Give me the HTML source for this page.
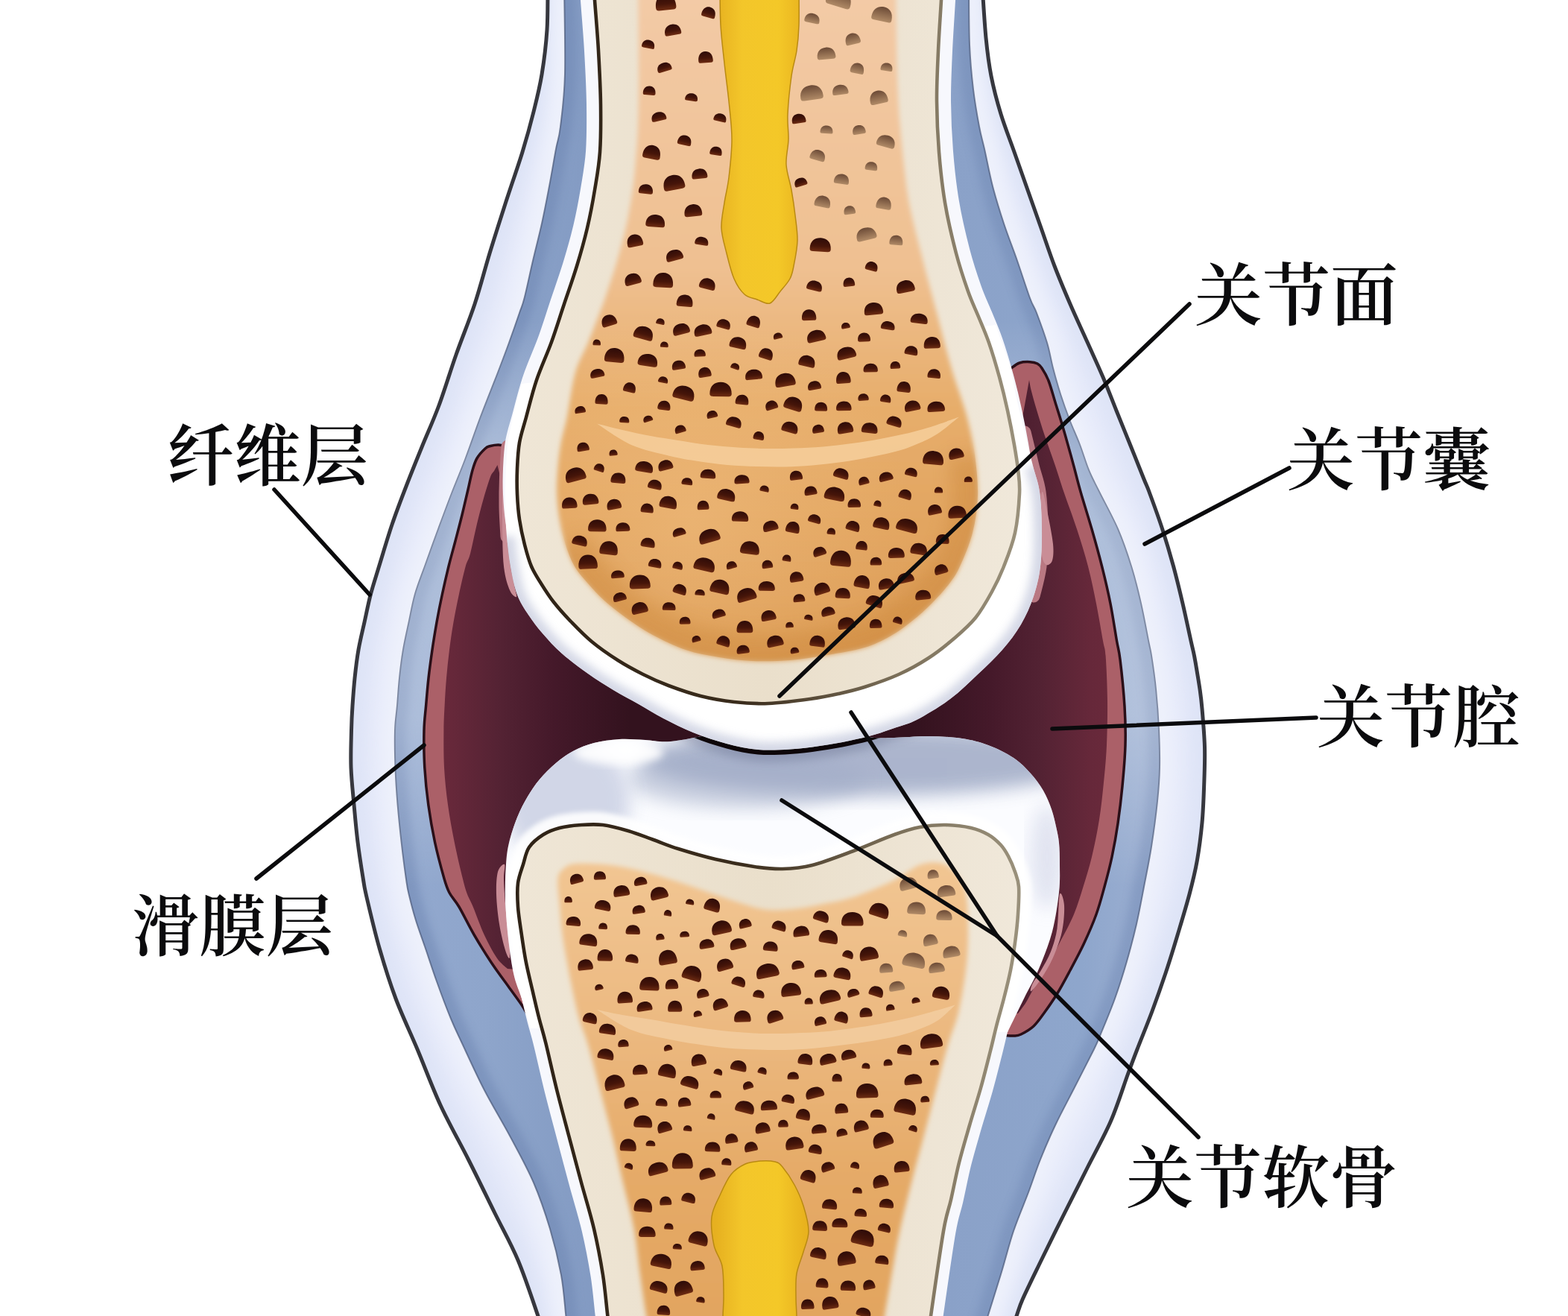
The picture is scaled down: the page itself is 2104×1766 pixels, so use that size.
<!DOCTYPE html>
<html lang="zh-CN"><head><meta charset="utf-8"><title>关节结构示意图</title>
<style>
html,body{margin:0;padding:0;background:#fff;}
body{width:2104px;height:1766px;overflow:hidden;font-family:"Liberation Sans",sans-serif;}
svg{display:block;}
</style></head><body>
<svg width="2104" height="1766" viewBox="0 0 2104 1766" role="img" aria-label="关节结构示意图">
<defs>
<linearGradient id="gFib" x1="0" x2="1" y1="0" y2="0"><stop offset="0" stop-color="#dfe5f8"/><stop offset=".5" stop-color="#eef1fc"/><stop offset="1" stop-color="#dfe5f8"/></linearGradient>
<linearGradient id="gBlue" gradientUnits="userSpaceOnUse" x1="530" x2="1555" y1="0" y2="0"><stop offset="0" stop-color="#93a9cf"/><stop offset=".12" stop-color="#8ea5cb"/><stop offset=".3" stop-color="#7f97c0"/><stop offset=".5" stop-color="#98acd0"/><stop offset=".72" stop-color="#8aa1c8"/><stop offset=".9" stop-color="#8ea6cc"/><stop offset="1" stop-color="#9db0d2"/></linearGradient>
<linearGradient id="gMar" gradientUnits="userSpaceOnUse" x1="560" x2="1510" y1="0" y2="0"><stop offset="0" stop-color="#6c2a3b"/><stop offset=".05" stop-color="#66283a"/><stop offset=".12" stop-color="#532233"/><stop offset=".19" stop-color="#45192a"/><stop offset=".3" stop-color="#33121e"/><stop offset=".7" stop-color="#33121e"/><stop offset=".81" stop-color="#45192a"/><stop offset=".88" stop-color="#532233"/><stop offset=".95" stop-color="#66283a"/><stop offset="1" stop-color="#6c2a3b"/></linearGradient>
<linearGradient id="gCortex" gradientUnits="userSpaceOnUse" x1="690" x2="1370" y1="0" y2="0"><stop offset="0" stop-color="#efe6d6"/><stop offset=".5" stop-color="#eadfcb"/><stop offset="1" stop-color="#f0e8da"/></linearGradient>
<linearGradient id="gSpU" gradientUnits="userSpaceOnUse" x1="0" x2="0" y1="0" y2="900"><stop offset="0" stop-color="#f3caa6"/><stop offset=".4" stop-color="#efc091"/><stop offset=".6" stop-color="#e7ae6c"/><stop offset="1" stop-color="#dc9b54"/></linearGradient>
<radialGradient id="gSpU2" gradientUnits="userSpaceOnUse" cx="930" cy="700" r="420"><stop offset="0" stop-color="#f3c286" stop-opacity=".45"/><stop offset=".7" stop-color="#f2c080" stop-opacity="0"/><stop offset="1" stop-color="#f2c080" stop-opacity="0"/></radialGradient>
<linearGradient id="gSpL" gradientUnits="userSpaceOnUse" x1="0" x2="0" y1="1150" y2="1766"><stop offset="0" stop-color="#f2c693"/><stop offset=".35" stop-color="#ecba82"/><stop offset=".7" stop-color="#e5aa67"/><stop offset="1" stop-color="#e2a560"/></linearGradient>
<linearGradient id="gHole" x1="0" x2="0" y1="0" y2="1"><stop offset="0" stop-color="#2d0b08"/><stop offset=".6" stop-color="#461509"/><stop offset="1" stop-color="#6e2c12"/></linearGradient>
<linearGradient id="gHoleLt" x1="0" x2="0" y1="0" y2="1"><stop offset="0" stop-color="#6b4a36"/><stop offset="1" stop-color="#b08a66"/></linearGradient>
<linearGradient id="gMarrow" gradientUnits="userSpaceOnUse" x1="960" x2="1080" y1="0" y2="0"><stop offset="0" stop-color="#e6b020"/><stop offset=".3" stop-color="#f3c62a"/><stop offset=".7" stop-color="#f4c828"/><stop offset="1" stop-color="#e8b21e"/></linearGradient>
<linearGradient id="gBoneLine" gradientUnits="userSpaceOnUse" x1="690" x2="1370" y1="0" y2="0"><stop offset="0" stop-color="#2e2216"/><stop offset=".45" stop-color="#3a2c1c"/><stop offset=".75" stop-color="#7a6e58"/><stop offset="1" stop-color="#9a917c"/></linearGradient>
<linearGradient id="gCartL" gradientUnits="userSpaceOnUse" x1="0" x2="0" y1="985" y2="1180"><stop offset="0" stop-color="#ffffff"/><stop offset=".25" stop-color="#f4f6fc"/><stop offset=".55" stop-color="#c9d0e2"/><stop offset=".8" stop-color="#e6e9f4"/><stop offset="1" stop-color="#fafbff"/></linearGradient>
<radialGradient id="gCartU" gradientUnits="userSpaceOnUse" cx="1035" cy="690" r="330"><stop offset="0" stop-color="#ffffff"/><stop offset=".86" stop-color="#ffffff"/><stop offset=".95" stop-color="#f1f3fa"/><stop offset="1" stop-color="#d5d9e8"/></radialGradient>
<linearGradient id="gBlueLt" x1="0" x2="0" y1="0" y2="1"><stop offset="0" stop-color="#fff" stop-opacity="0"/><stop offset=".25" stop-color="#fff" stop-opacity=".28"/><stop offset=".7" stop-color="#fff" stop-opacity=".25"/><stop offset="1" stop-color="#fff" stop-opacity="0"/></linearGradient>
<filter id="blur6" x="-20%" y="-20%" width="140%" height="140%"><feGaussianBlur stdDeviation="6"/></filter>
<filter id="blur12" x="-20%" y="-20%" width="140%" height="140%"><feGaussianBlur stdDeviation="12"/></filter>
<filter id="blur3" x="-20%" y="-20%" width="140%" height="140%"><feGaussianBlur stdDeviation="3"/></filter>
<clipPath id="cpFib"><path d="M735 -20C734.8 -10 735.3 20 734 40C732.7 60 730 81.7 727 100C724 118.3 720.3 132.7 716 150C711.7 167.3 707.2 183.7 701 204C694.8 224.3 685.8 249.3 678.5 272C671.2 294.7 663.9 317.3 657 340C650.1 362.7 644.5 385.3 637 408C629.5 430.7 620 453.3 612 476C604 498.7 596.7 523.3 589 544C581.3 564.7 573.2 582.3 566 600C558.8 617.7 552.7 632.7 546 650C539.3 667.3 532.2 685.7 526 704C519.8 722.3 513.4 744.5 508.6 760C503.9 775.5 500.8 784.5 497.5 797C494.2 809.5 491.8 822.5 489 835C486.2 847.5 483.2 859.5 481 872C478.8 884.5 477.3 897.5 476 910C474.7 922.5 473.8 935.3 473 947C472.2 958.7 471.8 966.2 471.5 980C471.2 993.8 470.4 1013.3 471 1030C471.6 1046.7 473.5 1063.3 475 1080C476.5 1096.7 477.9 1113.3 480 1130C482.1 1146.7 485.4 1167.7 487.4 1180C489.4 1192.3 488.4 1188.7 492 1204C495.6 1219.3 502.5 1249.3 509 1272C515.5 1294.7 522.5 1317.3 531 1340C539.5 1362.7 550 1384.2 560 1408C570 1431.8 579.6 1458.3 591 1483C602.4 1507.7 616.3 1531.8 628.5 1556C640.7 1580.2 652.9 1605.5 664 1628C675.1 1650.5 685.3 1668 695 1691C704.7 1714 716.3 1749.5 722 1766C727.7 1782.5 727.8 1786 729 1790L1355 1790C1356.5 1786 1361.1 1773.8 1364 1766C1366.9 1758.2 1366.9 1755.5 1372.4 1743C1378 1730.5 1388 1710.2 1397.3 1691C1406.6 1671.8 1418 1648.8 1428.4 1628C1438.8 1607.2 1449.2 1586.7 1459.6 1566C1470 1545.3 1481.7 1524.8 1490.7 1504C1499.7 1483.2 1507.7 1457 1513.6 1441C1519.5 1425 1520.6 1422 1526 1408C1531.4 1394 1539.7 1374 1546 1357C1552.3 1340 1558.3 1323 1564 1306C1569.7 1289 1574.7 1272.7 1580 1255C1585.3 1237.3 1591.6 1216.7 1596 1200C1600.4 1183.3 1603.5 1171 1606.3 1155C1609.1 1139 1611.4 1121 1613 1104C1614.6 1087 1615.1 1070 1615.7 1053C1616.3 1036 1617 1019 1616.5 1002C1616 985 1614.1 963.8 1613 951C1611.9 938.2 1611.2 933.5 1610 925C1608.8 916.5 1607.2 907.5 1606 900C1604.8 892.5 1603.8 886.7 1602.5 880C1601.2 873.3 1600.6 871.7 1598 860C1595.4 848.3 1590.9 826.7 1587 810C1583.1 793.3 1579.1 776.7 1574.6 760C1570 743.3 1565.1 726.7 1559.7 710C1554.3 693.3 1546.1 671.2 1542 660C1537.9 648.8 1539.2 653.5 1535 643C1530.8 632.5 1522.8 612.3 1516.6 597C1510.4 581.7 1504.1 566.2 1498 551C1491.9 535.8 1486.5 521.3 1480 506C1473.5 490.7 1466.3 475.3 1459 459C1451.7 442.7 1443.3 425 1436 408C1428.7 391 1421.5 374 1415 357C1408.5 340 1403 323 1397 306C1391 289 1385 272 1379 255C1373 238 1367 221 1361 204C1355 187 1348.2 170 1343 153C1337.8 136 1333.3 119 1330 102C1326.7 85 1325 71.3 1323 51C1321 30.7 1318.8 -8.2 1318 -20Z"/></clipPath>
<clipPath id="cpBlue"><path d="M757 -20C757.2 0 758.8 68.3 758 100C757.2 131.7 754 153.3 752 170C750 186.7 748.5 186.7 746 200C743.5 213.3 740.2 233.3 737 250C733.8 266.7 730.7 283.3 727 300C723.3 316.7 718.9 333.3 715 350C711.1 366.7 706.6 388.3 703.6 400C700.6 411.7 700.4 410 697 420C693.6 430 687.8 446.7 683 460C678.2 473.3 674.4 483.3 668 500C661.6 516.7 651.9 540.5 644.6 560C637.3 579.5 630.5 599.8 624 617C617.5 634.2 611.6 647.7 605.7 663C599.8 678.3 594.6 692.4 588.6 708.6C582.6 724.8 575.3 745.3 570 760C564.7 774.7 560.6 784.5 557 797C553.4 809.5 551.3 822.5 548.6 835C545.9 847.5 543.1 859.5 541 872C538.9 884.5 537.3 897.5 536 910C534.7 922.5 534 935.3 533 947C532 958.7 530.4 966.2 530 980C529.6 993.8 529.9 1013.3 530.5 1030C531.1 1046.7 532.2 1063.3 533.6 1080C535 1096.7 536.7 1113.3 538.6 1130C540.5 1146.7 543.3 1168.3 545 1180C546.7 1191.7 546.4 1190.8 548.6 1200C550.8 1209.2 554.4 1223.3 558 1235C561.6 1246.7 565.3 1256.3 570 1270C574.7 1283.7 580.2 1300.8 586 1317C591.8 1333.2 599.3 1353.2 605 1367C610.7 1380.8 612.6 1384.2 620 1400C627.4 1415.8 638.8 1441.2 649.5 1462C660.2 1482.8 673.4 1504.2 684.5 1525C695.6 1545.8 707.1 1566.3 716 1587C724.9 1607.7 731.8 1628.3 738 1649C744.2 1669.7 749.4 1691.5 753 1711C756.6 1730.5 757.9 1752.8 759.4 1766C760.9 1779.2 761.6 1786 762 1790L1318 1790C1322.2 1776.7 1336 1733 1343 1710C1350 1687 1353.8 1670.3 1360 1652C1366.2 1633.7 1374 1616 1380 1600C1386 1584 1390 1571 1396 1556C1402 1541 1408.3 1526.2 1416 1510C1423.7 1493.8 1433.5 1475.7 1442 1459C1450.5 1442.3 1461.3 1421.5 1467 1410C1472.7 1398.5 1471.2 1401.7 1476 1390C1480.8 1378.3 1490 1356.7 1496 1340C1502 1323.3 1507.2 1306.7 1512 1290C1516.8 1273.3 1521.2 1256.7 1525 1240C1528.8 1223.3 1531.7 1207.3 1535 1190C1538.3 1172.7 1542 1155.2 1545 1136C1548 1116.8 1551.2 1092.7 1553 1075C1554.8 1057.3 1555.7 1045.8 1556 1030C1556.3 1014.2 1555.8 997.5 1555 980C1554.2 962.5 1552.7 941.7 1551 925C1549.3 908.3 1546.7 890.8 1545 880C1543.3 869.2 1543.3 871.7 1541 860C1538.7 848.3 1534.8 826.7 1531 810C1527.2 793.3 1523.2 776.7 1518 760C1512.8 743.3 1507.2 726.7 1500 710C1492.8 693.3 1481.5 673.2 1475 660C1468.5 646.8 1465.3 641.5 1461 631C1456.7 620.5 1453.3 608.3 1449 597C1444.7 585.7 1439.3 574.3 1435 563C1430.7 551.7 1426.7 540.5 1423 529C1419.3 517.5 1416 505.5 1413 494C1410 482.5 1408.7 472.3 1405 460C1401.3 447.7 1394.8 430 1391 420C1387.2 410 1386.3 411.7 1382 400C1377.7 388.3 1370.8 366.7 1365 350C1359.2 333.3 1352.5 316.7 1347 300C1341.5 283.3 1336.3 266.7 1332 250C1327.7 233.3 1324 213.3 1321 200C1318 186.7 1316.5 183.3 1314 170C1311.5 156.7 1308.2 138.3 1306 120C1303.8 101.7 1302 83.3 1301 60C1300 36.7 1300.2 -6.7 1300 -20Z"/></clipPath>
<clipPath id="cpSpU"><path d="M856 -20C856.2 0 857 68.3 857 100C857 131.7 856.7 150.8 856 170C855.3 189.2 854.1 201.7 853 215C851.9 228.3 851.5 235.8 849.5 250C847.5 264.2 844.6 283.3 841 300C837.4 316.7 832.8 333.3 828 350C823.2 366.7 815.9 388.3 812 400C808.1 411.7 808.4 410 804.6 420C800.8 430 794.4 446.7 789 460C783.6 473.3 776.7 483.3 772 500C767.3 516.7 764.2 544.3 761 560C757.8 575.7 755.1 582.5 753 594C750.9 605.5 749.5 617.5 748.6 629C747.7 640.5 747 651.7 747.4 663C747.8 674.3 749.1 685.7 751 697C752.9 708.3 755.7 720.5 759 731C762.3 741.5 766 751.3 771 760C776 768.7 782.3 775.3 789 783C795.7 790.7 802.5 798.3 811 806C819.5 813.7 829.5 821.5 840 829C850.5 836.5 860.7 843.8 874 851C887.3 858.2 904.8 866.8 920 872C935.2 877.2 950 879.5 965 882C980 884.5 994.2 886.3 1010 887C1025.8 887.7 1043.3 887.3 1060 886C1076.7 884.7 1093.3 881.8 1110 879C1126.7 876.2 1146 873.2 1160 869C1174 864.8 1183.5 859.8 1194 854C1204.5 848.2 1213.5 841.5 1223 834C1232.5 826.5 1242.5 817.5 1251 809C1259.5 800.5 1267.8 791.2 1274 783C1280.2 774.8 1282.8 771.3 1288 760C1293.2 748.7 1301 730.8 1305 715C1309 699.2 1311.5 682.5 1312 665C1312.5 647.5 1310.2 626.7 1308 610C1305.8 593.3 1302 577.5 1299 565C1296 552.5 1293.2 545 1290 535C1286.8 525 1283.3 515.8 1280 505C1276.7 494.2 1273.8 484.2 1270 470C1266.2 455.8 1261.2 435.8 1257 420C1252.8 404.2 1248.5 388.3 1245 375C1241.5 361.7 1239.2 352.5 1236 340C1232.8 327.5 1229.2 314.2 1226 300C1222.8 285.8 1220 276.7 1217 255C1214 233.3 1210.2 195.8 1208 170C1205.8 144.2 1205 131.7 1204 100C1203 68.3 1202.3 0 1202 -20Z"/></clipPath>
<clipPath id="cpSpL"><path d="M873 1790C872 1786 869.6 1779.2 867.3 1766C865 1752.8 861.8 1730.5 859 1711C856.2 1691.5 854.5 1669.7 850.7 1649C846.9 1628.3 840.9 1607.7 836 1587C831.1 1566.3 826.8 1545.8 821.6 1525C816.4 1504.2 810.5 1482.8 805 1462C799.5 1441.2 793.1 1415.8 788.4 1400C783.7 1384.2 780.3 1378.7 777 1367C773.7 1355.3 771.1 1342.5 768.4 1330C765.7 1317.5 763.3 1304.5 761 1292C758.7 1279.5 756.4 1267.5 754.7 1255C753 1242.5 752 1229.5 751 1217C750 1204.5 747.6 1188.5 748.4 1180C749.2 1171.5 751.7 1169.5 756 1166C760.3 1162.5 762.2 1159.7 774 1159C785.8 1158.3 808.8 1159.3 827 1162C845.2 1164.7 864.5 1169.8 883 1175C901.5 1180.2 919.5 1186.8 938 1193C956.5 1199.2 978.7 1207.3 994 1212C1009.3 1216.7 1017.7 1219.8 1030 1221C1042.3 1222.2 1056.3 1220.7 1068 1219.5C1079.7 1218.3 1087.5 1216.5 1100 1214C1112.5 1211.5 1126.7 1209.9 1143 1204.6C1159.3 1199.3 1182.5 1189.4 1198 1182C1213.5 1174.6 1224.3 1163.7 1236 1160C1247.7 1156.3 1259 1156.2 1268 1160C1277 1163.8 1285 1173.8 1290 1183C1295 1192.2 1296.7 1198.3 1298 1215C1299.3 1231.7 1299.8 1259.7 1298 1283C1296.2 1306.3 1291.2 1335.5 1287 1355C1282.8 1374.5 1277.9 1382.2 1272.7 1400C1267.5 1417.8 1261.5 1441.2 1256 1462C1250.5 1482.8 1245 1504.2 1239.5 1525C1234 1545.8 1228.2 1566.3 1223 1587C1217.8 1607.7 1211.8 1631.7 1208 1649C1204.2 1666.3 1203.5 1671.5 1200 1691C1196.5 1710.5 1189.7 1749.5 1187 1766C1184.3 1782.5 1184.5 1786 1184 1790Z"/></clipPath>
<clipPath id="cpCartL"><path d="M712 1380C710 1373.3 703.8 1352.3 700 1340C696.2 1327.7 692.2 1321 689 1306C685.8 1291 682.8 1267.7 681 1250C679.2 1232.3 678.3 1215 678 1200C677.7 1185 678.2 1171.5 679 1160C679.8 1148.5 680.5 1141.5 683 1131C685.5 1120.5 689.8 1107.3 694 1097C698.2 1086.7 703 1077.5 708 1069C713 1060.5 717.7 1053.5 724 1046C730.3 1038.5 738.5 1030.3 746 1024C753.5 1017.7 760.5 1012.5 769 1008C777.5 1003.5 786.7 999.7 797 997C807.3 994.3 819.5 992.7 831 992C842.5 991.3 854.5 992.5 866 993C877.5 993.5 884.3 996.3 900 995C915.7 993.7 936.7 988.3 960 985C983.3 981.7 1011.7 975.3 1040 975C1068.3 974.7 1107.8 980.5 1130 983C1152.2 985.5 1161.3 988.8 1173 990C1184.7 991.2 1187.8 990.3 1200 990C1212.2 989.7 1230.8 987.8 1246 988C1261.2 988.2 1277.7 989 1291 991C1304.3 993 1314.5 995.7 1326 1000C1337.5 1004.3 1350.5 1010.7 1360 1017C1369.5 1023.3 1376.3 1030.7 1383 1038C1389.7 1045.3 1395.3 1053 1400 1061C1404.7 1069 1408.2 1078 1411 1086C1413.8 1094 1415.3 1101.5 1417 1109C1418.7 1116.5 1420.2 1122.5 1421 1131C1421.8 1139.5 1422 1149 1422 1160C1422 1171 1422.7 1182 1421 1197C1419.3 1212 1416.5 1232.8 1412 1250C1407.5 1267.2 1400.3 1285 1394 1300C1387.7 1315 1381 1325.8 1374 1340C1367 1354.2 1355.7 1377.5 1352 1385Z"/></clipPath>
<clipPath id="cpCartU"><path d="M700 515C699 518.3 696 527.5 694 535C692 542.5 689.8 551.7 688 560C686.2 568.3 684.2 578.5 683 585C681.8 591.5 681.8 589.8 681 599C680.2 608.2 679 626.5 678.5 640C678 653.5 677.8 666.7 678 680C678.2 693.3 678.8 706.7 680 720C681.2 733.3 682.7 747 685 760C687.3 773 690 787.2 694 798C698 808.8 703.3 816.3 709 825C714.7 833.7 720.5 841.3 728 850C735.5 858.7 743.8 868 754 877C764.2 886 777.5 895.8 789 904C800.5 912.2 811.7 919.2 823 926C834.3 932.8 845.8 938.7 857 945C868.2 951.3 877.8 957.7 890 964C902.2 970.3 915.8 977.3 930 983C944.2 988.7 960.5 994.2 975 998C989.5 1001.8 1002.8 1004.8 1017 1006C1031.2 1007.2 1046.2 1006.3 1060 1005.5C1073.8 1004.7 1086.7 1002.9 1100 1001C1113.3 999.1 1127.8 996.5 1140 994C1152.2 991.5 1162.5 989 1173 986C1183.5 983 1193.5 979.3 1203 976C1212.5 972.7 1218 972.3 1230 966C1242 959.7 1261.2 948.3 1275 938C1288.8 927.7 1301.3 915 1313 904C1324.7 893 1335.5 883 1345 872C1354.5 861 1363 850 1370 838C1377 826 1382.7 813 1387 800C1391.3 787 1394.2 775 1396 760C1397.8 745 1398.2 726.7 1398 710C1397.8 693.3 1397 674.2 1395 660C1393 645.8 1389.3 638.3 1386 625C1382.7 611.7 1378.7 595 1375 580C1371.3 565 1367.2 549.3 1364 535C1360.8 520.7 1359.2 506.2 1356 494C1352.8 481.8 1348.3 471.7 1345 462C1341.7 452.3 1337.5 440.3 1336 436Z"/></clipPath>
<clipPath id="cpMar"><path d="M681 599C679 598.7 672.8 597.1 669 597C665.2 596.9 661 597.7 658 598.5C655 599.3 654 599.2 651 602C648 604.8 642.8 610.2 640 615C637.2 619.8 636 624 634 631C632 638 630.3 647 628 657C625.7 667 622.8 679.5 620 691C617.2 702.5 614 714.5 611 726C608 737.5 604.9 748.2 602 760C599.1 771.8 596.2 784.5 593.5 797C590.8 809.5 588.2 822.5 586 835C583.8 847.5 581.8 859.5 580 872C578.2 884.5 576.4 897.5 575 910C573.6 922.5 572.6 935.3 571.6 947C570.6 958.7 569.3 966.2 569 980C568.7 993.8 568.8 1013.3 569.8 1030C570.8 1046.7 572.5 1063.3 574.8 1080C577.1 1096.7 580 1113.5 583.5 1130C587 1146.5 592.8 1167.7 596 1179C599.2 1190.3 599.7 1191.7 603 1198C606.3 1204.3 610.4 1207.5 616 1217C621.6 1226.5 629.2 1242.5 636.5 1255C643.8 1267.5 651.9 1280.6 659.5 1292C667.1 1303.4 675.2 1314.1 682 1323.5C688.8 1332.9 695.8 1342.2 700 1348.5C704.2 1354.8 706.2 1358.9 707.5 1361L1350 1389.6C1351.7 1389.7 1356.7 1390.3 1360 1390C1363.3 1389.7 1365.5 1390.2 1370 1388C1374.5 1385.8 1381.7 1382 1387 1377C1392.3 1372 1396.8 1365.2 1402 1358C1407.2 1350.8 1412.8 1342.8 1418.5 1333.5C1424.2 1324.2 1429.9 1313.4 1436 1302C1442.1 1290.6 1449.2 1277.5 1455 1265C1460.8 1252.5 1466.5 1239.5 1471 1227C1475.5 1214.5 1478.5 1202.8 1482 1190C1485.5 1177.2 1489 1164.2 1492 1150C1495 1135.8 1497.7 1120.8 1500 1105C1502.3 1089.2 1504.3 1072.5 1506 1055C1507.7 1037.5 1509.5 1017.8 1510 1000C1510.5 982.2 1510.2 967.2 1509 948C1507.8 928.8 1504.8 899.7 1503 885C1501.2 870.3 1500.7 872.5 1498.5 860C1496.3 847.5 1493.3 826.7 1490 810C1486.7 793.3 1482.8 776.7 1478.6 760C1474.4 743.3 1469.8 726.7 1465 710C1460.2 693.3 1454 674 1450 660C1446 646 1443.8 636.5 1441 626C1438.2 615.5 1435.7 606.5 1433 597C1430.3 587.5 1427.8 578.5 1425 569C1422.2 559.5 1419 549.7 1416 540C1413 530.3 1410 518.7 1407 511C1404 503.3 1400.5 497.8 1398 494C1395.5 490.2 1394.7 489.4 1392 488C1389.3 486.6 1386 485.9 1382 485.7C1378 485.5 1372.2 485.6 1368 487C1363.8 488.4 1358.8 492.8 1357 494L1370 560L690 640Z"/></clipPath>
</defs>
<rect width="100%" height="100%" fill="#fff"/>
<path d="M735 -20C734.8 -10 735.3 20 734 40C732.7 60 730 81.7 727 100C724 118.3 720.3 132.7 716 150C711.7 167.3 707.2 183.7 701 204C694.8 224.3 685.8 249.3 678.5 272C671.2 294.7 663.9 317.3 657 340C650.1 362.7 644.5 385.3 637 408C629.5 430.7 620 453.3 612 476C604 498.7 596.7 523.3 589 544C581.3 564.7 573.2 582.3 566 600C558.8 617.7 552.7 632.7 546 650C539.3 667.3 532.2 685.7 526 704C519.8 722.3 513.4 744.5 508.6 760C503.9 775.5 500.8 784.5 497.5 797C494.2 809.5 491.8 822.5 489 835C486.2 847.5 483.2 859.5 481 872C478.8 884.5 477.3 897.5 476 910C474.7 922.5 473.8 935.3 473 947C472.2 958.7 471.8 966.2 471.5 980C471.2 993.8 470.4 1013.3 471 1030C471.6 1046.7 473.5 1063.3 475 1080C476.5 1096.7 477.9 1113.3 480 1130C482.1 1146.7 485.4 1167.7 487.4 1180C489.4 1192.3 488.4 1188.7 492 1204C495.6 1219.3 502.5 1249.3 509 1272C515.5 1294.7 522.5 1317.3 531 1340C539.5 1362.7 550 1384.2 560 1408C570 1431.8 579.6 1458.3 591 1483C602.4 1507.7 616.3 1531.8 628.5 1556C640.7 1580.2 652.9 1605.5 664 1628C675.1 1650.5 685.3 1668 695 1691C704.7 1714 716.3 1749.5 722 1766C727.7 1782.5 727.8 1786 729 1790L1355 1790C1356.5 1786 1361.1 1773.8 1364 1766C1366.9 1758.2 1366.9 1755.5 1372.4 1743C1378 1730.5 1388 1710.2 1397.3 1691C1406.6 1671.8 1418 1648.8 1428.4 1628C1438.8 1607.2 1449.2 1586.7 1459.6 1566C1470 1545.3 1481.7 1524.8 1490.7 1504C1499.7 1483.2 1507.7 1457 1513.6 1441C1519.5 1425 1520.6 1422 1526 1408C1531.4 1394 1539.7 1374 1546 1357C1552.3 1340 1558.3 1323 1564 1306C1569.7 1289 1574.7 1272.7 1580 1255C1585.3 1237.3 1591.6 1216.7 1596 1200C1600.4 1183.3 1603.5 1171 1606.3 1155C1609.1 1139 1611.4 1121 1613 1104C1614.6 1087 1615.1 1070 1615.7 1053C1616.3 1036 1617 1019 1616.5 1002C1616 985 1614.1 963.8 1613 951C1611.9 938.2 1611.2 933.5 1610 925C1608.8 916.5 1607.2 907.5 1606 900C1604.8 892.5 1603.8 886.7 1602.5 880C1601.2 873.3 1600.6 871.7 1598 860C1595.4 848.3 1590.9 826.7 1587 810C1583.1 793.3 1579.1 776.7 1574.6 760C1570 743.3 1565.1 726.7 1559.7 710C1554.3 693.3 1546.1 671.2 1542 660C1537.9 648.8 1539.2 653.5 1535 643C1530.8 632.5 1522.8 612.3 1516.6 597C1510.4 581.7 1504.1 566.2 1498 551C1491.9 535.8 1486.5 521.3 1480 506C1473.5 490.7 1466.3 475.3 1459 459C1451.7 442.7 1443.3 425 1436 408C1428.7 391 1421.5 374 1415 357C1408.5 340 1403 323 1397 306C1391 289 1385 272 1379 255C1373 238 1367 221 1361 204C1355 187 1348.2 170 1343 153C1337.8 136 1333.3 119 1330 102C1326.7 85 1325 71.3 1323 51C1321 30.7 1318.8 -8.2 1318 -20Z" fill="#e6eafa"/>
<g clip-path="url(#cpFib)"><path d="M735 -20C734.8 -10 735.3 20 734 40C732.7 60 730 81.7 727 100C724 118.3 720.3 132.7 716 150C711.7 167.3 707.2 183.7 701 204C694.8 224.3 685.8 249.3 678.5 272C671.2 294.7 663.9 317.3 657 340C650.1 362.7 644.5 385.3 637 408C629.5 430.7 620 453.3 612 476C604 498.7 596.7 523.3 589 544C581.3 564.7 573.2 582.3 566 600C558.8 617.7 552.7 632.7 546 650C539.3 667.3 532.2 685.7 526 704C519.8 722.3 513.4 744.5 508.6 760C503.9 775.5 500.8 784.5 497.5 797C494.2 809.5 491.8 822.5 489 835C486.2 847.5 483.2 859.5 481 872C478.8 884.5 477.3 897.5 476 910C474.7 922.5 473.8 935.3 473 947C472.2 958.7 471.8 966.2 471.5 980C471.2 993.8 470.4 1013.3 471 1030C471.6 1046.7 473.5 1063.3 475 1080C476.5 1096.7 477.9 1113.3 480 1130C482.1 1146.7 485.4 1167.7 487.4 1180C489.4 1192.3 488.4 1188.7 492 1204C495.6 1219.3 502.5 1249.3 509 1272C515.5 1294.7 522.5 1317.3 531 1340C539.5 1362.7 550 1384.2 560 1408C570 1431.8 579.6 1458.3 591 1483C602.4 1507.7 616.3 1531.8 628.5 1556C640.7 1580.2 652.9 1605.5 664 1628C675.1 1650.5 685.3 1668 695 1691C704.7 1714 716.3 1749.5 722 1766C727.7 1782.5 727.8 1786 729 1790" fill="none" stroke="#dde3f6" stroke-width="36" filter="url(#blur12)"/><path d="M1318 -20C1318.8 -8.2 1321 30.7 1323 51C1325 71.3 1326.7 85 1330 102C1333.3 119 1337.8 136 1343 153C1348.2 170 1355 187 1361 204C1367 221 1373 238 1379 255C1385 272 1391 289 1397 306C1403 323 1408.5 340 1415 357C1421.5 374 1428.7 391 1436 408C1443.3 425 1451.7 442.7 1459 459C1466.3 475.3 1473.5 490.7 1480 506C1486.5 521.3 1491.9 535.8 1498 551C1504.1 566.2 1510.4 581.7 1516.6 597C1522.8 612.3 1530.8 632.5 1535 643C1539.2 653.5 1537.9 648.8 1542 660C1546.1 671.2 1554.3 693.3 1559.7 710C1565.1 726.7 1570 743.3 1574.6 760C1579.1 776.7 1583.1 793.3 1587 810C1590.9 826.7 1595.4 848.3 1598 860C1600.6 871.7 1601.2 873.3 1602.5 880C1603.8 886.7 1604.8 892.5 1606 900C1607.2 907.5 1608.8 916.5 1610 925C1611.2 933.5 1611.9 938.2 1613 951C1614.1 963.8 1616 985 1616.5 1002C1617 1019 1616.3 1036 1615.7 1053C1615.1 1070 1614.6 1087 1613 1104C1611.4 1121 1609.1 1139 1606.3 1155C1603.5 1171 1600.4 1183.3 1596 1200C1591.6 1216.7 1585.3 1237.3 1580 1255C1574.7 1272.7 1569.7 1289 1564 1306C1558.3 1323 1552.3 1340 1546 1357C1539.7 1374 1531.4 1394 1526 1408C1520.6 1422 1519.5 1425 1513.6 1441C1507.7 1457 1499.7 1483.2 1490.7 1504C1481.7 1524.8 1470 1545.3 1459.6 1566C1449.2 1586.7 1438.8 1607.2 1428.4 1628C1418 1648.8 1406.6 1671.8 1397.3 1691C1388 1710.2 1378 1730.5 1372.4 1743C1366.9 1755.5 1366.9 1758.2 1364 1766C1361.1 1773.8 1356.5 1786 1355 1790" fill="none" stroke="#dde3f6" stroke-width="36" filter="url(#blur12)"/><path d="M757 -20C757.2 0 758.8 68.3 758 100C757.2 131.7 754 153.3 752 170C750 186.7 748.5 186.7 746 200C743.5 213.3 740.2 233.3 737 250C733.8 266.7 730.7 283.3 727 300C723.3 316.7 718.9 333.3 715 350C711.1 366.7 706.6 388.3 703.6 400C700.6 411.7 700.4 410 697 420C693.6 430 687.8 446.7 683 460C678.2 473.3 674.4 483.3 668 500C661.6 516.7 651.9 540.5 644.6 560C637.3 579.5 630.5 599.8 624 617C617.5 634.2 611.6 647.7 605.7 663C599.8 678.3 594.6 692.4 588.6 708.6C582.6 724.8 575.3 745.3 570 760C564.7 774.7 560.6 784.5 557 797C553.4 809.5 551.3 822.5 548.6 835C545.9 847.5 543.1 859.5 541 872C538.9 884.5 537.3 897.5 536 910C534.7 922.5 534 935.3 533 947C532 958.7 530.4 966.2 530 980C529.6 993.8 529.9 1013.3 530.5 1030C531.1 1046.7 532.2 1063.3 533.6 1080C535 1096.7 536.7 1113.3 538.6 1130C540.5 1146.7 543.3 1168.3 545 1180C546.7 1191.7 546.4 1190.8 548.6 1200C550.8 1209.2 554.4 1223.3 558 1235C561.6 1246.7 565.3 1256.3 570 1270C574.7 1283.7 580.2 1300.8 586 1317C591.8 1333.2 599.3 1353.2 605 1367C610.7 1380.8 612.6 1384.2 620 1400C627.4 1415.8 638.8 1441.2 649.5 1462C660.2 1482.8 673.4 1504.2 684.5 1525C695.6 1545.8 707.1 1566.3 716 1587C724.9 1607.7 731.8 1628.3 738 1649C744.2 1669.7 749.4 1691.5 753 1711C756.6 1730.5 757.9 1752.8 759.4 1766C760.9 1779.2 761.6 1786 762 1790" fill="none" stroke="#eff2fc" stroke-width="34" filter="url(#blur12)"/><path d="M1300 -20C1300.2 -6.7 1300 36.7 1301 60C1302 83.3 1303.8 101.7 1306 120C1308.2 138.3 1311.5 156.7 1314 170C1316.5 183.3 1318 186.7 1321 200C1324 213.3 1327.7 233.3 1332 250C1336.3 266.7 1341.5 283.3 1347 300C1352.5 316.7 1359.2 333.3 1365 350C1370.8 366.7 1377.7 388.3 1382 400C1386.3 411.7 1387.2 410 1391 420C1394.8 430 1401.3 447.7 1405 460C1408.7 472.3 1410 482.5 1413 494C1416 505.5 1419.3 517.5 1423 529C1426.7 540.5 1430.7 551.7 1435 563C1439.3 574.3 1444.7 585.7 1449 597C1453.3 608.3 1456.7 620.5 1461 631C1465.3 641.5 1468.5 646.8 1475 660C1481.5 673.2 1492.8 693.3 1500 710C1507.2 726.7 1512.8 743.3 1518 760C1523.2 776.7 1527.2 793.3 1531 810C1534.8 826.7 1538.7 848.3 1541 860C1543.3 871.7 1543.3 869.2 1545 880C1546.7 890.8 1549.3 908.3 1551 925C1552.7 941.7 1554.2 962.5 1555 980C1555.8 997.5 1556.3 1014.2 1556 1030C1555.7 1045.8 1554.8 1057.3 1553 1075C1551.2 1092.7 1548 1116.8 1545 1136C1542 1155.2 1538.3 1172.7 1535 1190C1531.7 1207.3 1528.8 1223.3 1525 1240C1521.2 1256.7 1516.8 1273.3 1512 1290C1507.2 1306.7 1502 1323.3 1496 1340C1490 1356.7 1480.8 1378.3 1476 1390C1471.2 1401.7 1472.7 1398.5 1467 1410C1461.3 1421.5 1450.5 1442.3 1442 1459C1433.5 1475.7 1423.7 1493.8 1416 1510C1408.3 1526.2 1402 1541 1396 1556C1390 1571 1386 1584 1380 1600C1374 1616 1366.2 1633.7 1360 1652C1353.8 1670.3 1350 1687 1343 1710C1336 1733 1322.2 1776.7 1318 1790" fill="none" stroke="#eff2fc" stroke-width="34" filter="url(#blur12)"/></g>
<path d="M735 -20C734.8 -10 735.3 20 734 40C732.7 60 730 81.7 727 100C724 118.3 720.3 132.7 716 150C711.7 167.3 707.2 183.7 701 204C694.8 224.3 685.8 249.3 678.5 272C671.2 294.7 663.9 317.3 657 340C650.1 362.7 644.5 385.3 637 408C629.5 430.7 620 453.3 612 476C604 498.7 596.7 523.3 589 544C581.3 564.7 573.2 582.3 566 600C558.8 617.7 552.7 632.7 546 650C539.3 667.3 532.2 685.7 526 704C519.8 722.3 513.4 744.5 508.6 760C503.9 775.5 500.8 784.5 497.5 797C494.2 809.5 491.8 822.5 489 835C486.2 847.5 483.2 859.5 481 872C478.8 884.5 477.3 897.5 476 910C474.7 922.5 473.8 935.3 473 947C472.2 958.7 471.8 966.2 471.5 980C471.2 993.8 470.4 1013.3 471 1030C471.6 1046.7 473.5 1063.3 475 1080C476.5 1096.7 477.9 1113.3 480 1130C482.1 1146.7 485.4 1167.7 487.4 1180C489.4 1192.3 488.4 1188.7 492 1204C495.6 1219.3 502.5 1249.3 509 1272C515.5 1294.7 522.5 1317.3 531 1340C539.5 1362.7 550 1384.2 560 1408C570 1431.8 579.6 1458.3 591 1483C602.4 1507.7 616.3 1531.8 628.5 1556C640.7 1580.2 652.9 1605.5 664 1628C675.1 1650.5 685.3 1668 695 1691C704.7 1714 716.3 1749.5 722 1766C727.7 1782.5 727.8 1786 729 1790" fill="none" stroke="#36373e" stroke-width="5"/>
<path d="M1318 -20C1318.8 -8.2 1321 30.7 1323 51C1325 71.3 1326.7 85 1330 102C1333.3 119 1337.8 136 1343 153C1348.2 170 1355 187 1361 204C1367 221 1373 238 1379 255C1385 272 1391 289 1397 306C1403 323 1408.5 340 1415 357C1421.5 374 1428.7 391 1436 408C1443.3 425 1451.7 442.7 1459 459C1466.3 475.3 1473.5 490.7 1480 506C1486.5 521.3 1491.9 535.8 1498 551C1504.1 566.2 1510.4 581.7 1516.6 597C1522.8 612.3 1530.8 632.5 1535 643C1539.2 653.5 1537.9 648.8 1542 660C1546.1 671.2 1554.3 693.3 1559.7 710C1565.1 726.7 1570 743.3 1574.6 760C1579.1 776.7 1583.1 793.3 1587 810C1590.9 826.7 1595.4 848.3 1598 860C1600.6 871.7 1601.2 873.3 1602.5 880C1603.8 886.7 1604.8 892.5 1606 900C1607.2 907.5 1608.8 916.5 1610 925C1611.2 933.5 1611.9 938.2 1613 951C1614.1 963.8 1616 985 1616.5 1002C1617 1019 1616.3 1036 1615.7 1053C1615.1 1070 1614.6 1087 1613 1104C1611.4 1121 1609.1 1139 1606.3 1155C1603.5 1171 1600.4 1183.3 1596 1200C1591.6 1216.7 1585.3 1237.3 1580 1255C1574.7 1272.7 1569.7 1289 1564 1306C1558.3 1323 1552.3 1340 1546 1357C1539.7 1374 1531.4 1394 1526 1408C1520.6 1422 1519.5 1425 1513.6 1441C1507.7 1457 1499.7 1483.2 1490.7 1504C1481.7 1524.8 1470 1545.3 1459.6 1566C1449.2 1586.7 1438.8 1607.2 1428.4 1628C1418 1648.8 1406.6 1671.8 1397.3 1691C1388 1710.2 1378 1730.5 1372.4 1743C1366.9 1755.5 1366.9 1758.2 1364 1766C1361.1 1773.8 1356.5 1786 1355 1790" fill="none" stroke="#36373e" stroke-width="5"/>
<path d="M757 -20C757.2 0 758.8 68.3 758 100C757.2 131.7 754 153.3 752 170C750 186.7 748.5 186.7 746 200C743.5 213.3 740.2 233.3 737 250C733.8 266.7 730.7 283.3 727 300C723.3 316.7 718.9 333.3 715 350C711.1 366.7 706.6 388.3 703.6 400C700.6 411.7 700.4 410 697 420C693.6 430 687.8 446.7 683 460C678.2 473.3 674.4 483.3 668 500C661.6 516.7 651.9 540.5 644.6 560C637.3 579.5 630.5 599.8 624 617C617.5 634.2 611.6 647.7 605.7 663C599.8 678.3 594.6 692.4 588.6 708.6C582.6 724.8 575.3 745.3 570 760C564.7 774.7 560.6 784.5 557 797C553.4 809.5 551.3 822.5 548.6 835C545.9 847.5 543.1 859.5 541 872C538.9 884.5 537.3 897.5 536 910C534.7 922.5 534 935.3 533 947C532 958.7 530.4 966.2 530 980C529.6 993.8 529.9 1013.3 530.5 1030C531.1 1046.7 532.2 1063.3 533.6 1080C535 1096.7 536.7 1113.3 538.6 1130C540.5 1146.7 543.3 1168.3 545 1180C546.7 1191.7 546.4 1190.8 548.6 1200C550.8 1209.2 554.4 1223.3 558 1235C561.6 1246.7 565.3 1256.3 570 1270C574.7 1283.7 580.2 1300.8 586 1317C591.8 1333.2 599.3 1353.2 605 1367C610.7 1380.8 612.6 1384.2 620 1400C627.4 1415.8 638.8 1441.2 649.5 1462C660.2 1482.8 673.4 1504.2 684.5 1525C695.6 1545.8 707.1 1566.3 716 1587C724.9 1607.7 731.8 1628.3 738 1649C744.2 1669.7 749.4 1691.5 753 1711C756.6 1730.5 757.9 1752.8 759.4 1766C760.9 1779.2 761.6 1786 762 1790L1318 1790C1322.2 1776.7 1336 1733 1343 1710C1350 1687 1353.8 1670.3 1360 1652C1366.2 1633.7 1374 1616 1380 1600C1386 1584 1390 1571 1396 1556C1402 1541 1408.3 1526.2 1416 1510C1423.7 1493.8 1433.5 1475.7 1442 1459C1450.5 1442.3 1461.3 1421.5 1467 1410C1472.7 1398.5 1471.2 1401.7 1476 1390C1480.8 1378.3 1490 1356.7 1496 1340C1502 1323.3 1507.2 1306.7 1512 1290C1516.8 1273.3 1521.2 1256.7 1525 1240C1528.8 1223.3 1531.7 1207.3 1535 1190C1538.3 1172.7 1542 1155.2 1545 1136C1548 1116.8 1551.2 1092.7 1553 1075C1554.8 1057.3 1555.7 1045.8 1556 1030C1556.3 1014.2 1555.8 997.5 1555 980C1554.2 962.5 1552.7 941.7 1551 925C1549.3 908.3 1546.7 890.8 1545 880C1543.3 869.2 1543.3 871.7 1541 860C1538.7 848.3 1534.8 826.7 1531 810C1527.2 793.3 1523.2 776.7 1518 760C1512.8 743.3 1507.2 726.7 1500 710C1492.8 693.3 1481.5 673.2 1475 660C1468.5 646.8 1465.3 641.5 1461 631C1456.7 620.5 1453.3 608.3 1449 597C1444.7 585.7 1439.3 574.3 1435 563C1430.7 551.7 1426.7 540.5 1423 529C1419.3 517.5 1416 505.5 1413 494C1410 482.5 1408.7 472.3 1405 460C1401.3 447.7 1394.8 430 1391 420C1387.2 410 1386.3 411.7 1382 400C1377.7 388.3 1370.8 366.7 1365 350C1359.2 333.3 1352.5 316.7 1347 300C1341.5 283.3 1336.3 266.7 1332 250C1327.7 233.3 1324 213.3 1321 200C1318 186.7 1316.5 183.3 1314 170C1311.5 156.7 1308.2 138.3 1306 120C1303.8 101.7 1302 83.3 1301 60C1300 36.7 1300.2 -6.7 1300 -20Z" fill="url(#gBlue)"/>
<g clip-path="url(#cpBlue)"><path d="M757 -20C757.2 0 758.8 68.3 758 100C757.2 131.7 754 153.3 752 170C750 186.7 748.5 186.7 746 200C743.5 213.3 740.2 233.3 737 250C733.8 266.7 730.7 283.3 727 300C723.3 316.7 718.9 333.3 715 350C711.1 366.7 706.6 388.3 703.6 400C700.6 411.7 700.4 410 697 420C693.6 430 687.8 446.7 683 460C678.2 473.3 674.4 483.3 668 500C661.6 516.7 651.9 540.5 644.6 560C637.3 579.5 630.5 599.8 624 617C617.5 634.2 611.6 647.7 605.7 663C599.8 678.3 594.6 692.4 588.6 708.6C582.6 724.8 575.3 745.3 570 760C564.7 774.7 560.6 784.5 557 797C553.4 809.5 551.3 822.5 548.6 835C545.9 847.5 543.1 859.5 541 872C538.9 884.5 537.3 897.5 536 910C534.7 922.5 534 935.3 533 947C532 958.7 530.4 966.2 530 980C529.6 993.8 529.9 1013.3 530.5 1030C531.1 1046.7 532.2 1063.3 533.6 1080C535 1096.7 536.7 1113.3 538.6 1130C540.5 1146.7 543.3 1168.3 545 1180C546.7 1191.7 546.4 1190.8 548.6 1200C550.8 1209.2 554.4 1223.3 558 1235C561.6 1246.7 565.3 1256.3 570 1270C574.7 1283.7 580.2 1300.8 586 1317C591.8 1333.2 599.3 1353.2 605 1367C610.7 1380.8 612.6 1384.2 620 1400C627.4 1415.8 638.8 1441.2 649.5 1462C660.2 1482.8 673.4 1504.2 684.5 1525C695.6 1545.8 707.1 1566.3 716 1587C724.9 1607.7 731.8 1628.3 738 1649C744.2 1669.7 749.4 1691.5 753 1711C756.6 1730.5 757.9 1752.8 759.4 1766C760.9 1779.2 761.6 1786 762 1790" fill="none" stroke="#6f87b3" stroke-width="30" opacity=".55" filter="url(#blur6)"/><path d="M1300 -20C1300.2 -6.7 1300 36.7 1301 60C1302 83.3 1303.8 101.7 1306 120C1308.2 138.3 1311.5 156.7 1314 170C1316.5 183.3 1318 186.7 1321 200C1324 213.3 1327.7 233.3 1332 250C1336.3 266.7 1341.5 283.3 1347 300C1352.5 316.7 1359.2 333.3 1365 350C1370.8 366.7 1377.7 388.3 1382 400C1386.3 411.7 1387.2 410 1391 420C1394.8 430 1401.3 447.7 1405 460C1408.7 472.3 1410 482.5 1413 494C1416 505.5 1419.3 517.5 1423 529C1426.7 540.5 1430.7 551.7 1435 563C1439.3 574.3 1444.7 585.7 1449 597C1453.3 608.3 1456.7 620.5 1461 631C1465.3 641.5 1468.5 646.8 1475 660C1481.5 673.2 1492.8 693.3 1500 710C1507.2 726.7 1512.8 743.3 1518 760C1523.2 776.7 1527.2 793.3 1531 810C1534.8 826.7 1538.7 848.3 1541 860C1543.3 871.7 1543.3 869.2 1545 880C1546.7 890.8 1549.3 908.3 1551 925C1552.7 941.7 1554.2 962.5 1555 980C1555.8 997.5 1556.3 1014.2 1556 1030C1555.7 1045.8 1554.8 1057.3 1553 1075C1551.2 1092.7 1548 1116.8 1545 1136C1542 1155.2 1538.3 1172.7 1535 1190C1531.7 1207.3 1528.8 1223.3 1525 1240C1521.2 1256.7 1516.8 1273.3 1512 1290C1507.2 1306.7 1502 1323.3 1496 1340C1490 1356.7 1480.8 1378.3 1476 1390C1471.2 1401.7 1472.7 1398.5 1467 1410C1461.3 1421.5 1450.5 1442.3 1442 1459C1433.5 1475.7 1423.7 1493.8 1416 1510C1408.3 1526.2 1402 1541 1396 1556C1390 1571 1386 1584 1380 1600C1374 1616 1366.2 1633.7 1360 1652C1353.8 1670.3 1350 1687 1343 1710C1336 1733 1322.2 1776.7 1318 1790" fill="none" stroke="#6f87b3" stroke-width="30" opacity=".45" filter="url(#blur6)"/></g>
<path d="M757 -20C757.2 0 758.8 68.3 758 100C757.2 131.7 754 153.3 752 170C750 186.7 748.5 186.7 746 200C743.5 213.3 740.2 233.3 737 250C733.8 266.7 730.7 283.3 727 300C723.3 316.7 718.9 333.3 715 350C711.1 366.7 706.6 388.3 703.6 400C700.6 411.7 700.4 410 697 420C693.6 430 687.8 446.7 683 460C678.2 473.3 674.4 483.3 668 500C661.6 516.7 651.9 540.5 644.6 560C637.3 579.5 630.5 599.8 624 617C617.5 634.2 611.6 647.7 605.7 663C599.8 678.3 594.6 692.4 588.6 708.6C582.6 724.8 575.3 745.3 570 760C564.7 774.7 560.6 784.5 557 797C553.4 809.5 551.3 822.5 548.6 835C545.9 847.5 543.1 859.5 541 872C538.9 884.5 537.3 897.5 536 910C534.7 922.5 534 935.3 533 947C532 958.7 530.4 966.2 530 980C529.6 993.8 529.9 1013.3 530.5 1030C531.1 1046.7 532.2 1063.3 533.6 1080C535 1096.7 536.7 1113.3 538.6 1130C540.5 1146.7 543.3 1168.3 545 1180C546.7 1191.7 546.4 1190.8 548.6 1200C550.8 1209.2 554.4 1223.3 558 1235C561.6 1246.7 565.3 1256.3 570 1270C574.7 1283.7 580.2 1300.8 586 1317C591.8 1333.2 599.3 1353.2 605 1367C610.7 1380.8 612.6 1384.2 620 1400C627.4 1415.8 638.8 1441.2 649.5 1462C660.2 1482.8 673.4 1504.2 684.5 1525C695.6 1545.8 707.1 1566.3 716 1587C724.9 1607.7 731.8 1628.3 738 1649C744.2 1669.7 749.4 1691.5 753 1711C756.6 1730.5 757.9 1752.8 759.4 1766C760.9 1779.2 761.6 1786 762 1790" fill="none" stroke="#4a5878" stroke-width="2" opacity=".7"/>
<path d="M1300 -20C1300.2 -6.7 1300 36.7 1301 60C1302 83.3 1303.8 101.7 1306 120C1308.2 138.3 1311.5 156.7 1314 170C1316.5 183.3 1318 186.7 1321 200C1324 213.3 1327.7 233.3 1332 250C1336.3 266.7 1341.5 283.3 1347 300C1352.5 316.7 1359.2 333.3 1365 350C1370.8 366.7 1377.7 388.3 1382 400C1386.3 411.7 1387.2 410 1391 420C1394.8 430 1401.3 447.7 1405 460C1408.7 472.3 1410 482.5 1413 494C1416 505.5 1419.3 517.5 1423 529C1426.7 540.5 1430.7 551.7 1435 563C1439.3 574.3 1444.7 585.7 1449 597C1453.3 608.3 1456.7 620.5 1461 631C1465.3 641.5 1468.5 646.8 1475 660C1481.5 673.2 1492.8 693.3 1500 710C1507.2 726.7 1512.8 743.3 1518 760C1523.2 776.7 1527.2 793.3 1531 810C1534.8 826.7 1538.7 848.3 1541 860C1543.3 871.7 1543.3 869.2 1545 880C1546.7 890.8 1549.3 908.3 1551 925C1552.7 941.7 1554.2 962.5 1555 980C1555.8 997.5 1556.3 1014.2 1556 1030C1555.7 1045.8 1554.8 1057.3 1553 1075C1551.2 1092.7 1548 1116.8 1545 1136C1542 1155.2 1538.3 1172.7 1535 1190C1531.7 1207.3 1528.8 1223.3 1525 1240C1521.2 1256.7 1516.8 1273.3 1512 1290C1507.2 1306.7 1502 1323.3 1496 1340C1490 1356.7 1480.8 1378.3 1476 1390C1471.2 1401.7 1472.7 1398.5 1467 1410C1461.3 1421.5 1450.5 1442.3 1442 1459C1433.5 1475.7 1423.7 1493.8 1416 1510C1408.3 1526.2 1402 1541 1396 1556C1390 1571 1386 1584 1380 1600C1374 1616 1366.2 1633.7 1360 1652C1353.8 1670.3 1350 1687 1343 1710C1336 1733 1322.2 1776.7 1318 1790" fill="none" stroke="#4a5878" stroke-width="2" opacity=".7"/>
<g clip-path="url(#cpBlue)"><rect x="450" y="430" width="1200" height="760" fill="url(#gBlueLt)"/></g>
<path d="M681 599C679 598.7 672.8 597.1 669 597C665.2 596.9 661 597.7 658 598.5C655 599.3 654 599.2 651 602C648 604.8 642.8 610.2 640 615C637.2 619.8 636 624 634 631C632 638 630.3 647 628 657C625.7 667 622.8 679.5 620 691C617.2 702.5 614 714.5 611 726C608 737.5 604.9 748.2 602 760C599.1 771.8 596.2 784.5 593.5 797C590.8 809.5 588.2 822.5 586 835C583.8 847.5 581.8 859.5 580 872C578.2 884.5 576.4 897.5 575 910C573.6 922.5 572.6 935.3 571.6 947C570.6 958.7 569.3 966.2 569 980C568.7 993.8 568.8 1013.3 569.8 1030C570.8 1046.7 572.5 1063.3 574.8 1080C577.1 1096.7 580 1113.5 583.5 1130C587 1146.5 592.8 1167.7 596 1179C599.2 1190.3 599.7 1191.7 603 1198C606.3 1204.3 610.4 1207.5 616 1217C621.6 1226.5 629.2 1242.5 636.5 1255C643.8 1267.5 651.9 1280.6 659.5 1292C667.1 1303.4 675.2 1314.1 682 1323.5C688.8 1332.9 695.8 1342.2 700 1348.5C704.2 1354.8 706.2 1358.9 707.5 1361L1350 1389.6C1351.7 1389.7 1356.7 1390.3 1360 1390C1363.3 1389.7 1365.5 1390.2 1370 1388C1374.5 1385.8 1381.7 1382 1387 1377C1392.3 1372 1396.8 1365.2 1402 1358C1407.2 1350.8 1412.8 1342.8 1418.5 1333.5C1424.2 1324.2 1429.9 1313.4 1436 1302C1442.1 1290.6 1449.2 1277.5 1455 1265C1460.8 1252.5 1466.5 1239.5 1471 1227C1475.5 1214.5 1478.5 1202.8 1482 1190C1485.5 1177.2 1489 1164.2 1492 1150C1495 1135.8 1497.7 1120.8 1500 1105C1502.3 1089.2 1504.3 1072.5 1506 1055C1507.7 1037.5 1509.5 1017.8 1510 1000C1510.5 982.2 1510.2 967.2 1509 948C1507.8 928.8 1504.8 899.7 1503 885C1501.2 870.3 1500.7 872.5 1498.5 860C1496.3 847.5 1493.3 826.7 1490 810C1486.7 793.3 1482.8 776.7 1478.6 760C1474.4 743.3 1469.8 726.7 1465 710C1460.2 693.3 1454 674 1450 660C1446 646 1443.8 636.5 1441 626C1438.2 615.5 1435.7 606.5 1433 597C1430.3 587.5 1427.8 578.5 1425 569C1422.2 559.5 1419 549.7 1416 540C1413 530.3 1410 518.7 1407 511C1404 503.3 1400.5 497.8 1398 494C1395.5 490.2 1394.7 489.4 1392 488C1389.3 486.6 1386 485.9 1382 485.7C1378 485.5 1372.2 485.6 1368 487C1363.8 488.4 1358.8 492.8 1357 494L1370 560L690 640Z" fill="#ab6068"/>
<path d="M667.4 624C666.7 625.3 664.6 629.3 663 632C661.4 634.7 660.3 633.9 658 640C655.7 646.1 652 658.1 649 668.6C646 679.1 643 690.6 640 703C637 715.4 633.5 733.5 631 743C628.5 752.5 627.2 751 624.7 760C622.2 769 618.7 784.5 616 797C613.3 809.5 610.7 822.5 608.5 835C606.3 847.5 604.6 859.5 603 872C601.4 884.5 600.1 897.5 599 910C597.9 922.5 597.2 935.3 596.6 947C596 958.7 595.5 966.2 595.4 980C595.3 993.8 595.1 1013.3 596 1030C596.9 1046.7 598.7 1063.3 601 1080C603.3 1096.7 606.4 1113.4 609.7 1130C613 1146.6 618.1 1167.9 621 1179.6C623.9 1191.3 624.7 1193.7 627 1200C629.3 1206.3 631.2 1208.2 635 1217.4C638.8 1226.6 644.7 1243.6 650 1255C655.3 1266.4 661.8 1278.5 667 1286C672.2 1293.5 678.7 1297.7 681 1300L1366 1360C1367 1358.7 1370 1354.8 1372 1352C1374 1349.2 1375 1348.2 1378 1343C1381 1337.8 1385.5 1328.8 1390 1321C1394.5 1313.2 1399.7 1305.3 1405 1296C1410.3 1286.7 1416 1276.5 1422 1265C1428 1253.5 1435.8 1239.5 1441 1227C1446.2 1214.5 1449.5 1202.8 1453.5 1190C1457.5 1177.2 1461.4 1165 1465 1150C1468.6 1135 1472.3 1116.7 1475 1100C1477.7 1083.3 1479.3 1066.7 1481 1050C1482.7 1033.3 1484.2 1018.3 1485 1000C1485.8 981.7 1486.2 960 1486 940C1485.8 920 1484.6 893.3 1483.6 880C1482.6 866.7 1482.1 871.7 1480 860C1477.9 848.3 1474.3 826.7 1471 810C1467.7 793.3 1464.3 776.7 1460 760C1455.7 743.3 1450.4 726.7 1445 710C1439.6 693.3 1432.2 674.2 1427.4 660C1422.6 645.8 1420.2 637.5 1416 625C1411.8 612.5 1406.2 597.5 1402 585C1397.8 572.5 1394 560 1391 550C1388 540 1385.7 531.7 1384 525C1382.3 518.3 1381.5 512.5 1381 510L1372 560L684 690Z" fill="url(#gMar)"/>
<path d="M681 599C679 598.7 672.8 597.1 669 597C665.2 596.9 661 597.7 658 598.5C655 599.3 654 599.2 651 602C648 604.8 642.8 610.2 640 615C637.2 619.8 636 624 634 631C632 638 630.3 647 628 657C625.7 667 622.8 679.5 620 691C617.2 702.5 614 714.5 611 726C608 737.5 604.9 748.2 602 760C599.1 771.8 596.2 784.5 593.5 797C590.8 809.5 588.2 822.5 586 835C583.8 847.5 581.8 859.5 580 872C578.2 884.5 576.4 897.5 575 910C573.6 922.5 572.6 935.3 571.6 947C570.6 958.7 569.3 966.2 569 980C568.7 993.8 568.8 1013.3 569.8 1030C570.8 1046.7 572.5 1063.3 574.8 1080C577.1 1096.7 580 1113.5 583.5 1130C587 1146.5 592.8 1167.7 596 1179C599.2 1190.3 599.7 1191.7 603 1198C606.3 1204.3 610.4 1207.5 616 1217C621.6 1226.5 629.2 1242.5 636.5 1255C643.8 1267.5 651.9 1280.6 659.5 1292C667.1 1303.4 675.2 1314.1 682 1323.5C688.8 1332.9 695.8 1342.2 700 1348.5C704.2 1354.8 706.2 1358.9 707.5 1361" fill="none" stroke="#2a0f18" stroke-width="3.5" stroke-linecap="round"/>
<path d="M1350 1389.6C1351.7 1389.7 1356.7 1390.3 1360 1390C1363.3 1389.7 1365.5 1390.2 1370 1388C1374.5 1385.8 1381.7 1382 1387 1377C1392.3 1372 1396.8 1365.2 1402 1358C1407.2 1350.8 1412.8 1342.8 1418.5 1333.5C1424.2 1324.2 1429.9 1313.4 1436 1302C1442.1 1290.6 1449.2 1277.5 1455 1265C1460.8 1252.5 1466.5 1239.5 1471 1227C1475.5 1214.5 1478.5 1202.8 1482 1190C1485.5 1177.2 1489 1164.2 1492 1150C1495 1135.8 1497.7 1120.8 1500 1105C1502.3 1089.2 1504.3 1072.5 1506 1055C1507.7 1037.5 1509.5 1017.8 1510 1000C1510.5 982.2 1510.2 967.2 1509 948C1507.8 928.8 1504.8 899.7 1503 885C1501.2 870.3 1500.7 872.5 1498.5 860C1496.3 847.5 1493.3 826.7 1490 810C1486.7 793.3 1482.8 776.7 1478.6 760C1474.4 743.3 1469.8 726.7 1465 710C1460.2 693.3 1454 674 1450 660C1446 646 1443.8 636.5 1441 626C1438.2 615.5 1435.7 606.5 1433 597C1430.3 587.5 1427.8 578.5 1425 569C1422.2 559.5 1419 549.7 1416 540C1413 530.3 1410 518.7 1407 511C1404 503.3 1400.5 497.8 1398 494C1395.5 490.2 1394.7 489.4 1392 488C1389.3 486.6 1386 485.9 1382 485.7C1378 485.5 1372.2 485.6 1368 487C1363.8 488.4 1358.8 492.8 1357 494" fill="none" stroke="#2a0f18" stroke-width="3.5" stroke-linecap="round"/>
<path d="M681 599C680.6 605.8 679 626.5 678.5 640C678 653.5 677.8 666.7 678 680C678.2 693.3 679.7 713.3 680 720" fill="none" stroke="#b97882" stroke-width="17" stroke-linecap="round"/>
<path d="M1387 800C1388.5 793.3 1394.2 775 1396 760C1397.8 745 1398.2 726.7 1398 710C1397.8 693.3 1397 674.2 1395 660C1393 645.8 1389.3 638.3 1386 625C1382.7 611.7 1376.8 587.5 1375 580" fill="none" stroke="#b97882" stroke-width="17" stroke-linecap="round"/>
<path d="M675 640C674.2 650 673.8 680 674 700C674.2 720 674.3 744.7 676 760C677.7 775.3 681.2 785.2 684 792C686.8 798.8 692 802.2 693 801C694 799.8 691.3 791.8 690 785C688.7 778.2 686.7 770.8 685 760C683.3 749.2 681.1 733.3 680 720C678.9 706.7 678.8 693.3 678.5 680C678.2 666.7 679.1 646.7 678.5 640C677.9 633.3 675.8 630 675 640Z" fill="#c98d96"/>
<path d="M1399 660C1400.7 661.7 1403.7 678.3 1406 690C1408.3 701.7 1412 719.7 1413 730C1414 740.3 1413.5 747.3 1412 752C1410.5 756.7 1406.3 759.2 1404 758C1401.7 756.8 1399 753 1398 745C1397 737 1398.3 720.8 1398 710C1397.7 699.2 1395.8 688.3 1396 680C1396.2 671.7 1397.3 658.3 1399 660Z" fill="#c98d96"/>
<path d="M677 1160C675.7 1158.3 669.8 1163.3 668 1170C666.2 1176.7 665.7 1188.3 666 1200C666.3 1211.7 668 1227.5 670 1240C672 1252.5 675.7 1267.5 678 1275C680.3 1282.5 683.2 1288.3 684 1285C684.8 1281.7 683.9 1266.3 683 1255C682.1 1243.7 679.7 1229.5 678.5 1217C677.3 1204.5 676.2 1189.5 676 1180C675.8 1170.5 678.3 1161.7 677 1160Z" fill="#c98d96"/>
<path d="M1422 1200C1423.6 1194.8 1427.5 1206.7 1428 1215C1428.5 1223.3 1427.5 1238.3 1425 1250C1422.5 1261.7 1417.5 1274.7 1413 1285C1408.5 1295.3 1402.8 1304.5 1398 1312C1393.2 1319.5 1386.2 1328.5 1384 1330C1381.8 1331.5 1382.8 1325.7 1385 1321C1387.2 1316.3 1392.8 1309.3 1397 1302C1401.2 1294.7 1406.4 1286.3 1410 1277C1413.6 1267.7 1416.5 1258.8 1418.5 1246C1420.5 1233.2 1420.4 1205.2 1422 1200Z" fill="#c98d96"/>
<path d="M797 -20C797.2 -16.7 797 -14.7 798 0C799 14.7 801.7 44.7 803 68C804.3 91.3 805.7 117.3 806 140C806.3 162.7 806.3 184.8 805 204C803.7 223.2 800.8 238 798 255C795.2 272 792 289 788 306C784 323 779.2 340 774 357C768.8 374 762.7 391 757 408C751.3 425 746.2 442 740 459C733.8 476 725.7 493.2 720 510C714.3 526.8 709.8 546 706 560C702.2 574 699 582.5 697 594C695 605.5 694.5 617.5 694 629C693.5 640.5 693.5 651.7 694 663C694.5 674.3 695.3 685.7 697 697C698.7 708.3 701.3 720.5 704 731C706.7 741.5 709.3 751.3 713 760C716.7 768.7 721 775 726 783C731 791 736.3 799.5 743 808C749.7 816.5 757.5 825.2 766 834C774.5 842.8 783.5 852.3 794 861C804.5 869.7 817.5 878.7 829 886C840.5 893.3 851.7 899.3 863 905C874.3 910.7 884.2 915.2 897 920C909.8 924.8 925.3 930.3 940 934C954.7 937.7 969.8 940.3 985 942C1000.2 943.7 1014 944.7 1031 944C1048 943.3 1071.3 940.2 1087 938C1102.7 935.8 1112.8 933.7 1125 931C1137.2 928.3 1146.5 926.3 1160 922C1173.5 917.7 1191.7 911.5 1206 905C1220.3 898.5 1233.7 891 1246 883C1258.3 875 1269.5 866 1280 857C1290.5 848 1300.5 839.5 1309 829C1317.5 818.5 1324.7 805.5 1331 794C1337.3 782.5 1341.8 773.2 1347 760C1352.2 746.8 1358.5 731.3 1362 715C1365.5 698.7 1367.3 676.2 1368 662C1368.7 647.8 1367.2 640.8 1366 630C1364.8 619.2 1363.3 610.2 1361 597C1358.7 583.8 1355.3 566.2 1352 551C1348.7 535.8 1345.2 521.2 1341 506C1336.8 490.8 1331.7 473.5 1327 460C1322.3 446.5 1317.7 436.5 1313 425C1308.3 413.5 1304 405.2 1299 391C1294 376.8 1288.2 359.8 1283 340C1277.8 320.2 1271.8 294.7 1268 272C1264.2 249.3 1261.8 226.7 1260 204C1258.2 181.3 1257.2 158.7 1257 136C1256.8 113.3 1258 90.7 1259 68C1260 45.3 1262.2 14.7 1263 0C1263.8 -14.7 1263.8 -16.7 1264 -20Z" fill="#f7f8fd" stroke="#f7f8fd" stroke-width="38" stroke-linejoin="round"/>
<path d="M819 1790C818.4 1786 817.1 1779.2 815.4 1766C813.7 1752.8 812.1 1730.5 809 1711C805.9 1691.5 801.8 1669.7 797 1649C792.2 1628.3 785.6 1607.7 780 1587C774.4 1566.3 769 1545.8 763.5 1525C758 1504.2 752.2 1482.8 747 1462C741.8 1441.2 736.3 1415.8 732.4 1400C728.5 1384.2 726.5 1378.7 723.5 1367C720.5 1355.3 717.6 1342.5 714.7 1330C711.8 1317.5 708.5 1304.5 706 1292C703.5 1279.5 701.8 1267.5 700 1255C698.2 1242.5 695.8 1228.7 695 1217C694.2 1205.3 693.8 1194.5 695 1185C696.2 1175.5 699.5 1168 702 1160C704.5 1152 705.5 1143.7 710 1137C714.5 1130.3 722.2 1124.3 729 1120C735.8 1115.7 742.5 1113.2 751 1111C759.5 1108.8 770.3 1107.7 780 1107C789.7 1106.3 798.5 1105.7 809 1107C819.5 1108.3 831.7 1111.7 843 1115C854.3 1118.3 865.8 1123 877 1127C888.2 1131 896.2 1134.7 910 1139C923.8 1143.3 943 1149 960 1153C977 1157 997 1160.8 1012 1163C1027 1165.2 1037 1166.3 1050 1166C1063 1165.7 1074.2 1165 1090 1161C1105.8 1157 1126.7 1148.8 1145 1142C1163.3 1135.2 1185.2 1125.3 1200 1120C1214.8 1114.7 1222.5 1112.2 1234 1110C1245.5 1107.8 1257.5 1106.8 1269 1107C1280.5 1107.2 1293.5 1108.8 1303 1111C1312.5 1113.2 1319.3 1116.2 1326 1120C1332.7 1123.8 1338.5 1129.2 1343 1134C1347.5 1138.8 1349.8 1143 1353 1149C1356.2 1155 1359.7 1163.2 1362 1170C1364.3 1176.8 1366.3 1180.5 1367 1190C1367.7 1199.5 1366.8 1214.5 1366 1227C1365.2 1239.5 1363.7 1252.5 1362 1265C1360.3 1277.5 1358.5 1289.5 1356 1302C1353.5 1314.5 1350.2 1327.5 1347 1340C1343.8 1352.5 1340 1365.3 1337 1377C1334 1388.7 1332.5 1396.2 1329 1410C1325.5 1423.8 1320.7 1443.3 1316 1460C1311.3 1476.7 1305.8 1493.3 1301 1510C1296.2 1526.7 1291.2 1543.3 1287 1560C1282.8 1576.7 1279.5 1594.7 1276 1610C1272.5 1625.3 1270.5 1626 1266 1652C1261.5 1678 1252.3 1743 1249 1766C1245.7 1789 1246.5 1786 1246 1790Z" fill="#f7f8fd" stroke="#f7f8fd" stroke-width="33" stroke-linejoin="round"/>
<path d="M712 1380C710 1373.3 703.8 1352.3 700 1340C696.2 1327.7 692.2 1321 689 1306C685.8 1291 682.8 1267.7 681 1250C679.2 1232.3 678.3 1215 678 1200C677.7 1185 678.2 1171.5 679 1160C679.8 1148.5 680.5 1141.5 683 1131C685.5 1120.5 689.8 1107.3 694 1097C698.2 1086.7 703 1077.5 708 1069C713 1060.5 717.7 1053.5 724 1046C730.3 1038.5 738.5 1030.3 746 1024C753.5 1017.7 760.5 1012.5 769 1008C777.5 1003.5 786.7 999.7 797 997C807.3 994.3 819.5 992.7 831 992C842.5 991.3 854.5 992.5 866 993C877.5 993.5 884.3 996.3 900 995C915.7 993.7 936.7 988.3 960 985C983.3 981.7 1011.7 975.3 1040 975C1068.3 974.7 1107.8 980.5 1130 983C1152.2 985.5 1161.3 988.8 1173 990C1184.7 991.2 1187.8 990.3 1200 990C1212.2 989.7 1230.8 987.8 1246 988C1261.2 988.2 1277.7 989 1291 991C1304.3 993 1314.5 995.7 1326 1000C1337.5 1004.3 1350.5 1010.7 1360 1017C1369.5 1023.3 1376.3 1030.7 1383 1038C1389.7 1045.3 1395.3 1053 1400 1061C1404.7 1069 1408.2 1078 1411 1086C1413.8 1094 1415.3 1101.5 1417 1109C1418.7 1116.5 1420.2 1122.5 1421 1131C1421.8 1139.5 1422 1149 1422 1160C1422 1171 1422.7 1182 1421 1197C1419.3 1212 1416.5 1232.8 1412 1250C1407.5 1267.2 1400.3 1285 1394 1300C1387.7 1315 1381 1325.8 1374 1340C1367 1354.2 1355.7 1377.5 1352 1385Z" fill="#fbfcff"/>
<g clip-path="url(#cpCartL)"><ellipse cx="1160" cy="1022" rx="300" ry="46" fill="#a3adc8" opacity=".9" filter="url(#blur12)"/><ellipse cx="1000" cy="1045" rx="160" ry="40" fill="#a3adc8" opacity=".55" filter="url(#blur12)"/><ellipse cx="760" cy="1075" rx="85" ry="85" fill="#cfd4e6" opacity=".95" filter="url(#blur12)"/><ellipse cx="830" cy="1010" rx="60" ry="16" fill="#ffffff" opacity=".9" filter="url(#blur6)"/><ellipse cx="1405" cy="1150" rx="22" ry="70" fill="#d5d9ea" opacity=".7" filter="url(#blur12)"/><path d="M700 515C699 518.3 696 527.5 694 535C692 542.5 689.8 551.7 688 560C686.2 568.3 684.2 578.5 683 585C681.8 591.5 681.8 589.8 681 599C680.2 608.2 679 626.5 678.5 640C678 653.5 677.8 666.7 678 680C678.2 693.3 678.8 706.7 680 720C681.2 733.3 682.7 747 685 760C687.3 773 690 787.2 694 798C698 808.8 703.3 816.3 709 825C714.7 833.7 720.5 841.3 728 850C735.5 858.7 743.8 868 754 877C764.2 886 777.5 895.8 789 904C800.5 912.2 811.7 919.2 823 926C834.3 932.8 845.8 938.7 857 945C868.2 951.3 877.8 957.7 890 964C902.2 970.3 915.8 977.3 930 983C944.2 988.7 960.5 994.2 975 998C989.5 1001.8 1002.8 1004.8 1017 1006C1031.2 1007.2 1046.2 1006.3 1060 1005.5C1073.8 1004.7 1086.7 1002.9 1100 1001C1113.3 999.1 1127.8 996.5 1140 994C1152.2 991.5 1162.5 989 1173 986C1183.5 983 1193.5 979.3 1203 976C1212.5 972.7 1218 972.3 1230 966C1242 959.7 1261.2 948.3 1275 938C1288.8 927.7 1301.3 915 1313 904C1324.7 893 1335.5 883 1345 872C1354.5 861 1363 850 1370 838C1377 826 1382.7 813 1387 800C1391.3 787 1394.2 775 1396 760C1397.8 745 1398.2 726.7 1398 710C1397.8 693.3 1397 674.2 1395 660C1393 645.8 1389.3 638.3 1386 625C1382.7 611.7 1378.7 595 1375 580C1371.3 565 1367.2 549.3 1364 535C1360.8 520.7 1359.2 506.2 1356 494C1352.8 481.8 1348.3 471.7 1345 462C1341.7 452.3 1337.5 440.3 1336 436Z" fill="#6f7896" opacity=".45" transform="translate(0,16)" filter="url(#blur6)"/><path d="M700 515C699 518.3 696 527.5 694 535C692 542.5 689.8 551.7 688 560C686.2 568.3 684.2 578.5 683 585C681.8 591.5 681.8 589.8 681 599C680.2 608.2 679 626.5 678.5 640C678 653.5 677.8 666.7 678 680C678.2 693.3 678.8 706.7 680 720C681.2 733.3 682.7 747 685 760C687.3 773 690 787.2 694 798C698 808.8 703.3 816.3 709 825C714.7 833.7 720.5 841.3 728 850C735.5 858.7 743.8 868 754 877C764.2 886 777.5 895.8 789 904C800.5 912.2 811.7 919.2 823 926C834.3 932.8 845.8 938.7 857 945C868.2 951.3 877.8 957.7 890 964C902.2 970.3 915.8 977.3 930 983C944.2 988.7 960.5 994.2 975 998C989.5 1001.8 1002.8 1004.8 1017 1006C1031.2 1007.2 1046.2 1006.3 1060 1005.5C1073.8 1004.7 1086.7 1002.9 1100 1001C1113.3 999.1 1127.8 996.5 1140 994C1152.2 991.5 1162.5 989 1173 986C1183.5 983 1193.5 979.3 1203 976C1212.5 972.7 1218 972.3 1230 966C1242 959.7 1261.2 948.3 1275 938C1288.8 927.7 1301.3 915 1313 904C1324.7 893 1335.5 883 1345 872C1354.5 861 1363 850 1370 838C1377 826 1382.7 813 1387 800C1391.3 787 1394.2 775 1396 760C1397.8 745 1398.2 726.7 1398 710C1397.8 693.3 1397 674.2 1395 660C1393 645.8 1389.3 638.3 1386 625C1382.7 611.7 1378.7 595 1375 580C1371.3 565 1367.2 549.3 1364 535C1360.8 520.7 1359.2 506.2 1356 494C1352.8 481.8 1348.3 471.7 1345 462C1341.7 452.3 1337.5 440.3 1336 436Z" fill="#0d0609" transform="translate(0,6.5)"/></g>
<g clip-path="url(#cpCartL)"><path d="M819 1790C818.4 1786 817.1 1779.2 815.4 1766C813.7 1752.8 812.1 1730.5 809 1711C805.9 1691.5 801.8 1669.7 797 1649C792.2 1628.3 785.6 1607.7 780 1587C774.4 1566.3 769 1545.8 763.5 1525C758 1504.2 752.2 1482.8 747 1462C741.8 1441.2 736.3 1415.8 732.4 1400C728.5 1384.2 726.5 1378.7 723.5 1367C720.5 1355.3 717.6 1342.5 714.7 1330C711.8 1317.5 708.5 1304.5 706 1292C703.5 1279.5 701.8 1267.5 700 1255C698.2 1242.5 695.8 1228.7 695 1217C694.2 1205.3 693.8 1194.5 695 1185C696.2 1175.5 699.5 1168 702 1160C704.5 1152 705.5 1143.7 710 1137C714.5 1130.3 722.2 1124.3 729 1120C735.8 1115.7 742.5 1113.2 751 1111C759.5 1108.8 770.3 1107.7 780 1107C789.7 1106.3 798.5 1105.7 809 1107C819.5 1108.3 831.7 1111.7 843 1115C854.3 1118.3 865.8 1123 877 1127C888.2 1131 896.2 1134.7 910 1139C923.8 1143.3 943 1149 960 1153C977 1157 997 1160.8 1012 1163C1027 1165.2 1037 1166.3 1050 1166C1063 1165.7 1074.2 1165 1090 1161C1105.8 1157 1126.7 1148.8 1145 1142C1163.3 1135.2 1185.2 1125.3 1200 1120C1214.8 1114.7 1222.5 1112.2 1234 1110C1245.5 1107.8 1257.5 1106.8 1269 1107C1280.5 1107.2 1293.5 1108.8 1303 1111C1312.5 1113.2 1319.3 1116.2 1326 1120C1332.7 1123.8 1338.5 1129.2 1343 1134C1347.5 1138.8 1349.8 1143 1353 1149C1356.2 1155 1359.7 1163.2 1362 1170C1364.3 1176.8 1366.3 1180.5 1367 1190C1367.7 1199.5 1366.8 1214.5 1366 1227C1365.2 1239.5 1363.7 1252.5 1362 1265C1360.3 1277.5 1358.5 1289.5 1356 1302C1353.5 1314.5 1350.2 1327.5 1347 1340C1343.8 1352.5 1340 1365.3 1337 1377C1334 1388.7 1332.5 1396.2 1329 1410C1325.5 1423.8 1320.7 1443.3 1316 1460C1311.3 1476.7 1305.8 1493.3 1301 1510C1296.2 1526.7 1291.2 1543.3 1287 1560C1282.8 1576.7 1279.5 1594.7 1276 1610C1272.5 1625.3 1270.5 1626 1266 1652C1261.5 1678 1252.3 1743 1249 1766C1245.7 1789 1246.5 1786 1246 1790Z" fill="none" stroke="#ffffff" stroke-width="34" opacity=".9" filter="url(#blur3)"/></g>
<path d="M700 515C699 518.3 696 527.5 694 535C692 542.5 689.8 551.7 688 560C686.2 568.3 684.2 578.5 683 585C681.8 591.5 681.8 589.8 681 599C680.2 608.2 679 626.5 678.5 640C678 653.5 677.8 666.7 678 680C678.2 693.3 678.8 706.7 680 720C681.2 733.3 682.7 747 685 760C687.3 773 690 787.2 694 798C698 808.8 703.3 816.3 709 825C714.7 833.7 720.5 841.3 728 850C735.5 858.7 743.8 868 754 877C764.2 886 777.5 895.8 789 904C800.5 912.2 811.7 919.2 823 926C834.3 932.8 845.8 938.7 857 945C868.2 951.3 877.8 957.7 890 964C902.2 970.3 915.8 977.3 930 983C944.2 988.7 960.5 994.2 975 998C989.5 1001.8 1002.8 1004.8 1017 1006C1031.2 1007.2 1046.2 1006.3 1060 1005.5C1073.8 1004.7 1086.7 1002.9 1100 1001C1113.3 999.1 1127.8 996.5 1140 994C1152.2 991.5 1162.5 989 1173 986C1183.5 983 1193.5 979.3 1203 976C1212.5 972.7 1218 972.3 1230 966C1242 959.7 1261.2 948.3 1275 938C1288.8 927.7 1301.3 915 1313 904C1324.7 893 1335.5 883 1345 872C1354.5 861 1363 850 1370 838C1377 826 1382.7 813 1387 800C1391.3 787 1394.2 775 1396 760C1397.8 745 1398.2 726.7 1398 710C1397.8 693.3 1397 674.2 1395 660C1393 645.8 1389.3 638.3 1386 625C1382.7 611.7 1378.7 595 1375 580C1371.3 565 1367.2 549.3 1364 535C1360.8 520.7 1359.2 506.2 1356 494C1352.8 481.8 1348.3 471.7 1345 462C1341.7 452.3 1337.5 440.3 1336 436Z" fill="#ffffff"/>
<g clip-path="url(#cpCartU)"><path d="M680 720C680.8 726.7 682.7 747 685 760C687.3 773 690 787.2 694 798C698 808.8 703.3 816.3 709 825C714.7 833.7 720.5 841.3 728 850C735.5 858.7 743.8 868 754 877C764.2 886 777.5 895.8 789 904C800.5 912.2 811.7 919.2 823 926C834.3 932.8 845.8 938.7 857 945C868.2 951.3 877.8 957.7 890 964C902.2 970.3 915.8 977.3 930 983C944.2 988.7 960.5 994.2 975 998C989.5 1001.8 1002.8 1004.8 1017 1006C1031.2 1007.2 1046.2 1006.3 1060 1005.5C1073.8 1004.7 1086.7 1002.9 1100 1001C1113.3 999.1 1127.8 996.5 1140 994C1152.2 991.5 1162.5 989 1173 986C1183.5 983 1193.5 979.3 1203 976C1212.5 972.7 1218 972.3 1230 966C1242 959.7 1261.2 948.3 1275 938C1288.8 927.7 1301.3 915 1313 904C1324.7 893 1335.5 883 1345 872C1354.5 861 1363 850 1370 838C1377 826 1382.7 813 1387 800C1391.3 787 1394.2 775 1396 760C1397.8 745 1398.2 726.7 1398 710C1397.8 693.3 1397 674.2 1395 660C1393 645.8 1387.5 630.8 1386 625" fill="none" stroke="#c3c8dc" stroke-width="22" opacity=".7" filter="url(#blur6)"/></g>
<path d="M797 -20C797.2 -16.7 797 -14.7 798 0C799 14.7 801.7 44.7 803 68C804.3 91.3 805.7 117.3 806 140C806.3 162.7 806.3 184.8 805 204C803.7 223.2 800.8 238 798 255C795.2 272 792 289 788 306C784 323 779.2 340 774 357C768.8 374 762.7 391 757 408C751.3 425 746.2 442 740 459C733.8 476 725.7 493.2 720 510C714.3 526.8 709.8 546 706 560C702.2 574 699 582.5 697 594C695 605.5 694.5 617.5 694 629C693.5 640.5 693.5 651.7 694 663C694.5 674.3 695.3 685.7 697 697C698.7 708.3 701.3 720.5 704 731C706.7 741.5 709.3 751.3 713 760C716.7 768.7 721 775 726 783C731 791 736.3 799.5 743 808C749.7 816.5 757.5 825.2 766 834C774.5 842.8 783.5 852.3 794 861C804.5 869.7 817.5 878.7 829 886C840.5 893.3 851.7 899.3 863 905C874.3 910.7 884.2 915.2 897 920C909.8 924.8 925.3 930.3 940 934C954.7 937.7 969.8 940.3 985 942C1000.2 943.7 1014 944.7 1031 944C1048 943.3 1071.3 940.2 1087 938C1102.7 935.8 1112.8 933.7 1125 931C1137.2 928.3 1146.5 926.3 1160 922C1173.5 917.7 1191.7 911.5 1206 905C1220.3 898.5 1233.7 891 1246 883C1258.3 875 1269.5 866 1280 857C1290.5 848 1300.5 839.5 1309 829C1317.5 818.5 1324.7 805.5 1331 794C1337.3 782.5 1341.8 773.2 1347 760C1352.2 746.8 1358.5 731.3 1362 715C1365.5 698.7 1367.3 676.2 1368 662C1368.7 647.8 1367.2 640.8 1366 630C1364.8 619.2 1363.3 610.2 1361 597C1358.7 583.8 1355.3 566.2 1352 551C1348.7 535.8 1345.2 521.2 1341 506C1336.8 490.8 1331.7 473.5 1327 460C1322.3 446.5 1317.7 436.5 1313 425C1308.3 413.5 1304 405.2 1299 391C1294 376.8 1288.2 359.8 1283 340C1277.8 320.2 1271.8 294.7 1268 272C1264.2 249.3 1261.8 226.7 1260 204C1258.2 181.3 1257.2 158.7 1257 136C1256.8 113.3 1258 90.7 1259 68C1260 45.3 1262.2 14.7 1263 0C1263.8 -14.7 1263.8 -16.7 1264 -20Z" fill="url(#gCortex)" stroke="url(#gBoneLine)" stroke-width="4.6"/>
<path d="M819 1790C818.4 1786 817.1 1779.2 815.4 1766C813.7 1752.8 812.1 1730.5 809 1711C805.9 1691.5 801.8 1669.7 797 1649C792.2 1628.3 785.6 1607.7 780 1587C774.4 1566.3 769 1545.8 763.5 1525C758 1504.2 752.2 1482.8 747 1462C741.8 1441.2 736.3 1415.8 732.4 1400C728.5 1384.2 726.5 1378.7 723.5 1367C720.5 1355.3 717.6 1342.5 714.7 1330C711.8 1317.5 708.5 1304.5 706 1292C703.5 1279.5 701.8 1267.5 700 1255C698.2 1242.5 695.8 1228.7 695 1217C694.2 1205.3 693.8 1194.5 695 1185C696.2 1175.5 699.5 1168 702 1160C704.5 1152 705.5 1143.7 710 1137C714.5 1130.3 722.2 1124.3 729 1120C735.8 1115.7 742.5 1113.2 751 1111C759.5 1108.8 770.3 1107.7 780 1107C789.7 1106.3 798.5 1105.7 809 1107C819.5 1108.3 831.7 1111.7 843 1115C854.3 1118.3 865.8 1123 877 1127C888.2 1131 896.2 1134.7 910 1139C923.8 1143.3 943 1149 960 1153C977 1157 997 1160.8 1012 1163C1027 1165.2 1037 1166.3 1050 1166C1063 1165.7 1074.2 1165 1090 1161C1105.8 1157 1126.7 1148.8 1145 1142C1163.3 1135.2 1185.2 1125.3 1200 1120C1214.8 1114.7 1222.5 1112.2 1234 1110C1245.5 1107.8 1257.5 1106.8 1269 1107C1280.5 1107.2 1293.5 1108.8 1303 1111C1312.5 1113.2 1319.3 1116.2 1326 1120C1332.7 1123.8 1338.5 1129.2 1343 1134C1347.5 1138.8 1349.8 1143 1353 1149C1356.2 1155 1359.7 1163.2 1362 1170C1364.3 1176.8 1366.3 1180.5 1367 1190C1367.7 1199.5 1366.8 1214.5 1366 1227C1365.2 1239.5 1363.7 1252.5 1362 1265C1360.3 1277.5 1358.5 1289.5 1356 1302C1353.5 1314.5 1350.2 1327.5 1347 1340C1343.8 1352.5 1340 1365.3 1337 1377C1334 1388.7 1332.5 1396.2 1329 1410C1325.5 1423.8 1320.7 1443.3 1316 1460C1311.3 1476.7 1305.8 1493.3 1301 1510C1296.2 1526.7 1291.2 1543.3 1287 1560C1282.8 1576.7 1279.5 1594.7 1276 1610C1272.5 1625.3 1270.5 1626 1266 1652C1261.5 1678 1252.3 1743 1249 1766C1245.7 1789 1246.5 1786 1246 1790Z" fill="url(#gCortex)" stroke="url(#gBoneLine)" stroke-width="4.6"/>
<path d="M856 -20C856.2 0 857 68.3 857 100C857 131.7 856.7 150.8 856 170C855.3 189.2 854.1 201.7 853 215C851.9 228.3 851.5 235.8 849.5 250C847.5 264.2 844.6 283.3 841 300C837.4 316.7 832.8 333.3 828 350C823.2 366.7 815.9 388.3 812 400C808.1 411.7 808.4 410 804.6 420C800.8 430 794.4 446.7 789 460C783.6 473.3 776.7 483.3 772 500C767.3 516.7 764.2 544.3 761 560C757.8 575.7 755.1 582.5 753 594C750.9 605.5 749.5 617.5 748.6 629C747.7 640.5 747 651.7 747.4 663C747.8 674.3 749.1 685.7 751 697C752.9 708.3 755.7 720.5 759 731C762.3 741.5 766 751.3 771 760C776 768.7 782.3 775.3 789 783C795.7 790.7 802.5 798.3 811 806C819.5 813.7 829.5 821.5 840 829C850.5 836.5 860.7 843.8 874 851C887.3 858.2 904.8 866.8 920 872C935.2 877.2 950 879.5 965 882C980 884.5 994.2 886.3 1010 887C1025.8 887.7 1043.3 887.3 1060 886C1076.7 884.7 1093.3 881.8 1110 879C1126.7 876.2 1146 873.2 1160 869C1174 864.8 1183.5 859.8 1194 854C1204.5 848.2 1213.5 841.5 1223 834C1232.5 826.5 1242.5 817.5 1251 809C1259.5 800.5 1267.8 791.2 1274 783C1280.2 774.8 1282.8 771.3 1288 760C1293.2 748.7 1301 730.8 1305 715C1309 699.2 1311.5 682.5 1312 665C1312.5 647.5 1310.2 626.7 1308 610C1305.8 593.3 1302 577.5 1299 565C1296 552.5 1293.2 545 1290 535C1286.8 525 1283.3 515.8 1280 505C1276.7 494.2 1273.8 484.2 1270 470C1266.2 455.8 1261.2 435.8 1257 420C1252.8 404.2 1248.5 388.3 1245 375C1241.5 361.7 1239.2 352.5 1236 340C1232.8 327.5 1229.2 314.2 1226 300C1222.8 285.8 1220 276.7 1217 255C1214 233.3 1210.2 195.8 1208 170C1205.8 144.2 1205 131.7 1204 100C1203 68.3 1202.3 0 1202 -20Z" fill="url(#gSpU)" filter="url(#blur3)"/>
<path d="M856 -20C856.2 0 857 68.3 857 100C857 131.7 856.7 150.8 856 170C855.3 189.2 854.1 201.7 853 215C851.9 228.3 851.5 235.8 849.5 250C847.5 264.2 844.6 283.3 841 300C837.4 316.7 832.8 333.3 828 350C823.2 366.7 815.9 388.3 812 400C808.1 411.7 808.4 410 804.6 420C800.8 430 794.4 446.7 789 460C783.6 473.3 776.7 483.3 772 500C767.3 516.7 764.2 544.3 761 560C757.8 575.7 755.1 582.5 753 594C750.9 605.5 749.5 617.5 748.6 629C747.7 640.5 747 651.7 747.4 663C747.8 674.3 749.1 685.7 751 697C752.9 708.3 755.7 720.5 759 731C762.3 741.5 766 751.3 771 760C776 768.7 782.3 775.3 789 783C795.7 790.7 802.5 798.3 811 806C819.5 813.7 829.5 821.5 840 829C850.5 836.5 860.7 843.8 874 851C887.3 858.2 904.8 866.8 920 872C935.2 877.2 950 879.5 965 882C980 884.5 994.2 886.3 1010 887C1025.8 887.7 1043.3 887.3 1060 886C1076.7 884.7 1093.3 881.8 1110 879C1126.7 876.2 1146 873.2 1160 869C1174 864.8 1183.5 859.8 1194 854C1204.5 848.2 1213.5 841.5 1223 834C1232.5 826.5 1242.5 817.5 1251 809C1259.5 800.5 1267.8 791.2 1274 783C1280.2 774.8 1282.8 771.3 1288 760C1293.2 748.7 1301 730.8 1305 715C1309 699.2 1311.5 682.5 1312 665C1312.5 647.5 1310.2 626.7 1308 610C1305.8 593.3 1302 577.5 1299 565C1296 552.5 1293.2 545 1290 535C1286.8 525 1283.3 515.8 1280 505C1276.7 494.2 1273.8 484.2 1270 470C1266.2 455.8 1261.2 435.8 1257 420C1252.8 404.2 1248.5 388.3 1245 375C1241.5 361.7 1239.2 352.5 1236 340C1232.8 327.5 1229.2 314.2 1226 300C1222.8 285.8 1220 276.7 1217 255C1214 233.3 1210.2 195.8 1208 170C1205.8 144.2 1205 131.7 1204 100C1203 68.3 1202.3 0 1202 -20Z" fill="url(#gSpU2)"/>
<g clip-path="url(#cpSpU)"><path d="M759 731C761 735.8 766 751.3 771 760C776 768.7 782.3 775.3 789 783C795.7 790.7 802.5 798.3 811 806C819.5 813.7 829.5 821.5 840 829C850.5 836.5 860.7 843.8 874 851C887.3 858.2 904.8 866.8 920 872C935.2 877.2 950 879.5 965 882C980 884.5 994.2 886.3 1010 887C1025.8 887.7 1043.3 887.3 1060 886C1076.7 884.7 1093.3 881.8 1110 879C1126.7 876.2 1146 873.2 1160 869C1174 864.8 1183.5 859.8 1194 854C1204.5 848.2 1213.5 841.5 1223 834C1232.5 826.5 1242.5 817.5 1251 809C1259.5 800.5 1267.8 791.2 1274 783C1280.2 774.8 1282.8 771.3 1288 760C1293.2 748.7 1301 730.8 1305 715C1309 699.2 1311.5 682.5 1312 665C1312.5 647.5 1308.7 619.2 1308 610" fill="none" stroke="#c98438" stroke-width="70" opacity=".42" filter="url(#blur12)"/></g>
<path d="M873 1790C872 1786 869.6 1779.2 867.3 1766C865 1752.8 861.8 1730.5 859 1711C856.2 1691.5 854.5 1669.7 850.7 1649C846.9 1628.3 840.9 1607.7 836 1587C831.1 1566.3 826.8 1545.8 821.6 1525C816.4 1504.2 810.5 1482.8 805 1462C799.5 1441.2 793.1 1415.8 788.4 1400C783.7 1384.2 780.3 1378.7 777 1367C773.7 1355.3 771.1 1342.5 768.4 1330C765.7 1317.5 763.3 1304.5 761 1292C758.7 1279.5 756.4 1267.5 754.7 1255C753 1242.5 752 1229.5 751 1217C750 1204.5 747.6 1188.5 748.4 1180C749.2 1171.5 751.7 1169.5 756 1166C760.3 1162.5 762.2 1159.7 774 1159C785.8 1158.3 808.8 1159.3 827 1162C845.2 1164.7 864.5 1169.8 883 1175C901.5 1180.2 919.5 1186.8 938 1193C956.5 1199.2 978.7 1207.3 994 1212C1009.3 1216.7 1017.7 1219.8 1030 1221C1042.3 1222.2 1056.3 1220.7 1068 1219.5C1079.7 1218.3 1087.5 1216.5 1100 1214C1112.5 1211.5 1126.7 1209.9 1143 1204.6C1159.3 1199.3 1182.5 1189.4 1198 1182C1213.5 1174.6 1224.3 1163.7 1236 1160C1247.7 1156.3 1259 1156.2 1268 1160C1277 1163.8 1285 1173.8 1290 1183C1295 1192.2 1296.7 1198.3 1298 1215C1299.3 1231.7 1299.8 1259.7 1298 1283C1296.2 1306.3 1291.2 1335.5 1287 1355C1282.8 1374.5 1277.9 1382.2 1272.7 1400C1267.5 1417.8 1261.5 1441.2 1256 1462C1250.5 1482.8 1245 1504.2 1239.5 1525C1234 1545.8 1228.2 1566.3 1223 1587C1217.8 1607.7 1211.8 1631.7 1208 1649C1204.2 1666.3 1203.5 1671.5 1200 1691C1196.5 1710.5 1189.7 1749.5 1187 1766C1184.3 1782.5 1184.5 1786 1184 1790Z" fill="url(#gSpL)" filter="url(#blur3)"/>
<path d="M801 568.6C806.7 570 823 574.3 835 577C847 579.7 860.5 582.7 873 585C885.5 587.3 897.2 589 910 591C922.8 593 936.7 595.4 950 597C963.3 598.6 977.2 599.7 990 600.5C1002.8 601.3 1014.5 601.8 1027 602C1039.5 602.2 1052.2 601.9 1065 601.5C1077.8 601.1 1091 600.5 1104 599.4C1117 598.3 1130.2 596.7 1143 595C1155.8 593.3 1169 591.2 1181 589C1193 586.8 1204.2 584.5 1215 582C1225.8 579.5 1234 577.4 1246 573.7C1258 570 1280.2 562 1287 559.6L1287 559.6C1282.3 563.2 1267.7 575.7 1259 581.4C1250.3 587.1 1243.7 590.1 1235 594C1226.3 597.9 1217.8 601.4 1207 604.6C1196.2 607.8 1182.8 610.4 1170 613C1157.2 615.6 1143.3 618.1 1130 620C1116.7 621.9 1102.8 623.4 1090 624.5C1077.2 625.6 1065.5 626.1 1053 626.4C1040.5 626.6 1027.8 626.4 1015 626C1002.2 625.6 989 625.2 976 624C963 622.8 949.8 621 937 619C924.2 617 914 615.7 899 612C884 608.3 863.3 604.2 847 597C830.7 589.8 808.7 573.3 801 568.6Z" fill="#f6cf9c" opacity=".85"/>
<path d="M801 1355C806.7 1356.2 823 1359.8 835 1362C847 1364.2 860.5 1365.9 873 1368C885.5 1370.1 897.2 1372.4 910 1374.5C922.8 1376.6 936.7 1379 950 1380.7C963.3 1382.5 977.2 1384 990 1385C1002.8 1386 1014.5 1386.8 1027 1387C1039.5 1387.2 1052.2 1386.9 1065 1386.5C1077.8 1386.1 1091 1385.7 1104 1384.6C1117 1383.5 1130.2 1381.8 1143 1380C1155.8 1378.2 1169 1376.2 1181 1374C1193 1371.8 1204.2 1369.5 1215 1367C1225.8 1364.5 1234.8 1362.1 1246 1359C1257.2 1355.9 1276 1350.3 1282 1348.6L1282 1348.6C1278.2 1352 1266.8 1363.7 1259 1369C1251.2 1374.3 1243.7 1377 1235 1380.5C1226.3 1384 1217.8 1387 1207 1389.7C1196.2 1392.5 1182.8 1394.8 1170 1397C1157.2 1399.2 1143.3 1400.9 1130 1402.6C1116.7 1404.3 1102.8 1405.9 1090 1407C1077.2 1408.1 1065.5 1408.8 1053 1409C1040.5 1409.2 1027.8 1408.9 1015 1408.5C1002.2 1408.1 989 1407.6 976 1406.4C963 1405.2 949.8 1403.4 937 1401.5C924.2 1399.6 914 1398.2 899 1395C884 1391.8 863.3 1388.7 847 1382C830.7 1375.3 808.7 1359.5 801 1355Z" fill="#f5d2a6" opacity=".7"/>
<g><path transform="translate(927.8 131.5) rotate(7.9)" d="M-8.5 1.9C-8.5 -3.8 -4.8 -6.3 0 -6.3C4.8 -6.3 8.5 -3.8 8.5 1.9C8.5 3.5 7.5 3.9 5.9 3.9L-5.9 3.9C-7.5 3.9 -8.5 3.5 -8.5 1.9Z" fill="url(#gHole)"/><path transform="translate(869.5 562.8) rotate(-16.9)" d="M-6.5 1.5C-6.5 -2.9 -3.6 -4.9 0 -4.9C3.6 -4.9 6.5 -2.9 6.5 1.5C6.5 2.7 5.7 3 4.5 3L-4.5 3C-5.7 3 -6.5 2.7 -6.5 1.5Z" fill="url(#gHole)"/><path transform="translate(1053.6 511.7) rotate(-9.5)" d="M-13.7 3.3C-13.7 -6.5 -7.7 -10.9 0 -10.9C7.7 -10.9 13.7 -6.5 13.7 3.3C13.7 6.1 12.1 6.7 9.6 6.7L-9.6 6.7C-12.1 6.7 -13.7 6.1 -13.7 3.3Z" fill="url(#gHole)"/><path transform="translate(844.8 521.3) rotate(12.9)" d="M-8.4 2.4C-8.4 -4.9 -4.7 -8.1 0 -8.1C4.7 -8.1 8.4 -4.9 8.4 2.4C8.4 4.5 7.4 5 5.9 5L-5.9 5C-7.4 5 -8.4 4.5 -8.4 2.4Z" fill="url(#gHole)"/><path transform="translate(1027.9 476.2) rotate(17.8)" d="M-9.4 2.6C-9.4 -5.3 -5.3 -8.8 0 -8.8C5.3 -8.8 9.4 -5.3 9.4 2.6C9.4 4.9 8.3 5.5 6.6 5.5L-6.6 5.5C-8.3 5.5 -9.4 4.9 -9.4 2.6Z" fill="url(#gHole)"/><path transform="translate(884.1 157.7) rotate(-12.7)" d="M-10 2.2C-10 -4.4 -5.6 -7.3 0 -7.3C5.6 -7.3 10 -4.4 10 2.2C10 4.1 8.8 4.5 7 4.5L-7 4.5C-8.8 4.5 -10 4.1 -10 2.2Z" fill="url(#gHole)"/><path transform="translate(914.1 443.1) rotate(-14.7)" d="M-11.5 2.6C-11.5 -5.3 -6.4 -8.8 0 -8.8C6.4 -8.8 11.5 -5.3 11.5 2.6C11.5 4.9 10.1 5.5 8 5.5L-8 5.5C-10.1 5.5 -11.5 4.9 -11.5 2.6Z" fill="url(#gHole)"/><path transform="translate(1179.1 132.5) rotate(-12.3)" d="M-12.1 3.3C-12.1 -6.6 -6.8 -10.9 0 -10.9C6.8 -10.9 12.1 -6.6 12.1 3.3C12.1 6.1 10.6 6.8 8.5 6.8L-8.5 6.8C-10.6 6.8 -12.1 6.1 -12.1 3.3Z" fill="url(#gHoleLt)"/><path transform="translate(1063.7 709.1) rotate(11.1)" d="M-9.4 2.8C-9.4 -5.5 -5.2 -9.2 0 -9.2C5.2 -9.2 9.4 -5.5 9.4 2.8C9.4 5.1 8.2 5.7 6.5 5.7L-6.5 5.7C-8.2 5.7 -9.4 5.1 -9.4 2.8Z" fill="url(#gHole)"/><path transform="translate(943.1 444.5) rotate(-11.8)" d="M-11.9 2.7C-11.9 -5.4 -6.7 -9 0 -9C6.7 -9 11.9 -5.4 11.9 2.7C11.9 5 10.5 5.6 8.3 5.6L-8.3 5.6C-10.5 5.6 -11.9 5 -11.9 2.7Z" fill="url(#gHole)"/><path transform="translate(1144.3 53.8) rotate(-13.9)" d="M-10.1 2.8C-10.1 -5.5 -5.6 -9.2 0 -9.2C5.6 -9.2 10.1 -5.5 10.1 2.8C10.1 5.2 8.9 5.7 7.1 5.7L-7.1 5.7C-8.9 5.7 -10.1 5.2 -10.1 2.8Z" fill="url(#gHoleLt)"/><path transform="translate(905.1 344.1) rotate(-15.5)" d="M-11.6 2.6C-11.6 -5.3 -6.5 -8.8 0 -8.8C6.5 -8.8 11.6 -5.3 11.6 2.6C11.6 4.9 10.2 5.4 8.1 5.4L-8.1 5.4C-10.2 5.4 -11.6 4.9 -11.6 2.6Z" fill="url(#gHole)"/><path transform="translate(866.6 255.1) rotate(6.2)" d="M-9.6 2.4C-9.6 -4.8 -5.4 -7.9 0 -7.9C5.4 -7.9 9.6 -4.8 9.6 2.4C9.6 4.5 8.4 4.9 6.7 4.9L-6.7 4.9C-8.4 4.9 -9.6 4.5 -9.6 2.4Z" fill="url(#gHole)"/><path transform="translate(1215.2 776.9) rotate(-12.5)" d="M-11.4 2.4C-11.4 -4.8 -6.4 -8 0 -8C6.4 -8 11.4 -4.8 11.4 2.4C11.4 4.5 10 4.9 8 4.9L-8 4.9C-10 4.9 -11.4 4.5 -11.4 2.4Z" fill="url(#gHole)"/><path transform="translate(960.7 203.8) rotate(9.1)" d="M-8.2 2.1C-8.2 -4.3 -4.6 -7.1 0 -7.1C4.6 -7.1 8.2 -4.3 8.2 2.1C8.2 4 7.2 4.4 5.7 4.4L-5.7 4.4C-7.2 4.4 -8.2 4 -8.2 2.1Z" fill="url(#gHole)"/><path transform="translate(874.5 206.2) rotate(10.7)" d="M-11.9 3.4C-11.9 -6.8 -6.7 -11.3 0 -11.3C6.7 -11.3 11.9 -6.8 11.9 3.4C11.9 6.3 10.5 7 8.4 7L-8.4 7C-10.5 7 -11.9 6.3 -11.9 3.4Z" fill="url(#gHole)"/><path transform="translate(824.5 478.8) rotate(5.1)" d="M-13.3 3.6C-13.3 -7.1 -7.5 -11.9 0 -11.9C7.5 -11.9 13.3 -7.1 13.3 3.6C13.3 6.6 11.7 7.4 9.3 7.4L-9.3 7.4C-11.7 7.4 -13.3 6.6 -13.3 3.6Z" fill="url(#gHole)"/><path transform="translate(1119.9 664.5) rotate(11)" d="M-13.8 3.3C-13.8 -6.5 -7.7 -10.8 0 -10.8C7.7 -10.8 13.8 -6.5 13.8 3.3C13.8 6.1 12.1 6.7 9.6 6.7L-9.6 6.7C-12.1 6.7 -13.8 6.1 -13.8 3.3Z" fill="url(#gHole)"/><path transform="translate(950.9 18.1) rotate(16)" d="M-9.3 2.6C-9.3 -5.2 -5.2 -8.7 0 -8.7C5.2 -8.7 9.3 -5.2 9.3 2.6C9.3 4.9 8.2 5.4 6.5 5.4L-6.5 5.4C-8.2 5.4 -9.3 4.9 -9.3 2.6Z" fill="url(#gHole)"/><path transform="translate(941.5 324.6) rotate(8.9)" d="M-9.1 2C-9.1 -4.1 -5.1 -6.8 0 -6.8C5.1 -6.8 9.1 -4.1 9.1 2C9.1 3.8 8 4.2 6.4 4.2L-6.4 4.2C-8 4.2 -9.1 3.8 -9.1 2Z" fill="url(#gHole)"/><path transform="translate(938.7 234.6) rotate(-6)" d="M-10.5 2.5C-10.5 -4.9 -5.9 -8.2 0 -8.2C5.9 -8.2 10.5 -4.9 10.5 2.5C10.5 4.6 9.2 5.1 7.3 5.1L-7.3 5.1C-9.2 5.1 -10.5 4.6 -10.5 2.5Z" fill="url(#gHole)"/><path transform="translate(912.9 576.8) rotate(-16.8)" d="M-7.5 1.9C-7.5 -3.7 -4.2 -6.2 0 -6.2C4.2 -6.2 7.5 -3.7 7.5 1.9C7.5 3.5 6.6 3.9 5.3 3.9L-5.3 3.9C-6.6 3.9 -7.5 3.5 -7.5 1.9Z" fill="url(#gHole)"/><path transform="translate(869.2 485.1) rotate(8.8)" d="M-13.3 3C-13.3 -6.1 -7.5 -10.1 0 -10.1C7.5 -10.1 13.3 -6.1 13.3 3C13.3 5.6 11.7 6.3 9.3 6.3L-9.3 6.3C-11.7 6.3 -13.3 5.6 -13.3 3Z" fill="url(#gHole)"/><path transform="translate(869.4 729.4) rotate(8.7)" d="M-9.6 2.3C-9.6 -4.6 -5.4 -7.7 0 -7.7C5.4 -7.7 9.6 -4.6 9.6 2.3C9.6 4.3 8.4 4.8 6.7 4.8L-6.7 4.8C-8.4 4.8 -9.6 4.3 -9.6 2.3Z" fill="url(#gHole)"/><path transform="translate(1214.6 664.6) rotate(16.2)" d="M-8.7 2.4C-8.7 -4.7 -4.9 -7.8 0 -7.8C4.9 -7.8 8.7 -4.7 8.7 2.4C8.7 4.4 7.7 4.9 6.1 4.9L-6.1 4.9C-7.7 4.9 -8.7 4.4 -8.7 2.4Z" fill="url(#gHole)"/><path transform="translate(1025.8 656.6) rotate(12.8)" d="M-6.2 1.5C-6.2 -3 -3.5 -5 0 -5C3.5 -5 6.2 -3 6.2 1.5C6.2 2.8 5.4 3.1 4.3 3.1L-4.3 3.1C-5.4 3.1 -6.2 2.8 -6.2 1.5Z" fill="url(#gHole)"/><path transform="translate(999.4 843) rotate(-0.4)" d="M-10.9 3C-10.9 -6 -6.1 -10.1 0 -10.1C6.1 -10.1 10.9 -6 10.9 3C10.9 5.6 9.6 6.2 7.6 6.2L-7.6 6.2C-9.6 6.2 -10.9 5.6 -10.9 3Z" fill="url(#gHole)"/><path transform="translate(1018.1 585.9) rotate(9.8)" d="M-7.3 2C-7.3 -4.1 -4.1 -6.8 0 -6.8C4.1 -6.8 7.3 -4.1 7.3 2C7.3 3.8 6.4 4.2 5.1 4.2L-5.1 4.2C-6.4 4.2 -7.3 3.8 -7.3 2Z" fill="url(#gHole)"/><path transform="translate(1152.7 175.4) rotate(-9.3)" d="M-8.8 2.2C-8.8 -4.4 -4.9 -7.4 0 -7.4C4.9 -7.4 8.8 -4.4 8.8 2.2C8.8 4.1 7.7 4.6 6.2 4.6L-6.2 4.6C-7.7 4.6 -8.8 4.1 -8.8 2.2Z" fill="url(#gHoleLt)"/><path transform="translate(1108.8 73.5) rotate(-5.2)" d="M-12.4 3C-12.4 -5.9 -6.9 -9.9 0 -9.9C6.9 -9.9 12.4 -5.9 12.4 3C12.4 5.5 10.9 6.1 8.7 6.1L-8.7 6.1C-10.9 6.1 -12.4 5.5 -12.4 3Z" fill="url(#gHoleLt)"/><path transform="translate(1264.8 724.9) rotate(2.6)" d="M-8.9 2.3C-8.9 -4.7 -5 -7.8 0 -7.8C5 -7.8 8.9 -4.7 8.9 2.3C8.9 4.4 7.8 4.8 6.2 4.8L-6.2 4.8C-7.8 4.8 -8.9 4.4 -8.9 2.3Z" fill="url(#gHole)"/><path transform="translate(1085.6 424.3) rotate(-1.1)" d="M-9.7 2.7C-9.7 -5.5 -5.4 -9.1 0 -9.1C5.4 -9.1 9.7 -5.5 9.7 2.7C9.7 5.1 8.5 5.7 6.8 5.7L-6.8 5.7C-8.5 5.7 -9.7 5.1 -9.7 2.7Z" fill="url(#gHole)"/><path transform="translate(863.4 448.6) rotate(15.2)" d="M-13.2 3.2C-13.2 -6.4 -7.4 -10.6 0 -10.6C7.4 -10.6 13.2 -6.4 13.2 3.2C13.2 5.9 11.6 6.6 9.3 6.6L-9.3 6.6C-11.6 6.6 -13.2 5.9 -13.2 3.2Z" fill="url(#gHole)"/><path transform="translate(1055.7 749.9) rotate(9.2)" d="M-5.9 1.6C-5.9 -3.2 -3.3 -5.4 0 -5.4C3.3 -5.4 5.9 -3.2 5.9 1.6C5.9 3 5.2 3.3 4.1 3.3L-4.1 3.3C-5.2 3.3 -5.9 3 -5.9 1.6Z" fill="url(#gHole)"/><path transform="translate(1093 697.3) rotate(15.3)" d="M-8.7 2.1C-8.7 -4.1 -4.9 -6.9 0 -6.9C4.9 -6.9 8.7 -4.1 8.7 2.1C8.7 3.8 7.7 4.2 6.1 4.2L-6.1 4.2C-7.7 4.2 -8.7 3.8 -8.7 2.1Z" fill="url(#gHole)"/><path transform="translate(1135.8 475.3) rotate(-13.5)" d="M-12.9 2.9C-12.9 -5.8 -7.3 -9.6 0 -9.6C7.3 -9.6 12.9 -5.8 12.9 2.9C12.9 5.4 11.4 6 9.1 6L-9.1 6C-11.4 6 -12.9 5.4 -12.9 2.9Z" fill="url(#gHole)"/><path transform="translate(801.5 502.1) rotate(-11.7)" d="M-9.6 2.1C-9.6 -4.2 -5.4 -7 0 -7C5.4 -7 9.6 -4.2 9.6 2.1C9.6 3.9 8.5 4.3 6.7 4.3L-6.7 4.3C-8.5 4.3 -9.6 3.9 -9.6 2.1Z" fill="url(#gHole)"/><path transform="translate(1095.3 452.5) rotate(-12.7)" d="M-12.7 2.9C-12.7 -5.7 -7.1 -9.6 0 -9.6C7.1 -9.6 12.7 -5.7 12.7 2.9C12.7 5.4 11.2 5.9 8.9 5.9L-8.9 5.9C-11.2 5.9 -12.7 5.4 -12.7 2.9Z" fill="url(#gHole)"/><path transform="translate(782.4 600.9) rotate(-9.6)" d="M-8.2 2.2C-8.2 -4.3 -4.6 -7.2 0 -7.2C4.6 -7.2 8.2 -4.3 8.2 2.2C8.2 4 7.2 4.5 5.8 4.5L-5.8 4.5C-7.2 4.5 -8.2 4 -8.2 2.2Z" fill="url(#gHole)"/><path transform="translate(829.6 643.1) rotate(5.2)" d="M-10 2.6C-10 -5.2 -5.6 -8.6 0 -8.6C5.6 -8.6 10 -5.2 10 2.6C10 4.8 8.8 5.3 7 5.3L-7 5.3C-8.8 5.3 -10 4.8 -10 2.6Z" fill="url(#gHole)"/><path transform="translate(971 436) rotate(15.6)" d="M-9.3 2.3C-9.3 -4.5 -5.2 -7.6 0 -7.6C5.2 -7.6 9.3 -4.5 9.3 2.3C9.3 4.2 8.2 4.7 6.5 4.7L-6.5 4.7C-8.2 4.7 -9.3 4.2 -9.3 2.3Z" fill="url(#gHole)"/><path transform="translate(990.3 461.6) rotate(12.3)" d="M-11.4 2.8C-11.4 -5.6 -6.4 -9.3 0 -9.3C6.4 -9.3 11.4 -5.6 11.4 2.8C11.4 5.2 10 5.8 8 5.8L-8 5.8C-10 5.8 -11.4 5.2 -11.4 2.8Z" fill="url(#gHole)"/><path transform="translate(946.8 78.4) rotate(-4.5)" d="M-9.8 2.8C-9.8 -5.6 -5.5 -9.4 0 -9.4C5.5 -9.4 9.8 -5.6 9.8 2.8C9.8 5.2 8.7 5.8 6.9 5.8L-6.9 5.8C-8.7 5.8 -9.8 5.2 -9.8 2.8Z" fill="url(#gHole)"/><path transform="translate(897.7 814.8) rotate(0.8)" d="M-8.9 2C-8.9 -4 -5 -6.6 0 -6.6C5 -6.6 8.9 -4 8.9 2C8.9 3.7 7.9 4.1 6.3 4.1L-6.3 4.1C-7.9 4.1 -8.9 3.7 -8.9 2Z" fill="url(#gHole)"/><path transform="translate(1139.2 379.9) rotate(-5.7)" d="M-7.8 2.2C-7.8 -4.4 -4.4 -7.3 0 -7.3C4.4 -7.3 7.8 -4.4 7.8 2.2C7.8 4.1 6.8 4.5 5.4 4.5L-5.4 4.5C-6.8 4.5 -7.8 4.1 -7.8 2.2Z" fill="url(#gHole)"/><path transform="translate(891.1 545.4) rotate(7.4)" d="M-8.6 2.3C-8.6 -4.6 -4.8 -7.7 0 -7.7C4.8 -7.7 8.6 -4.6 8.6 2.3C8.6 4.3 7.6 4.8 6 4.8L-6 4.8C-7.6 4.8 -8.6 4.3 -8.6 2.3Z" fill="url(#gHole)"/><path transform="translate(1215 386.1) rotate(-11.5)" d="M-12.4 3C-12.4 -6 -7 -9.9 0 -9.9C7 -9.9 12.4 -6 12.4 3C12.4 5.6 10.9 6.2 8.7 6.2L-8.7 6.2C-10.9 6.2 -12.4 5.6 -12.4 3Z" fill="url(#gHole)"/><path transform="translate(918.5 189.7) rotate(12.8)" d="M-9.3 2.4C-9.3 -4.9 -5.2 -8.1 0 -8.1C5.2 -8.1 9.3 -4.9 9.3 2.4C9.3 4.6 8.2 5 6.5 5L-6.5 5C-8.2 5 -9.3 4.6 -9.3 2.4Z" fill="url(#gHole)"/><path transform="translate(1222.7 634.6) rotate(13.4)" d="M-8.4 2C-8.4 -4.1 -4.7 -6.8 0 -6.8C4.7 -6.8 8.4 -4.1 8.4 2C8.4 3.8 7.4 4.2 5.9 4.2L-5.9 4.2C-7.4 4.2 -8.4 3.8 -8.4 2Z" fill="url(#gHole)"/><path transform="translate(1102.8 791.3) rotate(-17.9)" d="M-10.7 2.8C-10.7 -5.6 -6 -9.3 0 -9.3C6 -9.3 10.7 -5.6 10.7 2.8C10.7 5.2 9.4 5.8 7.5 5.8L-7.5 5.8C-9.4 5.8 -10.7 5.2 -10.7 2.8Z" fill="url(#gHole)"/><path transform="translate(789 756.3) rotate(-2.4)" d="M-12.8 3.5C-12.8 -7 -7.2 -11.7 0 -11.7C7.2 -11.7 12.8 -7 12.8 3.5C12.8 6.5 11.3 7.2 9 7.2L-9 7.2C-11.3 7.2 -12.8 6.5 -12.8 3.5Z" fill="url(#gHole)"/><path transform="translate(1043.8 451.5) rotate(-14.5)" d="M-6.2 1.5C-6.2 -3 -3.5 -5 0 -5C3.5 -5 6.2 -3 6.2 1.5C6.2 2.8 5.4 3.1 4.3 3.1L-4.3 3.1C-5.4 3.1 -6.2 2.8 -6.2 1.5Z" fill="url(#gHole)"/><path transform="translate(1134.8 437.8) rotate(-10.7)" d="M-5.9 1.4C-5.9 -2.9 -3.3 -4.8 0 -4.8C3.3 -4.8 5.9 -2.9 5.9 1.4C5.9 2.7 5.2 3 4.1 3L-4.1 3C-5.2 3 -5.9 2.7 -5.9 1.4Z" fill="url(#gHole)"/><path transform="translate(1097.8 576.7) rotate(-9.6)" d="M-7.9 2.1C-7.9 -4.1 -4.4 -6.8 0 -6.8C4.4 -6.8 7.9 -4.1 7.9 2.1C7.9 3.8 6.9 4.2 5.5 4.2L-5.5 4.2C-6.9 4.2 -7.9 3.8 -7.9 2.1Z" fill="url(#gHole)"/><path transform="translate(817.4 431.6) rotate(-16.5)" d="M-10.3 2.8C-10.3 -5.6 -5.7 -9.3 0 -9.3C5.7 -9.3 10.3 -5.6 10.3 2.8C10.3 5.2 9 5.8 7.2 5.8L-7.2 5.8C-9 5.8 -10.3 5.2 -10.3 2.8Z" fill="url(#gHole)"/><path transform="translate(1006.2 737) rotate(7)" d="M-12.9 3.2C-12.9 -6.4 -7.2 -10.6 0 -10.6C7.2 -10.6 12.9 -6.4 12.9 3.2C12.9 6 11.3 6.6 9 6.6L-9 6.6C-11.3 6.6 -12.9 6 -12.9 3.2Z" fill="url(#gHole)"/><path transform="translate(964.4 824.5) rotate(-15.6)" d="M-9.1 2C-9.1 -4.1 -5.1 -6.8 0 -6.8C5.1 -6.8 9.1 -4.1 9.1 2C9.1 3.8 8.1 4.2 6.4 4.2L-6.4 4.2C-8.1 4.2 -9.1 3.8 -9.1 2Z" fill="url(#gHole)"/><path transform="translate(792.4 671.5) rotate(-5.5)" d="M-10.8 2.6C-10.8 -5.3 -6 -8.8 0 -8.8C6 -8.8 10.8 -5.3 10.8 2.6C10.8 4.9 9.5 5.5 7.5 5.5L-7.5 5.5C-9.5 5.5 -10.8 4.9 -10.8 2.6Z" fill="url(#gHole)"/><path transform="translate(816.9 737.3) rotate(6.7)" d="M-12.3 3.3C-12.3 -6.7 -6.9 -11.1 0 -11.1C6.9 -11.1 12.3 -6.7 12.3 3.3C12.3 6.2 10.9 6.9 8.6 6.9L-8.6 6.9C-10.9 6.9 -12.3 6.2 -12.3 3.3Z" fill="url(#gHole)"/><path transform="translate(1028.8 787.9) rotate(0.2)" d="M-11.1 2.4C-11.1 -4.8 -6.2 -8 0 -8C6.2 -8 11.1 -4.8 11.1 2.4C11.1 4.5 9.8 5 7.8 5L-7.8 5C-9.8 5 -11.1 4.5 -11.1 2.4Z" fill="url(#gHole)"/><path transform="translate(1175.4 754.4) rotate(-0.3)" d="M-7.8 2C-7.8 -4 -4.3 -6.6 0 -6.6C4.3 -6.6 7.8 -4 7.8 2C7.8 3.7 6.8 4.1 5.4 4.1L-5.4 4.1C-6.8 4.1 -7.8 3.7 -7.8 2Z" fill="url(#gHole)"/><path transform="translate(1169.1 224.2) rotate(7.3)" d="M-8.3 2.1C-8.3 -4.2 -4.7 -6.9 0 -6.9C4.7 -6.9 8.3 -4.2 8.3 2.1C8.3 3.9 7.3 4.3 5.8 4.3L-5.8 4.3C-7.3 4.3 -8.3 3.9 -8.3 2.1Z" fill="url(#gHoleLt)"/><path transform="translate(949.2 382.4) rotate(14.3)" d="M-10.9 2.7C-10.9 -5.4 -6.1 -9 0 -9C6.1 -9 10.9 -5.4 10.9 2.7C10.9 5 9.6 5.6 7.6 5.6L-7.6 5.6C-9.6 5.6 -10.9 5 -10.9 2.7Z" fill="url(#gHole)"/><path transform="translate(902.8 41.7) rotate(-10.1)" d="M-11.1 2.7C-11.1 -5.4 -6.2 -9.1 0 -9.1C6.2 -9.1 11.1 -5.4 11.1 2.7C11.1 5.1 9.7 5.6 7.7 5.6L-7.7 5.6C-9.7 5.6 -11.1 5.1 -11.1 2.7Z" fill="url(#gHole)"/><path transform="translate(889.8 510.5) rotate(11.7)" d="M-6.6 1.6C-6.6 -3.1 -3.7 -5.2 0 -5.2C3.7 -5.2 6.6 -3.1 6.6 1.6C6.6 2.9 5.8 3.2 4.6 3.2L-4.6 3.2C-5.8 3.2 -6.6 2.9 -6.6 1.6Z" fill="url(#gHole)"/><path transform="translate(896.7 675.7) rotate(10.7)" d="M-11.8 3C-11.8 -6 -6.6 -9.9 0 -9.9C6.6 -9.9 11.8 -6 11.8 3C11.8 5.6 10.4 6.2 8.3 6.2L-8.3 6.2C-10.4 6.2 -11.8 5.6 -11.8 3Z" fill="url(#gHole)"/><path transform="translate(909.4 759.9) rotate(12.5)" d="M-6.8 1.8C-6.8 -3.6 -3.8 -6.1 0 -6.1C3.8 -6.1 6.8 -3.6 6.8 1.8C6.8 3.4 6 3.8 4.8 3.8L-4.8 3.8C-6 3.8 -6.8 3.4 -6.8 1.8Z" fill="url(#gHole)"/><path transform="translate(868.4 683.2) rotate(6.5)" d="M-8.6 2.3C-8.6 -4.5 -4.8 -7.6 0 -7.6C4.8 -7.6 8.6 -4.5 8.6 2.3C8.6 4.2 7.6 4.7 6 4.7L-6 4.7C-7.6 4.7 -8.6 4.2 -8.6 2.3Z" fill="url(#gHole)"/><path transform="translate(1101.7 547.1) rotate(1.4)" d="M-8.5 2.2C-8.5 -4.4 -4.8 -7.4 0 -7.4C4.8 -7.4 8.5 -4.4 8.5 2.2C8.5 4.1 7.5 4.6 6 4.6L-6 4.6C-7.5 4.6 -8.5 4.1 -8.5 2.2Z" fill="url(#gHole)"/><path transform="translate(1085 829.3) rotate(10.5)" d="M-5.8 1.3C-5.8 -2.6 -3.2 -4.4 0 -4.4C3.2 -4.4 5.8 -2.6 5.8 1.3C5.8 2.5 5.1 2.7 4 2.7L-4 2.7C-5.1 2.7 -5.8 2.5 -5.8 1.3Z" fill="url(#gHole)"/><path transform="translate(1253.4 502.8) rotate(5.6)" d="M-8.8 2.3C-8.8 -4.5 -4.9 -7.6 0 -7.6C4.9 -7.6 8.8 -4.5 8.8 2.3C8.8 4.2 7.8 4.7 6.2 4.7L-6.2 4.7C-7.8 4.7 -8.8 4.2 -8.8 2.3Z" fill="url(#gHole)"/><path transform="translate(1185.9 274.4) rotate(9.4)" d="M-10.2 3C-10.2 -6 -5.7 -9.9 0 -9.9C5.7 -9.9 10.2 -6 10.2 3C10.2 5.6 9 6.2 7.1 6.2L-7.1 6.2C-9 6.2 -10.2 5.6 -10.2 3Z" fill="url(#gHoleLt)"/><path transform="translate(852 324.6) rotate(-11.6)" d="M-10.7 3C-10.7 -6 -6 -10 0 -10C6 -10 10.7 -6 10.7 3C10.7 5.6 9.4 6.2 7.5 6.2L-7.5 6.2C-9.4 6.2 -10.7 5.6 -10.7 3Z" fill="url(#gHole)"/><path transform="translate(1173.4 808.2) rotate(17.7)" d="M-11.2 2.7C-11.2 -5.3 -6.3 -8.9 0 -8.9C6.3 -8.9 11.2 -5.3 11.2 2.7C11.2 5 9.9 5.5 7.9 5.5L-7.9 5.5C-9.9 5.5 -11.2 5 -11.2 2.7Z" fill="url(#gHole)"/><path transform="translate(934.3 858.2) rotate(-14.8)" d="M-6 1.5C-6 -3 -3.4 -5 0 -5C3.4 -5 6 -3 6 1.5C6 2.8 5.3 3.1 4.2 3.1L-4.2 3.1C-5.3 3.1 -6 2.8 -6 1.5Z" fill="url(#gHole)"/><path transform="translate(1158.5 534) rotate(-3.4)" d="M-7.2 1.7C-7.2 -3.5 -4 -5.8 0 -5.8C4 -5.8 7.2 -3.5 7.2 1.7C7.2 3.2 6.3 3.6 5 3.6L-5 3.6C-6.3 3.6 -7.2 3.2 -7.2 1.7Z" fill="url(#gHole)"/><path transform="translate(930.1 284.2) rotate(-5.7)" d="M-11.9 3C-11.9 -6 -6.7 -10.1 0 -10.1C6.7 -10.1 11.9 -6 11.9 3C11.9 5.6 10.5 6.2 8.3 6.2L-8.3 6.2C-10.5 6.2 -11.9 5.6 -11.9 3Z" fill="url(#gHole)"/><path transform="translate(1125.6 0.7) rotate(17.3)" d="M-17 4C-17 -8 -9.5 -13.3 0 -13.3C9.5 -13.3 17 -8 17 4C17 7.4 15 8.2 11.9 8.2L-11.9 8.2C-15 8.2 -17 7.4 -17 4Z" fill="url(#gHoleLt)"/><path transform="translate(955.6 557) rotate(-13.6)" d="M-7.3 1.8C-7.3 -3.6 -4.1 -6 0 -6C4.1 -6 7.3 -3.6 7.3 1.8C7.3 3.4 6.4 3.7 5.1 3.7L-5.1 3.7C-6.4 3.7 -7.3 3.4 -7.3 1.8Z" fill="url(#gHole)"/><path transform="translate(1201.3 491) rotate(-3.6)" d="M-6.8 1.8C-6.8 -3.5 -3.8 -5.9 0 -5.9C3.8 -5.9 6.8 -3.5 6.8 1.8C6.8 3.3 6 3.7 4.8 3.7L-4.8 3.7C-6 3.7 -6.8 3.3 -6.8 1.8Z" fill="url(#gHole)"/><path transform="translate(1059.9 574.8) rotate(15.3)" d="M-11.1 2.7C-11.1 -5.3 -6.2 -8.9 0 -8.9C6.2 -8.9 11.1 -5.3 11.1 2.7C11.1 5 9.8 5.5 7.8 5.5L-7.8 5.5C-9.8 5.5 -11.1 5 -11.1 2.7Z" fill="url(#gHole)"/><path transform="translate(1100.9 330.6) rotate(3.5)" d="M-14.1 3.4C-14.1 -6.8 -7.9 -11.3 0 -11.3C7.9 -11.3 14.1 -6.8 14.1 3.4C14.1 6.3 12.4 7 9.8 7L-9.8 7C-12.4 7 -14.1 6.3 -14.1 3.4Z" fill="url(#gHole)"/><path transform="translate(1099.8 741.2) rotate(-17.6)" d="M-8.9 2.2C-8.9 -4.4 -5 -7.4 0 -7.4C5 -7.4 8.9 -4.4 8.9 2.2C8.9 4.1 7.8 4.6 6.2 4.6L-6.2 4.6C-7.8 4.6 -8.9 4.1 -8.9 2.2Z" fill="url(#gHole)"/><path transform="translate(1066.2 680.5) rotate(8.6)" d="M-5.4 1.4C-5.4 -2.9 -3 -4.8 0 -4.8C3 -4.8 5.4 -2.9 5.4 1.4C5.4 2.7 4.8 3 3.8 3L-3.8 3C-4.8 3 -5.4 2.7 -5.4 1.4Z" fill="url(#gHole)"/><path transform="translate(1103.7 272.1) rotate(11.5)" d="M-10.8 2.8C-10.8 -5.6 -6 -9.4 0 -9.4C6 -9.4 10.8 -5.6 10.8 2.8C10.8 5.3 9.5 5.8 7.5 5.8L-7.5 5.8C-9.5 5.8 -10.8 5.3 -10.8 2.8Z" fill="url(#gHoleLt)"/><path transform="translate(951.9 721.1) rotate(-16.5)" d="M-14.3 3.3C-14.3 -6.5 -8 -10.9 0 -10.9C8 -10.9 14.3 -6.5 14.3 3.3C14.3 6.1 12.6 6.7 10 6.7L-10 6.7C-12.6 6.7 -14.3 6.1 -14.3 3.3Z" fill="url(#gHole)"/><path transform="translate(922 647) rotate(7.5)" d="M-7.4 1.8C-7.4 -3.5 -4.2 -5.8 0 -5.8C4.2 -5.8 7.4 -3.5 7.4 1.8C7.4 3.3 6.5 3.6 5.2 3.6L-5.2 3.6C-6.5 3.6 -7.4 3.3 -7.4 1.8Z" fill="url(#gHole)"/><path transform="translate(778.5 550.8) rotate(-9.7)" d="M-7.3 1.7C-7.3 -3.4 -4.1 -5.7 0 -5.7C4.1 -5.7 7.3 -3.4 7.3 1.7C7.3 3.2 6.5 3.5 5.1 3.5L-5.1 3.5C-6.5 3.5 -7.3 3.2 -7.3 1.7Z" fill="url(#gHole)"/><path transform="translate(835.8 708.5) rotate(-2.9)" d="M-9.5 2.2C-9.5 -4.3 -5.3 -7.2 0 -7.2C5.3 -7.2 9.5 -4.3 9.5 2.2C9.5 4 8.4 4.5 6.7 4.5L-6.7 4.5C-8.4 4.5 -9.5 4 -9.5 2.2Z" fill="url(#gHole)"/><path transform="translate(943.5 679.3) rotate(-2.3)" d="M-7.9 2.3C-7.9 -4.5 -4.4 -7.5 0 -7.5C4.4 -7.5 7.9 -4.5 7.9 2.3C7.9 4.2 6.9 4.7 5.5 4.7L-5.5 4.7C-6.9 4.7 -7.9 4.2 -7.9 2.3Z" fill="url(#gHole)"/><path transform="translate(1031.3 827.5) rotate(-11)" d="M-10.1 2.5C-10.1 -5.1 -5.7 -8.5 0 -8.5C5.7 -8.5 10.1 -5.1 10.1 2.5C10.1 4.7 8.9 5.2 7.1 5.2L-7.1 5.2C-8.9 5.2 -10.1 4.7 -10.1 2.5Z" fill="url(#gHole)"/><path transform="translate(1097.2 209.8) rotate(15.9)" d="M-10.3 2.6C-10.3 -5.2 -5.8 -8.7 0 -8.7C5.8 -8.7 10.3 -5.2 10.3 2.6C10.3 4.9 9.1 5.4 7.2 5.4L-7.2 5.4C-9.1 5.4 -10.3 4.9 -10.3 2.6Z" fill="url(#gHoleLt)"/><path transform="translate(1283.1 610.1) rotate(-12.5)" d="M-10.2 2.6C-10.2 -5.2 -5.7 -8.6 0 -8.6C5.7 -8.6 10.2 -5.2 10.2 2.6C10.2 4.8 9 5.4 7.1 5.4L-7.1 5.4C-9 5.4 -10.2 4.8 -10.2 2.6Z" fill="url(#gHole)"/><path transform="translate(1096.9 862) rotate(7.8)" d="M-10.3 2.8C-10.3 -5.5 -5.7 -9.2 0 -9.2C5.7 -9.2 10.3 -5.5 10.3 2.8C10.3 5.2 9 5.7 7.2 5.7L-7.2 5.7C-9 5.7 -10.3 5.2 -10.3 2.8Z" fill="url(#gHole)"/><path transform="translate(1259.5 658.4) rotate(1.5)" d="M-5.7 1.5C-5.7 -3 -3.2 -5 0 -5C3.2 -5 5.7 -3 5.7 1.5C5.7 2.8 5.1 3.1 4 3.1L-4 3.1C-5.1 3.1 -5.7 2.8 -5.7 1.5Z" fill="url(#gHole)"/><path transform="translate(893.3 5.4) rotate(-6)" d="M-13.7 3.9C-13.7 -7.9 -7.7 -13.1 0 -13.1C7.7 -13.1 13.7 -7.9 13.7 3.9C13.7 7.3 12 8.1 9.6 8.1L-9.6 8.1C-12 8.1 -13.7 7.3 -13.7 3.9Z" fill="url(#gHole)"/><path transform="translate(1172.2 416.1) rotate(-6)" d="M-12.7 3C-12.7 -6.1 -7.1 -10.1 0 -10.1C7.1 -10.1 12.7 -6.1 12.7 3C12.7 5.7 11.2 6.3 8.9 6.3L-8.9 6.3C-11.2 6.3 -12.7 5.7 -12.7 3Z" fill="url(#gHole)"/><path transform="translate(967.1 524.7) rotate(0.7)" d="M-14.7 3.6C-14.7 -7.2 -8.2 -12 0 -12C8.2 -12 14.7 -7.2 14.7 3.6C14.7 6.7 12.9 7.4 10.3 7.4L-10.3 7.4C-12.9 7.4 -14.7 6.7 -14.7 3.6Z" fill="url(#gHole)"/><path transform="translate(993.1 694.6) rotate(1.7)" d="M-11.2 2.5C-11.2 -5 -6.3 -8.4 0 -8.4C6.3 -8.4 11.2 -5 11.2 2.5C11.2 4.7 9.9 5.2 7.9 5.2L-7.9 5.2C-9.9 5.2 -11.2 4.7 -11.2 2.5Z" fill="url(#gHole)"/><path transform="translate(864.5 628) rotate(9.8)" d="M-12 2.6C-12 -5.3 -6.7 -8.8 0 -8.8C6.7 -8.8 12 -5.3 12 2.6C12 4.9 10.6 5.4 8.4 5.4L-8.4 5.4C-10.6 5.4 -12 4.9 -12 2.6Z" fill="url(#gHole)"/><path transform="translate(1284.5 689) rotate(-3.6)" d="M-12.3 3.1C-12.3 -6.1 -6.9 -10.2 0 -10.2C6.9 -10.2 12.3 -6.1 12.3 3.1C12.3 5.7 10.8 6.3 8.6 6.3L-8.6 6.3C-10.8 6.3 -12.3 5.7 -12.3 3.1Z" fill="url(#gHole)"/><path transform="translate(1144.4 707.2) rotate(16.2)" d="M-9.4 2.4C-9.4 -4.9 -5.3 -8.1 0 -8.1C5.3 -8.1 9.4 -4.9 9.4 2.4C9.4 4.5 8.3 5 6.6 5L-6.6 5C-8.3 5 -9.4 4.5 -9.4 2.4Z" fill="url(#gHole)"/><path transform="translate(1177.6 676.5) rotate(11.9)" d="M-5.1 1.5C-5.1 -3 -2.9 -4.9 0 -4.9C2.9 -4.9 5.1 -3 5.1 1.5C5.1 2.8 4.5 3.1 3.6 3.1L-3.6 3.1C-4.5 3.1 -5.1 2.8 -5.1 1.5Z" fill="url(#gHole)"/><path transform="translate(974.7 665.6) rotate(12.3)" d="M-12.1 2.8C-12.1 -5.7 -6.8 -9.4 0 -9.4C6.8 -9.4 12.1 -5.7 12.1 2.8C12.1 5.3 10.7 5.9 8.5 5.9L-8.5 5.9C-10.7 5.9 -12.1 5.3 -12.1 2.8Z" fill="url(#gHole)"/><path transform="translate(1134.2 575.6) rotate(-10)" d="M-10.7 2.7C-10.7 -5.5 -6 -9.2 0 -9.2C6 -9.2 10.7 -5.5 10.7 2.7C10.7 5.1 9.4 5.7 7.5 5.7L-7.5 5.7C-9.4 5.7 -10.7 5.1 -10.7 2.7Z" fill="url(#gHole)"/><path transform="translate(910.7 491.2) rotate(-8.1)" d="M-9.1 2.2C-9.1 -4.4 -5.1 -7.4 0 -7.4C5.1 -7.4 9.1 -4.4 9.1 2.2C9.1 4.1 8.1 4.6 6.4 4.6L-6.4 4.6C-8.1 4.6 -9.1 4.1 -9.1 2.2Z" fill="url(#gHole)"/><path transform="translate(1092.8 518.5) rotate(-9.7)" d="M-9 2.1C-9 -4.3 -5 -7.1 0 -7.1C5 -7.1 9 -4.3 9 2.1C9 4 7.9 4.4 6.3 4.4L-6.3 4.4C-7.9 4.4 -9 4 -9 2.1Z" fill="url(#gHole)"/><path transform="translate(1087.8 659.8) rotate(-9.2)" d="M-8.5 2.2C-8.5 -4.4 -4.8 -7.3 0 -7.3C4.8 -7.3 8.5 -4.4 8.5 2.2C8.5 4.1 7.5 4.5 6 4.5L-6 4.5C-7.5 4.5 -8.5 4.1 -8.5 2.2Z" fill="url(#gHole)"/><path transform="translate(1011.4 504.1) rotate(-5.7)" d="M-11.5 2.5C-11.5 -5 -6.4 -8.3 0 -8.3C6.4 -8.3 11.5 -5 11.5 2.5C11.5 4.7 10.1 5.2 8.1 5.2L-8.1 5.2C-10.1 5.2 -11.5 4.7 -11.5 2.5Z" fill="url(#gHole)"/><path transform="translate(1135.9 838) rotate(-8.1)" d="M-11.8 2.9C-11.8 -5.8 -6.6 -9.7 0 -9.7C6.6 -9.7 11.8 -5.8 11.8 2.9C11.8 5.4 10.4 6 8.3 6L-8.3 6C-10.4 6 -11.8 5.4 -11.8 2.9Z" fill="url(#gHole)"/><path transform="translate(1217.1 706.8) rotate(14.8)" d="M-14.6 3.2C-14.6 -6.3 -8.2 -10.5 0 -10.5C8.2 -10.5 14.6 -6.3 14.6 3.2C14.6 5.9 12.9 6.5 10.2 6.5L-10.2 6.5C-12.9 6.5 -14.6 5.9 -14.6 3.2Z" fill="url(#gHole)"/><path transform="translate(1188.9 640.8) rotate(-14.1)" d="M-9.5 2.2C-9.5 -4.3 -5.3 -7.2 0 -7.2C5.3 -7.2 9.5 -4.3 9.5 2.2C9.5 4 8.4 4.5 6.6 4.5L-6.6 4.5C-8.4 4.5 -9.5 4 -9.5 2.2Z" fill="url(#gHole)"/><path transform="translate(1299.3 644.1) rotate(-1.8)" d="M-5.6 1.4C-5.6 -2.8 -3.1 -4.6 0 -4.6C3.1 -4.6 5.6 -2.8 5.6 1.4C5.6 2.6 4.9 2.9 3.9 2.9L-3.9 2.9C-4.9 2.9 -5.6 2.6 -5.6 1.4Z" fill="url(#gHole)"/><path transform="translate(1252.3 616.4) rotate(4.7)" d="M-14 3.4C-14 -6.8 -7.8 -11.3 0 -11.3C7.8 -11.3 14 -6.8 14 3.4C14 6.3 12.3 7 9.8 7L-9.8 7C-12.3 7 -14 6.3 -14 3.4Z" fill="url(#gHole)"/><path transform="translate(1224.3 546.1) rotate(-11.2)" d="M-10.7 2.6C-10.7 -5.1 -6 -8.6 0 -8.6C6 -8.6 10.7 -5.1 10.7 2.6C10.7 4.8 9.4 5.3 7.5 5.3L-7.5 5.3C-9.4 5.3 -10.7 4.8 -10.7 2.6Z" fill="url(#gHole)"/><path transform="translate(1202.5 323.8) rotate(4.8)" d="M-9 2.4C-9 -4.8 -5 -8 0 -8C5 -8 9 -4.8 9 2.4C9 4.5 7.9 5 6.3 5L-6.3 5C-7.9 5 -9 4.5 -9 2.4Z" fill="url(#gHoleLt)"/><path transform="translate(1182.7 703.7) rotate(12)" d="M-11.1 2.8C-11.1 -5.6 -6.2 -9.4 0 -9.4C6.2 -9.4 11.1 -5.6 11.1 2.8C11.1 5.3 9.8 5.8 7.8 5.8L-7.8 5.8C-9.8 5.8 -11.1 5.3 -11.1 2.8Z" fill="url(#gHole)"/><path transform="translate(1175.1 838.2) rotate(-2.2)" d="M-8.3 2.3C-8.3 -4.5 -4.7 -7.5 0 -7.5C4.7 -7.5 8.3 -4.5 8.3 2.3C8.3 4.2 7.3 4.7 5.8 4.7L-5.8 4.7C-7.3 4.7 -8.3 4.2 -8.3 2.3Z" fill="url(#gHole)"/><path transform="translate(858.7 783) rotate(-1.8)" d="M-14 3.4C-14 -6.8 -7.8 -11.4 0 -11.4C7.8 -11.4 14 -6.8 14 3.4C14 6.4 12.3 7.1 9.8 7.1L-9.8 7.1C-12.3 7.1 -14 6.4 -14 3.4Z" fill="url(#gHole)"/><path transform="translate(824 678.2) rotate(-11.2)" d="M-9.8 2.5C-9.8 -5 -5.5 -8.3 0 -8.3C5.5 -8.3 9.8 -5 9.8 2.5C9.8 4.7 8.6 5.2 6.8 5.2L-6.8 5.2C-8.6 5.2 -9.8 4.7 -9.8 2.5Z" fill="url(#gHole)"/><path transform="translate(823 608.3) rotate(-5.2)" d="M-5.6 1.5C-5.6 -3 -3.1 -4.9 0 -4.9C3.1 -4.9 5.6 -3 5.6 1.5C5.6 2.8 4.9 3.1 3.9 3.1L-3.9 3.1C-4.9 3.1 -5.6 2.8 -5.6 1.5Z" fill="url(#gHole)"/><path transform="translate(1001.8 799.8) rotate(-15.7)" d="M-13.2 3.2C-13.2 -6.3 -7.4 -10.5 0 -10.5C7.4 -10.5 13.2 -6.3 13.2 3.2C13.2 5.9 11.7 6.5 9.3 6.5L-9.3 6.5C-11.7 6.5 -13.2 5.9 -13.2 3.2Z" fill="url(#gHole)"/><path transform="translate(1222.7 471.6) rotate(9.8)" d="M-8.9 2.2C-8.9 -4.4 -5 -7.4 0 -7.4C5 -7.4 8.9 -4.4 8.9 2.2C8.9 4.2 7.8 4.6 6.2 4.6L-6.2 4.6C-7.8 4.6 -8.9 4.2 -8.9 2.2Z" fill="url(#gHole)"/><path transform="translate(879.4 298.2) rotate(4.4)" d="M-12.9 3.1C-12.9 -6.2 -7.2 -10.3 0 -10.3C7.2 -10.3 12.9 -6.2 12.9 3.1C12.9 5.7 11.4 6.4 9.1 6.4L-9.1 6.4C-11.4 6.4 -12.9 5.7 -12.9 3.1Z" fill="url(#gHole)"/><path transform="translate(1040.1 861.9) rotate(-12)" d="M-11.2 2.7C-11.2 -5.4 -6.3 -9 0 -9C6.3 -9 11.2 -5.4 11.2 2.7C11.2 5 9.9 5.6 7.8 5.6L-7.8 5.6C-9.9 5.6 -11.2 5 -11.2 2.7Z" fill="url(#gHole)"/><path transform="translate(984.8 567.6) rotate(15.8)" d="M-10.4 2.5C-10.4 -4.9 -5.8 -8.2 0 -8.2C5.8 -8.2 10.4 -4.9 10.4 2.5C10.4 4.6 9.2 5.1 7.3 5.1L-7.3 5.1C-9.2 5.1 -10.4 4.6 -10.4 2.5Z" fill="url(#gHole)"/><path transform="translate(1127.6 122) rotate(-7.5)" d="M-10.7 2.5C-10.7 -4.9 -6 -8.2 0 -8.2C6 -8.2 10.7 -4.9 10.7 2.5C10.7 4.6 9.5 5.1 7.5 5.1L-7.5 5.1C-9.5 5.1 -10.7 4.6 -10.7 2.5Z" fill="url(#gHoleLt)"/><path transform="translate(1233 738.2) rotate(8.8)" d="M-11.3 2.8C-11.3 -5.6 -6.3 -9.3 0 -9.3C6.3 -9.3 11.3 -5.6 11.3 2.8C11.3 5.2 9.9 5.8 7.9 5.8L-7.9 5.8C-9.9 5.8 -11.3 5.2 -11.3 2.8Z" fill="url(#gHole)"/><path transform="translate(849.2 376.2) rotate(-15.3)" d="M-11.2 2.8C-11.2 -5.5 -6.3 -9.2 0 -9.2C6.3 -9.2 11.2 -5.5 11.2 2.8C11.2 5.1 9.8 5.7 7.8 5.7L-7.8 5.7C-9.8 5.7 -11.2 5.1 -11.2 2.8Z" fill="url(#gHole)"/><path transform="translate(939.1 474.8) rotate(-3.5)" d="M-7.7 1.8C-7.7 -3.6 -4.3 -6 0 -6C4.3 -6 7.7 -3.6 7.7 1.8C7.7 3.4 6.8 3.7 5.4 3.7L-5.4 3.7C-6.8 3.7 -7.7 3.4 -7.7 1.8Z" fill="url(#gHole)"/><path transform="translate(1089 126.5) rotate(-8)" d="M-15.3 3.6C-15.3 -7.3 -8.6 -12.1 0 -12.1C8.6 -12.1 15.3 -7.3 15.3 3.6C15.3 6.8 13.5 7.5 10.7 7.5L-10.7 7.5C-13.5 7.5 -15.3 6.8 -15.3 3.6Z" fill="url(#gHoleLt)"/><path transform="translate(1183.6 21) rotate(12.1)" d="M-13.8 3.6C-13.8 -7.2 -7.7 -12 0 -12C7.7 -12 13.8 -7.2 13.8 3.6C13.8 6.7 12.1 7.4 9.6 7.4L-9.6 7.4C-12.1 7.4 -13.8 6.7 -13.8 3.6Z" fill="url(#gHoleLt)"/><path transform="translate(1092.9 384.8) rotate(13.5)" d="M-10.5 2.4C-10.5 -4.9 -5.9 -8.1 0 -8.1C5.9 -8.1 10.5 -4.9 10.5 2.4C10.5 4.5 9.3 5 7.4 5L-7.4 5C-9.3 5 -10.5 4.5 -10.5 2.4Z" fill="url(#gHole)"/><path transform="translate(1168.2 494.9) rotate(-1.1)" d="M-9.7 2.2C-9.7 -4.3 -5.5 -7.2 0 -7.2C5.5 -7.2 9.7 -4.3 9.7 2.2C9.7 4 8.6 4.5 6.8 4.5L-6.8 4.5C-8.6 4.5 -9.7 4 -9.7 2.2Z" fill="url(#gHole)"/><path transform="translate(1191.4 438) rotate(7.9)" d="M-9.4 2.1C-9.4 -4.2 -5.2 -6.9 0 -6.9C5.2 -6.9 9.4 -4.2 9.4 2.1C9.4 3.9 8.2 4.3 6.5 4.3L-6.5 4.3C-8.2 4.3 -9.4 3.9 -9.4 2.1Z" fill="url(#gHole)"/><path transform="translate(997 872.7) rotate(-7.2)" d="M-8.6 2.1C-8.6 -4.1 -4.8 -6.9 0 -6.9C4.8 -6.9 8.6 -4.1 8.6 2.1C8.6 3.9 7.6 4.3 6 4.3L-6 4.3C-7.6 4.3 -8.6 3.9 -8.6 2.1Z" fill="url(#gHole)"/><path transform="translate(1233.4 428.9) rotate(6.8)" d="M-11.6 2.5C-11.6 -4.9 -6.5 -8.2 0 -8.2C6.5 -8.2 11.6 -4.9 11.6 2.5C11.6 4.6 10.2 5.1 8.1 5.1L-8.1 5.1C-10.2 5.1 -11.6 4.6 -11.6 2.5Z" fill="url(#gHole)"/><path transform="translate(1131.7 508.6) rotate(-4.1)" d="M-9.8 2.9C-9.8 -5.8 -5.5 -9.6 0 -9.6C5.5 -9.6 9.8 -5.8 9.8 2.9C9.8 5.4 8.6 6 6.9 6L-6.9 6C-8.6 6 -9.8 5.4 -9.8 2.9Z" fill="url(#gHole)"/><path transform="translate(1132.3 546.3) rotate(-0.8)" d="M-10.3 2.3C-10.3 -4.7 -5.8 -7.8 0 -7.8C5.8 -7.8 10.3 -4.7 10.3 2.3C10.3 4.4 9.1 4.8 7.2 4.8L-7.2 4.8C-9.1 4.8 -10.3 4.4 -10.3 2.3Z" fill="url(#gHole)"/><path transform="translate(939.2 796) rotate(4.6)" d="M-6.7 1.5C-6.7 -2.9 -3.8 -4.9 0 -4.9C3.8 -4.9 6.7 -2.9 6.7 1.5C6.7 2.7 5.9 3 4.7 3L-4.7 3C-5.9 3 -6.7 2.7 -6.7 1.5Z" fill="url(#gHole)"/><path transform="translate(1128.7 636.7) rotate(16.4)" d="M-10.4 2.4C-10.4 -4.9 -5.8 -8.1 0 -8.1C5.8 -8.1 10.4 -4.9 10.4 2.4C10.4 4.5 9.1 5 7.3 5L-7.3 5C-9.1 5 -10.4 4.5 -10.4 2.4Z" fill="url(#gHole)"/><path transform="translate(1089.8 25.9) rotate(12.1)" d="M-10.2 2.4C-10.2 -4.7 -5.7 -7.9 0 -7.9C5.7 -7.9 10.2 -4.7 10.2 2.4C10.2 4.4 9 4.9 7.2 4.9L-7.2 4.9C-9 4.9 -10.2 4.4 -10.2 2.4Z" fill="url(#gHoleLt)"/><path transform="translate(1128.3 751.8) rotate(5.7)" d="M-13.9 3.9C-13.9 -7.8 -7.8 -13.1 0 -13.1C7.8 -13.1 13.9 -7.8 13.9 3.9C13.9 7.3 12.3 8.1 9.7 8.1L-9.7 8.1C-12.3 8.1 -13.9 7.3 -13.9 3.9Z" fill="url(#gHole)"/><path transform="translate(1129.2 241.8) rotate(8.2)" d="M-10.1 2.5C-10.1 -5 -5.7 -8.3 0 -8.3C5.7 -8.3 10.1 -5 10.1 2.5C10.1 4.6 8.9 5.1 7.1 5.1L-7.1 5.1C-8.9 5.1 -10.1 4.6 -10.1 2.5Z" fill="url(#gHoleLt)"/><path transform="translate(869.9 60.5) rotate(11.3)" d="M-8.6 2C-8.6 -4.1 -4.8 -6.8 0 -6.8C4.8 -6.8 8.6 -4.1 8.6 2C8.6 3.8 7.6 4.2 6 4.2L-6 4.2C-7.6 4.2 -8.6 3.8 -8.6 2Z" fill="url(#gHole)"/><path transform="translate(764.2 676.6) rotate(-3.3)" d="M-10.3 2.7C-10.3 -5.4 -5.8 -9 0 -9C5.8 -9 10.3 -5.4 10.3 2.7C10.3 5.1 9 5.6 7.2 5.6L-7.2 5.6C-9 5.6 -10.3 5.1 -10.3 2.7Z" fill="url(#gHole)"/><path transform="translate(1169.5 358.5) rotate(15)" d="M-8.4 2.2C-8.4 -4.4 -4.7 -7.3 0 -7.3C4.7 -7.3 8.4 -4.4 8.4 2.2C8.4 4.1 7.4 4.6 5.9 4.6L-5.9 4.6C-7.4 4.6 -8.4 4.1 -8.4 2.2Z" fill="url(#gHole)"/><path transform="translate(891.5 91.4) rotate(-16.7)" d="M-9.8 2.2C-9.8 -4.4 -5.5 -7.3 0 -7.3C5.5 -7.3 9.8 -4.4 9.8 2.2C9.8 4.1 8.6 4.5 6.9 4.5L-6.9 4.5C-8.6 4.5 -9.8 4.1 -9.8 2.2Z" fill="url(#gHole)"/><path transform="translate(1109.1 175.1) rotate(3.7)" d="M-8.5 2C-8.5 -4 -4.8 -6.7 0 -6.7C4.8 -6.7 8.5 -4 8.5 2C8.5 3.7 7.5 4.1 6 4.1L-6 4.1C-7.5 4.1 -8.5 3.7 -8.5 2Z" fill="url(#gHoleLt)"/><path transform="translate(945.2 759.3) rotate(12.9)" d="M-14.3 3.2C-14.3 -6.5 -8 -10.8 0 -10.8C8 -10.8 14.3 -6.5 14.3 3.2C14.3 6.1 12.6 6.7 10 6.7L-10 6.7C-12.6 6.7 -14.3 6.1 -14.3 3.2Z" fill="url(#gHole)"/><path transform="translate(1256.1 547.3) rotate(-3.7)" d="M-11.8 2.5C-11.8 -5.1 -6.6 -8.5 0 -8.5C6.6 -8.5 11.8 -5.1 11.8 2.5C11.8 4.7 10.4 5.2 8.3 5.2L-8.3 5.2C-10.4 5.2 -11.8 4.7 -11.8 2.5Z" fill="url(#gHole)"/><path transform="translate(858.3 817.4) rotate(-13.3)" d="M-11.1 2.7C-11.1 -5.5 -6.2 -9.2 0 -9.2C6.2 -9.2 11.1 -5.5 11.1 2.7C11.1 5.1 9.8 5.7 7.8 5.7L-7.8 5.7C-9.8 5.7 -11.1 5.1 -11.1 2.7Z" fill="url(#gHole)"/><path transform="translate(1035.3 544.9) rotate(-17.8)" d="M-8.4 2.2C-8.4 -4.4 -4.7 -7.3 0 -7.3C4.7 -7.3 8.4 -4.4 8.4 2.2C8.4 4.1 7.4 4.6 5.9 4.6L-5.9 4.6C-7.4 4.6 -8.4 4.1 -8.4 2.2Z" fill="url(#gHole)"/><path transform="translate(1011.2 432.8) rotate(17.7)" d="M-9.1 2.7C-9.1 -5.4 -5.1 -9.1 0 -9.1C5.1 -9.1 9.1 -5.4 9.1 2.7C9.1 5.1 8 5.6 6.4 5.6L-6.4 5.6C-8 5.6 -9.1 5.1 -9.1 2.7Z" fill="url(#gHole)"/><path transform="translate(1159.1 646.2) rotate(-15.2)" d="M-7.1 1.9C-7.1 -3.8 -4 -6.4 0 -6.4C4 -6.4 7.1 -3.8 7.1 1.9C7.1 3.6 6.3 4 5 4L-5 4C-6.3 4 -7.1 3.6 -7.1 1.9Z" fill="url(#gHole)"/><path transform="translate(801.4 707.2) rotate(1.4)" d="M-12.3 3C-12.3 -6 -6.9 -10 0 -10C6.9 -10 12.3 -6 12.3 3C12.3 5.6 10.8 6.2 8.6 6.2L-8.6 6.2C-10.8 6.2 -12.3 5.6 -12.3 3Z" fill="url(#gHole)"/><path transform="translate(1254.2 685.2) rotate(-11.6)" d="M-9.4 2.5C-9.4 -4.9 -5.3 -8.2 0 -8.2C5.3 -8.2 9.4 -4.9 9.4 2.5C9.4 4.6 8.3 5.1 6.6 5.1L-6.6 5.1C-8.3 5.1 -9.4 4.6 -9.4 2.5Z" fill="url(#gHole)"/><path transform="translate(889.9 378.2) rotate(3.1)" d="M-13.4 3.6C-13.4 -7.3 -7.5 -12.1 0 -12.1C7.5 -12.1 13.4 -7.3 13.4 3.6C13.4 6.8 11.8 7.5 9.4 7.5L-9.4 7.5C-11.8 7.5 -13.4 6.8 -13.4 3.6Z" fill="url(#gHole)"/><path transform="translate(1156.7 782.3) rotate(11.1)" d="M-10.7 3.1C-10.7 -6.2 -6 -10.3 0 -10.3C6 -10.3 10.7 -6.2 10.7 3.1C10.7 5.8 9.4 6.4 7.5 6.4L-7.5 6.4C-9.4 6.4 -10.7 5.8 -10.7 3.1Z" fill="url(#gHole)"/><path transform="translate(1189.7 91.1) rotate(8.3)" d="M-8 2C-8 -4 -4.5 -6.6 0 -6.6C4.5 -6.6 8 -4 8 2C8 3.7 7 4.1 5.6 4.1L-5.6 4.1C-7 4.1 -8 3.7 -8 2Z" fill="url(#gHoleLt)"/><path transform="translate(1262.8 765.3) rotate(-16)" d="M-9.1 2.3C-9.1 -4.7 -5.1 -7.8 0 -7.8C5.1 -7.8 9.1 -4.7 9.1 2.3C9.1 4.3 8.1 4.8 6.4 4.8L-6.4 4.8C-8.1 4.8 -9.1 4.3 -9.1 2.3Z" fill="url(#gHole)"/><path transform="translate(1162.5 315.8) rotate(-13.9)" d="M-13.6 3.1C-13.6 -6.2 -7.6 -10.4 0 -10.4C7.6 -10.4 13.6 -6.2 13.6 3.1C13.6 5.8 11.9 6.4 9.5 6.4L-9.5 6.4C-11.9 6.4 -13.6 5.8 -13.6 3.1Z" fill="url(#gHoleLt)"/><path transform="translate(1250.7 461.6) rotate(-2.2)" d="M-11.1 2.9C-11.1 -5.7 -6.2 -9.6 0 -9.6C6.2 -9.6 11.1 -5.7 11.1 2.9C11.1 5.3 9.7 5.9 7.7 5.9L-7.7 5.9C-9.7 5.9 -11.1 5.3 -11.1 2.9Z" fill="url(#gHole)"/><path transform="translate(981.6 759.3) rotate(-15)" d="M-7.1 1.8C-7.1 -3.6 -4 -6 0 -6C4 -6 7.1 -3.6 7.1 1.8C7.1 3.4 6.3 3.7 5 3.7L-5 3.7C-6.3 3.7 -7.1 3.4 -7.1 1.8Z" fill="url(#gHole)"/><path transform="translate(917.5 529.1) rotate(13.5)" d="M-14.6 3.4C-14.6 -6.9 -8.2 -11.4 0 -11.4C8.2 -11.4 14.6 -6.9 14.6 3.4C14.6 6.4 12.8 7.1 10.2 7.1L-10.2 7.1C-12.8 7.1 -14.6 6.4 -14.6 3.4Z" fill="url(#gHole)"/><path transform="translate(945.7 501) rotate(-9.3)" d="M-8.7 2.5C-8.7 -4.9 -4.9 -8.2 0 -8.2C4.9 -8.2 8.7 -4.9 8.7 2.5C8.7 4.6 7.7 5.1 6.1 5.1L-6.1 5.1C-7.7 5.1 -8.7 4.6 -8.7 2.5Z" fill="url(#gHole)"/><path transform="translate(1033.9 707.2) rotate(-13.9)" d="M-10.3 2.5C-10.3 -4.9 -5.8 -8.2 0 -8.2C5.8 -8.2 10.3 -4.9 10.3 2.5C10.3 4.6 9.1 5.1 7.2 5.1L-7.2 5.1C-9.1 5.1 -10.3 4.6 -10.3 2.5Z" fill="url(#gHole)"/><path transform="translate(911.3 714.9) rotate(-16.2)" d="M-9 2C-9 -3.9 -5 -6.5 0 -6.5C5 -6.5 9 -3.9 9 2C9 3.7 7.9 4.1 6.3 4.1L-6.3 4.1C-7.9 4.1 -9 3.7 -9 2Z" fill="url(#gHole)"/><path transform="translate(1200 566.7) rotate(16.5)" d="M-10.2 2.4C-10.2 -4.7 -5.7 -7.9 0 -7.9C5.7 -7.9 10.2 -4.7 10.2 2.4C10.2 4.4 9 4.9 7.1 4.9L-7.1 4.9C-9 4.9 -10.2 4.4 -10.2 2.4Z" fill="url(#gHole)"/><path transform="translate(807.2 537.2) rotate(3.6)" d="M-8.6 2.5C-8.6 -4.9 -4.8 -8.2 0 -8.2C4.8 -8.2 8.6 -4.9 8.6 2.5C8.6 4.6 7.6 5.1 6 5.1L-6 5.1C-7.6 5.1 -8.6 4.6 -8.6 2.5Z" fill="url(#gHole)"/><path transform="translate(1238.5 799.7) rotate(-5.6)" d="M-10.5 2.4C-10.5 -4.8 -5.9 -8 0 -8C5.9 -8 10.5 -4.8 10.5 2.4C10.5 4.5 9.3 5 7.4 5L-7.4 5C-9.3 5 -10.5 4.5 -10.5 2.4Z" fill="url(#gHole)"/><path transform="translate(1068.8 775.6) rotate(-9.5)" d="M-9.2 2.5C-9.2 -5 -5.1 -8.4 0 -8.4C5.1 -8.4 9.2 -5 9.2 2.5C9.2 4.7 8.1 5.2 6.4 5.2L-6.4 5.2C-8.1 5.2 -9.2 4.7 -9.2 2.5Z" fill="url(#gHole)"/><path transform="translate(1082.8 486.2) rotate(12.8)" d="M-11.1 2.8C-11.1 -5.5 -6.2 -9.2 0 -9.2C6.2 -9.2 11.1 -5.5 11.1 2.8C11.1 5.2 9.7 5.7 7.7 5.7L-7.7 5.7C-9.7 5.7 -11.1 5.2 -11.1 2.8Z" fill="url(#gHole)"/><path transform="translate(970.8 861.6) rotate(17.7)" d="M-9 2.5C-9 -4.9 -5 -8.2 0 -8.2C5 -8.2 9 -4.9 9 2.5C9 4.6 7.9 5.1 6.3 5.1L-6.3 5.1C-7.9 5.1 -9 4.6 -9 2.5Z" fill="url(#gHole)"/><path transform="translate(831.6 802.2) rotate(-14.1)" d="M-9 2.1C-9 -4.2 -5.1 -6.9 0 -6.9C5.1 -6.9 9 -4.2 9 2.1C9 3.9 7.9 4.3 6.3 4.3L-6.3 4.3C-7.9 4.3 -9 3.9 -9 2.1Z" fill="url(#gHole)"/><path transform="translate(772.2 638.7) rotate(-14.9)" d="M-13.9 3.4C-13.9 -6.7 -7.8 -11.2 0 -11.2C7.8 -11.2 13.9 -6.7 13.9 3.4C13.9 6.3 12.2 6.9 9.7 6.9L-9.7 6.9C-12.2 6.9 -13.9 6.3 -13.9 3.4Z" fill="url(#gHole)"/><path transform="translate(1156.2 733.4) rotate(6.5)" d="M-7.8 2.2C-7.8 -4.5 -4.4 -7.4 0 -7.4C4.4 -7.4 7.8 -4.5 7.8 2.2C7.8 4.2 6.9 4.6 5.5 4.6L-5.5 4.6C-6.9 4.6 -7.8 4.2 -7.8 2.2Z" fill="url(#gHole)"/><path transform="translate(1202.8 743.4) rotate(-1.5)" d="M-11 2.6C-11 -5.1 -6.2 -8.5 0 -8.5C6.2 -8.5 11 -5.1 11 2.6C11 4.8 9.7 5.3 7.7 5.3L-7.7 5.3C-9.7 5.3 -11 4.8 -11 2.6Z" fill="url(#gHole)"/><path transform="translate(965.9 789.2) rotate(12.3)" d="M-13 3.4C-13 -6.8 -7.3 -11.4 0 -11.4C7.3 -11.4 13 -6.8 13 3.4C13 6.4 11.4 7 9.1 7L-9.1 7C-11.4 7 -13 6.4 -13 3.4Z" fill="url(#gHole)"/><path transform="translate(1204.6 833.3) rotate(16.5)" d="M-6.4 1.7C-6.4 -3.3 -3.6 -5.6 0 -5.6C3.6 -5.6 6.4 -3.3 6.4 1.7C6.4 3.1 5.6 3.4 4.5 3.4L-4.5 3.4C-5.6 3.4 -6.4 3.1 -6.4 1.7Z" fill="url(#gHole)"/><path transform="translate(1074.5 245.5) rotate(-17.9)" d="M-8.6 2C-8.6 -4 -4.8 -6.7 0 -6.7C4.8 -6.7 8.6 -4 8.6 2C8.6 3.8 7.6 4.2 6 4.2L-6 4.2C-7.6 4.2 -8.6 3.8 -8.6 2Z" fill="url(#gHole)"/><path transform="translate(893 625.6) rotate(-14.4)" d="M-10 2.5C-10 -4.9 -5.6 -8.2 0 -8.2C5.6 -8.2 10 -4.9 10 2.5C10 4.6 8.8 5.1 7 5.1L-7 5.1C-8.8 5.1 -10 4.6 -10 2.5Z" fill="url(#gHole)"/><path transform="translate(1159.5 453.9) rotate(-1.6)" d="M-8.5 2.2C-8.5 -4.4 -4.7 -7.4 0 -7.4C4.7 -7.4 8.5 -4.4 8.5 2.2C8.5 4.1 7.5 4.6 5.9 4.6L-5.9 4.6C-7.5 4.6 -8.5 4.1 -8.5 2.2Z" fill="url(#gHole)"/><path transform="translate(1029.7 758.4) rotate(-7.6)" d="M-7.3 2C-7.3 -3.9 -4.1 -6.6 0 -6.6C4.1 -6.6 7.3 -3.9 7.3 2C7.3 3.7 6.4 4.1 5.1 4.1L-5.1 4.1C-6.4 4.1 -7.3 3.7 -7.3 2Z" fill="url(#gHole)"/><path transform="translate(1130.9 797.5) rotate(3)" d="M-10.1 2.6C-10.1 -5.1 -5.7 -8.5 0 -8.5C5.7 -8.5 10.1 -5.1 10.1 2.6C10.1 4.8 8.9 5.3 7.1 5.3L-7.1 5.3C-8.9 5.3 -10.1 4.8 -10.1 2.6Z" fill="url(#gHole)"/><path transform="translate(1166.9 575.8) rotate(6.4)" d="M-10.9 2.6C-10.9 -5.1 -6.1 -8.5 0 -8.5C6.1 -8.5 10.9 -5.1 10.9 2.6C10.9 4.8 9.6 5.3 7.6 5.3L-7.6 5.3C-9.6 5.3 -10.9 4.8 -10.9 2.6Z" fill="url(#gHole)"/><path transform="translate(777.9 726.8) rotate(13.3)" d="M-10.3 2.4C-10.3 -4.8 -5.8 -8 0 -8C5.8 -8 10.3 -4.8 10.3 2.4C10.3 4.5 9.1 5 7.2 5L-7.2 5C-9.1 5 -10.3 4.5 -10.3 2.4Z" fill="url(#gHole)"/><path transform="translate(1188.4 535.9) rotate(9.7)" d="M-7.2 1.9C-7.2 -3.8 -4 -6.3 0 -6.3C4 -6.3 7.2 -3.8 7.2 1.9C7.2 3.6 6.4 3.9 5.1 3.9L-5.1 3.9C-6.4 3.9 -7.2 3.6 -7.2 1.9Z" fill="url(#gHole)"/><path transform="translate(804.1 628.6) rotate(17.8)" d="M-7 1.9C-7 -3.8 -3.9 -6.3 0 -6.3C3.9 -6.3 7 -3.8 7 1.9C7 3.5 6.2 3.9 4.9 3.9L-4.9 3.9C-6.2 3.9 -7 3.5 -7 1.9Z" fill="url(#gHole)"/><path transform="translate(891.4 463.2) rotate(2.8)" d="M-5.4 1.4C-5.4 -2.7 -3 -4.6 0 -4.6C3 -4.6 5.4 -2.7 5.4 1.4C5.4 2.6 4.8 2.8 3.8 2.8L-3.8 2.8C-4.8 2.8 -5.4 2.6 -5.4 1.4Z" fill="url(#gHole)"/><path transform="translate(886.1 432.2) rotate(10.9)" d="M-5.8 1.5C-5.8 -2.9 -3.3 -4.9 0 -4.9C3.3 -4.9 5.8 -2.9 5.8 1.5C5.8 2.7 5.1 3 4.1 3L-4.1 3C-5.1 3 -5.8 2.7 -5.8 1.5Z" fill="url(#gHole)"/><path transform="translate(1059.5 839.4) rotate(-3.9)" d="M-5.3 1.4C-5.3 -2.8 -3 -4.7 0 -4.7C3 -4.7 5.3 -2.8 5.3 1.4C5.3 2.6 4.7 2.9 3.7 2.9L-3.7 2.9C-4.7 2.9 -5.3 2.6 -5.3 1.4Z" fill="url(#gHole)"/><path transform="translate(878.9 757.1) rotate(10.4)" d="M-8.8 2.1C-8.8 -4.3 -5 -7.1 0 -7.1C5 -7.1 8.8 -4.3 8.8 2.1C8.8 4 7.8 4.4 6.2 4.4L-6.2 4.4C-7.8 4.4 -8.8 4 -8.8 2.1Z" fill="url(#gHole)"/><path transform="translate(950.1 637.3) rotate(4.1)" d="M-10.3 2.3C-10.3 -4.6 -5.8 -7.6 0 -7.6C5.8 -7.6 10.3 -4.6 10.3 2.3C10.3 4.3 9.1 4.7 7.2 4.7L-7.2 4.7C-9.1 4.7 -10.3 4.3 -10.3 2.3Z" fill="url(#gHole)"/><path transform="translate(919.1 833.8) rotate(-1.1)" d="M-7.4 1.8C-7.4 -3.7 -4.2 -6.1 0 -6.1C4.2 -6.1 7.4 -3.7 7.4 1.8C7.4 3.4 6.5 3.8 5.2 3.8L-5.2 3.8C-6.5 3.8 -7.4 3.4 -7.4 1.8Z" fill="url(#gHole)"/><path transform="translate(986.4 492.3) rotate(17.8)" d="M-6 1.4C-6 -2.9 -3.3 -4.8 0 -4.8C3.3 -4.8 6 -2.9 6 1.4C6 2.7 5.2 3 4.2 3L-4.2 3C-5.2 3 -6 2.7 -6 1.4Z" fill="url(#gHole)"/><path transform="translate(1140.1 283.2) rotate(-6.9)" d="M-7.8 2.1C-7.8 -4.2 -4.4 -7 0 -7C4.4 -7 7.8 -4.2 7.8 2.1C7.8 3.9 6.9 4.3 5.5 4.3L-5.5 4.3C-6.9 4.3 -7.8 3.9 -7.8 2.1Z" fill="url(#gHoleLt)"/><path transform="translate(1064.3 543.5) rotate(17.5)" d="M-12.5 3.2C-12.5 -6.4 -7 -10.7 0 -10.7C7 -10.7 12.5 -6.4 12.5 3.2C12.5 6 11 6.6 8.8 6.6L-8.8 6.6C-11 6.6 -12.5 6 -12.5 3.2Z" fill="url(#gHole)"/><path transform="translate(995.7 537.8) rotate(6.3)" d="M-8.9 2.4C-8.9 -4.9 -5 -8.1 0 -8.1C5 -8.1 8.9 -4.9 8.9 2.4C8.9 4.6 7.8 5.1 6.2 5.1L-6.2 5.1C-7.8 5.1 -8.9 4.6 -8.9 2.4Z" fill="url(#gHole)"/><path transform="translate(966.2 159) rotate(13.2)" d="M-8.6 2C-8.6 -4 -4.8 -6.7 0 -6.7C4.8 -6.7 8.6 -4 8.6 2C8.6 3.7 7.5 4.1 6 4.1L-6 4.1C-7.5 4.1 -8.6 3.7 -8.6 2Z" fill="url(#gHole)"/><path transform="translate(1212.9 520.7) rotate(6.8)" d="M-9.2 2.6C-9.2 -5.3 -5.1 -8.8 0 -8.8C5.1 -8.8 9.2 -5.3 9.2 2.6C9.2 4.9 8.1 5.5 6.4 5.5L-6.4 5.5C-8.1 5.5 -9.2 4.9 -9.2 2.6Z" fill="url(#gHole)"/><path transform="translate(912.2 792.1) rotate(17.7)" d="M-9.1 2.4C-9.1 -4.9 -5.1 -8.1 0 -8.1C5.1 -8.1 9.1 -4.9 9.1 2.4C9.1 4.5 8 5 6.4 5L-6.4 5C-8 5 -9.1 4.5 -9.1 2.4Z" fill="url(#gHole)"/><path transform="translate(1115.4 713.9) rotate(6.3)" d="M-5.7 1.6C-5.7 -3.2 -3.2 -5.4 0 -5.4C3.2 -5.4 5.7 -3.2 5.7 1.6C5.7 3 5 3.3 4 3.3L-4 3.3C-5 3.3 -5.7 3 -5.7 1.6Z" fill="url(#gHole)"/><path transform="translate(878.7 651.5) rotate(12.7)" d="M-9.4 2.3C-9.4 -4.5 -5.3 -7.6 0 -7.6C5.3 -7.6 9.4 -4.5 9.4 2.3C9.4 4.2 8.3 4.7 6.6 4.7L-6.6 4.7C-8.3 4.7 -9.4 4.2 -9.4 2.3Z" fill="url(#gHole)"/><path transform="translate(828.8 771.8) rotate(-4.7)" d="M-8.9 1.9C-8.9 -3.7 -5 -6.2 0 -6.2C5 -6.2 8.9 -3.7 8.9 1.9C8.9 3.5 7.9 3.9 6.2 3.9L-6.2 3.9C-7.9 3.9 -8.9 3.5 -8.9 1.9Z" fill="url(#gHole)"/><path transform="translate(904.4 247.2) rotate(-10.9)" d="M-14.4 3.7C-14.4 -7.4 -8.1 -12.3 0 -12.3C8.1 -12.3 14.4 -7.4 14.4 3.7C14.4 6.9 12.7 7.6 10.1 7.6L-10.1 7.6C-12.7 7.6 -14.4 6.9 -14.4 3.7Z" fill="url(#gHole)"/><path transform="translate(995.4 644.5) rotate(-3.8)" d="M-10.1 2.2C-10.1 -4.4 -5.7 -7.3 0 -7.3C5.7 -7.3 10.1 -4.4 10.1 2.2C10.1 4.1 8.9 4.6 7.1 4.6L-7.1 4.6C-8.9 4.6 -10.1 4.1 -10.1 2.2Z" fill="url(#gHole)"/><path transform="translate(918.8 405.3) rotate(5.1)" d="M-10.9 2.9C-10.9 -5.9 -6.1 -9.8 0 -9.8C6.1 -9.8 10.9 -5.9 10.9 2.9C10.9 5.5 9.6 6.1 7.6 6.1L-7.6 6.1C-9.6 6.1 -10.9 5.5 -10.9 2.9Z" fill="url(#gHole)"/><path transform="translate(1146.3 676.4) rotate(-0.6)" d="M-8.8 2.2C-8.8 -4.3 -4.9 -7.2 0 -7.2C4.9 -7.2 8.8 -4.3 8.8 2.2C8.8 4 7.8 4.5 6.2 4.5L-6.2 4.5C-7.8 4.5 -8.8 4 -8.8 2.2Z" fill="url(#gHole)"/><path transform="translate(837.8 564.1) rotate(3.2)" d="M-6.6 1.5C-6.6 -3 -3.7 -5 0 -5C3.7 -5 6.6 -3 6.6 1.5C6.6 2.8 5.8 3.1 4.6 3.1L-4.6 3.1C-5.8 3.1 -6.6 2.8 -6.6 1.5Z" fill="url(#gHole)"/><path transform="translate(1071.9 160.5) rotate(-8.5)" d="M-9.4 2.3C-9.4 -4.7 -5.3 -7.8 0 -7.8C5.3 -7.8 9.4 -4.7 9.4 2.3C9.4 4.4 8.3 4.8 6.6 4.8L-6.6 4.8C-8.3 4.8 -9.4 4.4 -9.4 2.3Z" fill="url(#gHole)"/><path transform="translate(1188.8 191.2) rotate(15.4)" d="M-12.5 2.9C-12.5 -5.9 -7 -9.8 0 -9.8C7 -9.8 12.5 -5.9 12.5 2.9C12.5 5.5 11 6.1 8.8 6.1L-8.8 6.1C-11 6.1 -12.5 5.5 -12.5 2.9Z" fill="url(#gHoleLt)"/><path transform="translate(1068.3 639.4) rotate(-6.7)" d="M-8.6 2.3C-8.6 -4.6 -4.8 -7.6 0 -7.6C4.8 -7.6 8.6 -4.6 8.6 2.3C8.6 4.2 7.5 4.7 6 4.7L-6 4.7C-7.5 4.7 -8.6 4.2 -8.6 2.3Z" fill="url(#gHole)"/><path transform="translate(1072.3 803.8) rotate(-5.1)" d="M-7.9 2C-7.9 -3.9 -4.4 -6.5 0 -6.5C4.4 -6.5 7.9 -3.9 7.9 2C7.9 3.7 6.9 4 5.5 4L-5.5 4C-6.9 4 -7.9 3.7 -7.9 2Z" fill="url(#gHole)"/><path transform="translate(871.3 122.9) rotate(4.2)" d="M-8.4 2.2C-8.4 -4.4 -4.7 -7.4 0 -7.4C4.7 -7.4 8.4 -4.4 8.4 2.2C8.4 4.1 7.4 4.6 5.9 4.6L-5.9 4.6C-7.4 4.6 -8.4 4.1 -8.4 2.2Z" fill="url(#gHole)"/><path transform="translate(1111.1 821.7) rotate(-14.1)" d="M-9.2 2.2C-9.2 -4.3 -5.2 -7.2 0 -7.2C5.2 -7.2 9.2 -4.3 9.2 2.2C9.2 4.1 8.1 4.5 6.5 4.5L-6.5 4.5C-8.1 4.5 -9.2 4.1 -9.2 2.2Z" fill="url(#gHole)"/><path transform="translate(1066.3 873.6) rotate(-10.3)" d="M-5.8 1.5C-5.8 -3 -3.3 -4.9 0 -4.9C3.3 -4.9 5.8 -3 5.8 1.5C5.8 2.8 5.1 3.1 4.1 3.1L-4.1 3.1C-5.1 3.1 -5.8 2.8 -5.8 1.5Z" fill="url(#gHole)"/><path transform="translate(1189.1 784.9) rotate(-10.8)" d="M-10.5 2.6C-10.5 -5.1 -5.9 -8.5 0 -8.5C5.9 -8.5 10.5 -5.1 10.5 2.6C10.5 4.8 9.2 5.3 7.3 5.3L-7.3 5.3C-9.2 5.3 -10.5 4.8 -10.5 2.6Z" fill="url(#gHole)"/><path transform="translate(800.8 460.4) rotate(2.1)" d="M-5.3 1.5C-5.3 -2.9 -2.9 -4.9 0 -4.9C2.9 -4.9 5.3 -2.9 5.3 1.5C5.3 2.7 4.6 3 3.7 3L-3.7 3C-4.6 3 -5.3 2.7 -5.3 1.5Z" fill="url(#gHole)"/><path transform="translate(1150.3 93.2) rotate(12.2)" d="M-9.2 2.6C-9.2 -5.2 -5.1 -8.7 0 -8.7C5.1 -8.7 9.2 -5.2 9.2 2.6C9.2 4.8 8.1 5.4 6.4 5.4L-6.4 5.4C-8.1 5.4 -9.2 4.8 -9.2 2.6Z" fill="url(#gHoleLt)"/><path transform="translate(882.7 1569.6) rotate(-15.1)" d="M-13.4 2.9C-13.4 -5.8 -7.5 -9.7 0 -9.7C7.5 -9.7 13.4 -5.8 13.4 2.9C13.4 5.4 11.8 6 9.4 6L-9.4 6C-11.8 6 -13.4 5.4 -13.4 2.9Z" fill="url(#gHole)"/><path transform="translate(858.8 1436.9) rotate(-3.8)" d="M-10 2.5C-10 -4.9 -5.6 -8.2 0 -8.2C5.6 -8.2 10 -4.9 10 2.5C10 4.6 8.8 5.1 7 5.1L-7 5.1C-8.8 5.1 -10 4.6 -10 2.5Z" fill="url(#gHole)"/><path transform="translate(960.3 1469.8) rotate(0.2)" d="M-7.7 1.8C-7.7 -3.7 -4.3 -6.1 0 -6.1C4.3 -6.1 7.7 -3.7 7.7 1.8C7.7 3.4 6.8 3.8 5.4 3.8L-5.4 3.8C-6.8 3.8 -7.7 3.4 -7.7 1.8Z" fill="url(#gHole)"/><path transform="translate(1029.9 1304.7) rotate(-11.8)" d="M-15.4 3.4C-15.4 -6.9 -8.6 -11.5 0 -11.5C8.6 -11.5 15.4 -6.9 15.4 3.4C15.4 6.4 13.6 7.1 10.8 7.1L-10.8 7.1C-13.6 7.1 -15.4 6.4 -15.4 3.4Z" fill="url(#gHole)"/><path transform="translate(1070.6 1295.9) rotate(-10.6)" d="M-8.5 2.1C-8.5 -4.2 -4.8 -6.9 0 -6.9C4.8 -6.9 8.5 -4.2 8.5 2.1C8.5 3.9 7.5 4.3 6 4.3L-6 4.3C-7.5 4.3 -8.5 3.9 -8.5 2.1Z" fill="url(#gHole)"/><path transform="translate(1155.4 1512.3) rotate(-13.7)" d="M-9.9 2.6C-9.9 -5.3 -5.5 -8.8 0 -8.8C5.5 -8.8 9.9 -5.3 9.9 2.6C9.9 4.9 8.7 5.5 6.9 5.5L-6.9 5.5C-8.7 5.5 -9.9 4.9 -9.9 2.6Z" fill="url(#gHole)"/><path transform="translate(1225.2 1450.1) rotate(-5.9)" d="M-11.9 2.6C-11.9 -5.2 -6.7 -8.7 0 -8.7C6.7 -8.7 11.9 -5.2 11.9 2.6C11.9 4.8 10.5 5.4 8.3 5.4L-8.3 5.4C-10.5 5.4 -11.9 4.8 -11.9 2.6Z" fill="url(#gHole)"/><path transform="translate(1163.6 1466) rotate(-1.7)" d="M-14.8 3.6C-14.8 -7.2 -8.3 -12 0 -12C8.3 -12 14.8 -7.2 14.8 3.6C14.8 6.7 13.1 7.4 10.4 7.4L-10.4 7.4C-13.1 7.4 -14.8 6.7 -14.8 3.6Z" fill="url(#gHole)"/><path transform="translate(1064.2 1444.7) rotate(-1.3)" d="M-7.7 1.8C-7.7 -3.7 -4.3 -6.1 0 -6.1C4.3 -6.1 7.7 -3.7 7.7 1.8C7.7 3.4 6.8 3.8 5.4 3.8L-5.4 3.8C-6.8 3.8 -7.7 3.4 -7.7 1.8Z" fill="url(#gHole)"/><path transform="translate(885.8 1258) rotate(-7.5)" d="M-5.7 1.5C-5.7 -3.1 -3.2 -5.1 0 -5.1C3.2 -5.1 5.7 -3.1 5.7 1.5C5.7 2.8 5 3.2 4 3.2L-4 3.2C-5 3.2 -5.7 2.8 -5.7 1.5Z" fill="url(#gHole)"/><path transform="translate(1129.1 1489) rotate(-4.9)" d="M-8.9 2.5C-8.9 -4.9 -5 -8.2 0 -8.2C5 -8.2 8.9 -4.9 8.9 2.5C8.9 4.6 7.8 5.1 6.2 5.1L-6.2 5.1C-7.8 5.1 -8.9 4.6 -8.9 2.5Z" fill="url(#gHole)"/><path transform="translate(1137.9 1281.7) rotate(17.9)" d="M-7.4 1.9C-7.4 -3.7 -4.1 -6.2 0 -6.2C4.1 -6.2 7.4 -3.7 7.4 1.9C7.4 3.5 6.5 3.9 5.2 3.9L-5.2 3.9C-6.5 3.9 -7.4 3.5 -7.4 1.9Z" fill="url(#gHole)"/><path transform="translate(918.4 1480.2) rotate(-8)" d="M-8.7 2.2C-8.7 -4.5 -4.9 -7.5 0 -7.5C4.9 -7.5 8.7 -4.5 8.7 2.2C8.7 4.2 7.7 4.6 6.1 4.6L-6.1 4.6C-7.7 4.6 -8.7 4.2 -8.7 2.2Z" fill="url(#gHole)"/><path transform="translate(1191.5 1426.8) rotate(-5)" d="M-6 1.6C-6 -3.2 -3.3 -5.3 0 -5.3C3.3 -5.3 6 -3.2 6 1.6C6 3 5.2 3.3 4.2 3.3L-4.2 3.3C-5.2 3.3 -6 3 -6 1.6Z" fill="url(#gHole)"/><path transform="translate(940.1 1745) rotate(9.1)" d="M-5.8 1.4C-5.8 -2.8 -3.2 -4.7 0 -4.7C3.2 -4.7 5.8 -2.8 5.8 1.4C5.8 2.6 5.1 2.9 4 2.9L-4 2.9C-5.1 2.9 -5.8 2.6 -5.8 1.4Z" fill="url(#gHole)"/><path transform="translate(1110.8 1566.9) rotate(-18)" d="M-9 2.2C-9 -4.5 -5.1 -7.4 0 -7.4C5.1 -7.4 9 -4.5 9 2.2C9 4.2 8 4.6 6.3 4.6L-6.3 4.6C-8 4.6 -9 4.2 -9 2.2Z" fill="url(#gHole)"/><path transform="translate(924 1608.7) rotate(13.9)" d="M-9.4 2.3C-9.4 -4.6 -5.3 -7.7 0 -7.7C5.3 -7.7 9.4 -4.6 9.4 2.3C9.4 4.3 8.3 4.8 6.6 4.8L-6.6 4.8C-8.3 4.8 -9.4 4.3 -9.4 2.3Z" fill="url(#gHole)"/><path transform="translate(1179.8 1223.3) rotate(17.9)" d="M-13.3 3.4C-13.3 -6.9 -7.4 -11.4 0 -11.4C7.4 -11.4 13.3 -6.9 13.3 3.4C13.3 6.4 11.7 7.1 9.3 7.1L-9.3 7.1C-11.7 7.1 -13.3 6.4 -13.3 3.4Z" fill="url(#gHole)"/><path transform="translate(999.9 1240.5) rotate(-14.4)" d="M-8.4 2.2C-8.4 -4.4 -4.7 -7.3 0 -7.3C4.7 -7.3 8.4 -4.4 8.4 2.2C8.4 4.1 7.4 4.5 5.9 4.5L-5.9 4.5C-7.4 4.5 -8.4 4.1 -8.4 2.2Z" fill="url(#gHole)"/><path transform="translate(1023.3 1514.9) rotate(-10.4)" d="M-10 2.6C-10 -5.2 -5.6 -8.6 0 -8.6C5.6 -8.6 10 -5.2 10 2.6C10 4.8 8.8 5.3 7 5.3L-7 5.3C-8.8 5.3 -10 4.8 -10 2.6Z" fill="url(#gHole)"/><path transform="translate(897.4 1646.6) rotate(2.6)" d="M-6.2 1.5C-6.2 -3.1 -3.5 -5.1 0 -5.1C3.5 -5.1 6.2 -3.1 6.2 1.5C6.2 2.9 5.5 3.2 4.3 3.2L-4.3 3.2C-5.5 3.2 -6.2 2.9 -6.2 1.5Z" fill="url(#gHole)"/><path transform="translate(1203.4 1324.7) rotate(-9.5)" d="M-10.6 2.4C-10.6 -4.7 -5.9 -7.9 0 -7.9C5.9 -7.9 10.6 -4.7 10.6 2.4C10.6 4.4 9.3 4.9 7.4 4.9L-7.4 4.9C-9.3 4.9 -10.6 4.4 -10.6 2.4Z" fill="url(#gHoleLt)"/><path transform="translate(1181.6 1587) rotate(-12.6)" d="M-10.5 3C-10.5 -6.1 -5.9 -10.1 0 -10.1C5.9 -10.1 10.5 -6.1 10.5 3C10.5 5.7 9.3 6.3 7.4 6.3L-7.4 6.3C-9.3 6.3 -10.5 5.7 -10.5 3Z" fill="url(#gHole)"/><path transform="translate(1209.9 1567.1) rotate(-6.1)" d="M-10.4 2.7C-10.4 -5.5 -5.8 -9.1 0 -9.1C5.8 -9.1 10.4 -5.5 10.4 2.7C10.4 5.1 9.1 5.6 7.3 5.6L-7.3 5.6C-9.1 5.6 -10.4 5.1 -10.4 2.7Z" fill="url(#gHole)"/><path transform="translate(991.1 1431.7) rotate(11.6)" d="M-10.9 2.6C-10.9 -5.2 -6.1 -8.6 0 -8.6C6.1 -8.6 10.9 -5.2 10.9 2.6C10.9 4.8 9.6 5.3 7.7 5.3L-7.7 5.3C-9.6 5.3 -10.9 4.8 -10.9 2.6Z" fill="url(#gHole)"/><path transform="translate(887.4 1694) rotate(11.9)" d="M-14.1 3.4C-14.1 -6.7 -7.9 -11.2 0 -11.2C7.9 -11.2 14.1 -6.7 14.1 3.4C14.1 6.3 12.4 6.9 9.9 6.9L-9.9 6.9C-12.4 6.9 -14.1 6.3 -14.1 3.4Z" fill="url(#gHole)"/><path transform="translate(1080.6 1422.9) rotate(7.1)" d="M-9.9 2.7C-9.9 -5.4 -5.5 -8.9 0 -8.9C5.5 -8.9 9.9 -5.4 9.9 2.7C9.9 5 8.7 5.5 6.9 5.5L-6.9 5.5C-8.7 5.5 -9.9 5 -9.9 2.7Z" fill="url(#gHole)"/><path transform="translate(915.8 1560.3) rotate(-0.4)" d="M-14 3.9C-14 -7.8 -7.8 -13.1 0 -13.1C7.8 -13.1 14 -7.8 14 3.9C14 7.3 12.3 8.1 9.8 8.1L-9.8 8.1C-12.3 8.1 -14 7.3 -14 3.9Z" fill="url(#gHole)"/><path transform="translate(873 1535.2) rotate(2.4)" d="M-6.4 1.4C-6.4 -2.9 -3.6 -4.8 0 -4.8C3.6 -4.8 6.4 -2.9 6.4 1.4C6.4 2.7 5.6 2.9 4.5 2.9L-4.5 2.9C-5.6 2.9 -6.4 2.7 -6.4 1.4Z" fill="url(#gHole)"/><path transform="translate(1211.2 1253.5) rotate(11.5)" d="M-6.2 1.5C-6.2 -3.1 -3.4 -5.1 0 -5.1C3.4 -5.1 6.2 -3.1 6.2 1.5C6.2 2.9 5.4 3.2 4.3 3.2L-4.3 3.2C-5.4 3.2 -6.2 2.9 -6.2 1.5Z" fill="url(#gHoleLt)"/><path transform="translate(1103.2 1723.1) rotate(3.8)" d="M-8.4 2.4C-8.4 -4.7 -4.7 -7.9 0 -7.9C4.7 -7.9 8.4 -4.7 8.4 2.4C8.4 4.4 7.4 4.9 5.9 4.9L-5.9 4.9C-7.4 4.9 -8.4 4.4 -8.4 2.4Z" fill="url(#gHole)"/><path transform="translate(1144.9 1333.2) rotate(-16.8)" d="M-8.1 1.8C-8.1 -3.7 -4.5 -6.1 0 -6.1C4.5 -6.1 8.1 -3.7 8.1 1.8C8.1 3.4 7.1 3.8 5.7 3.8L-5.7 3.8C-7.1 3.8 -8.1 3.4 -8.1 1.8Z" fill="url(#gHole)"/><path transform="translate(1165.9 1281.4) rotate(-10.3)" d="M-12.6 3.3C-12.6 -6.5 -7.1 -10.9 0 -10.9C7.1 -10.9 12.6 -6.5 12.6 3.3C12.6 6.1 11.1 6.7 8.8 6.7L-8.8 6.7C-11.1 6.7 -12.6 6.1 -12.6 3.3Z" fill="url(#gHole)"/><path transform="translate(1039.8 1365.3) rotate(-17.6)" d="M-10.9 2.8C-10.9 -5.6 -6.1 -9.4 0 -9.4C6.1 -9.4 10.9 -5.6 10.9 2.8C10.9 5.3 9.6 5.8 7.7 5.8L-7.7 5.8C-9.6 5.8 -10.9 5.3 -10.9 2.8Z" fill="url(#gHole)"/><path transform="translate(990.3 1268) rotate(-12.4)" d="M-11 2.6C-11 -5.2 -6.2 -8.6 0 -8.6C6.2 -8.6 11 -5.2 11 2.6C11 4.8 9.7 5.4 7.7 5.4L-7.7 5.4C-9.7 5.4 -11 4.8 -11 2.6Z" fill="url(#gHole)"/><path transform="translate(1175.7 1331.7) rotate(17.5)" d="M-9.8 2.5C-9.8 -5 -5.5 -8.3 0 -8.3C5.5 -8.3 9.8 -5 9.8 2.5C9.8 4.6 8.6 5.1 6.9 5.1L-6.9 5.1C-8.6 5.1 -9.8 4.6 -9.8 2.5Z" fill="url(#gHole)"/><path transform="translate(1157.8 1662.8) rotate(13.1)" d="M-15.5 3.8C-15.5 -7.6 -8.7 -12.7 0 -12.7C8.7 -12.7 15.5 -7.6 15.5 3.8C15.5 7.1 13.6 7.9 10.8 7.9L-10.8 7.9C-13.6 7.9 -15.5 7.1 -15.5 3.8Z" fill="url(#gHole)"/><path transform="translate(1249.7 1399) rotate(-7.1)" d="M-15.1 3.5C-15.1 -7 -8.5 -11.7 0 -11.7C8.5 -11.7 15.1 -7 15.1 3.5C15.1 6.5 13.3 7.2 10.6 7.2L-10.6 7.2C-13.3 7.2 -15.1 6.5 -15.1 3.5Z" fill="url(#gHole)"/><path transform="translate(1129.6 1520.7) rotate(-12.6)" d="M-7.4 1.9C-7.4 -3.7 -4.2 -6.2 0 -6.2C4.2 -6.2 7.4 -3.7 7.4 1.9C7.4 3.5 6.5 3.8 5.2 3.8L-5.2 3.8C-6.5 3.8 -7.4 3.5 -7.4 1.9Z" fill="url(#gHole)"/><path transform="translate(981.5 1529.1) rotate(-9)" d="M-8.6 2.3C-8.6 -4.7 -4.8 -7.8 0 -7.8C4.8 -7.8 8.6 -4.7 8.6 2.3C8.6 4.4 7.6 4.8 6 4.8L-6 4.8C-7.6 4.8 -8.6 4.4 -8.6 2.3Z" fill="url(#gHole)"/><path transform="translate(849.3 1249) rotate(1.7)" d="M-9.7 2.4C-9.7 -4.7 -5.4 -7.8 0 -7.8C5.4 -7.8 9.7 -4.7 9.7 2.4C9.7 4.4 8.6 4.9 6.8 4.9L-6.8 4.9C-8.6 4.9 -9.7 4.4 -9.7 2.4Z" fill="url(#gHole)"/><path transform="translate(1147.3 1564.7) rotate(12)" d="M-6 1.6C-6 -3.2 -3.4 -5.4 0 -5.4C3.4 -5.4 6 -3.2 6 1.6C6 3 5.3 3.3 4.2 3.3L-4.2 3.3C-5.3 3.3 -6 3 -6 1.6Z" fill="url(#gHole)"/><path transform="translate(991.2 1318.3) rotate(17.7)" d="M-9.4 2.3C-9.4 -4.6 -5.2 -7.7 0 -7.7C5.2 -7.7 9.4 -4.6 9.4 2.3C9.4 4.3 8.2 4.7 6.6 4.7L-6.6 4.7C-8.2 4.7 -9.4 4.3 -9.4 2.3Z" fill="url(#gHole)"/><path transform="translate(922.8 1515) rotate(5.6)" d="M-5.8 1.4C-5.8 -2.8 -3.2 -4.7 0 -4.7C3.2 -4.7 5.8 -2.8 5.8 1.4C5.8 2.6 5.1 2.9 4.1 2.9L-4.1 2.9C-5.1 2.9 -5.8 2.6 -5.8 1.4Z" fill="url(#gHole)"/><path transform="translate(972.6 1296.1) rotate(-15.7)" d="M-11 2.8C-11 -5.6 -6.2 -9.4 0 -9.4C6.2 -9.4 11 -5.6 11 2.8C11 5.2 9.7 5.8 7.7 5.8L-7.7 5.8C-9.7 5.8 -11 5.2 -11 2.8Z" fill="url(#gHole)"/><path transform="translate(905.7 1352.1) rotate(-0.6)" d="M-9.6 2.8C-9.6 -5.6 -5.4 -9.3 0 -9.3C5.4 -9.3 9.6 -5.6 9.6 2.8C9.6 5.2 8.4 5.7 6.7 5.7L-6.7 5.7C-8.4 5.7 -9.6 5.2 -9.6 2.8Z" fill="url(#gHole)"/><path transform="translate(1276.6 1278.8) rotate(-10.4)" d="M-11.6 2.8C-11.6 -5.5 -6.5 -9.2 0 -9.2C6.5 -9.2 11.6 -5.5 11.6 2.8C11.6 5.2 10.2 5.7 8.1 5.7L-8.1 5.7C-10.2 5.7 -11.6 5.2 -11.6 2.8Z" fill="url(#gHoleLt)"/><path transform="translate(789.6 1263) rotate(8)" d="M-12 2.9C-12 -5.9 -6.7 -9.8 0 -9.8C6.7 -9.8 12 -5.9 12 2.9C12 5.5 10.6 6 8.4 6L-8.4 6C-10.6 6 -12 5.5 -12 2.9Z" fill="url(#gHole)"/><path transform="translate(1093.3 1467.8) rotate(-14.9)" d="M-12.5 2.7C-12.5 -5.4 -7 -8.9 0 -8.9C7 -8.9 12.5 -5.4 12.5 2.7C12.5 5 11 5.5 8.7 5.5L-8.7 5.5C-11 5.5 -12.5 5 -12.5 2.7Z" fill="url(#gHole)"/><path transform="translate(1213.9 1410) rotate(6.8)" d="M-9.9 2.5C-9.9 -5 -5.5 -8.3 0 -8.3C5.5 -8.3 9.9 -5 9.9 2.5C9.9 4.7 8.7 5.2 6.9 5.2L-6.9 5.2C-8.7 5.2 -9.9 4.7 -9.9 2.5Z" fill="url(#gHole)"/><path transform="translate(1267 1229.7) rotate(1.5)" d="M-10.7 2.5C-10.7 -5 -6 -8.4 0 -8.4C6 -8.4 10.7 -5 10.7 2.5C10.7 4.7 9.4 5.2 7.5 5.2L-7.5 5.2C-9.4 5.2 -10.7 4.7 -10.7 2.5Z" fill="url(#gHoleLt)"/><path transform="translate(1135.8 1690.5) rotate(-9.5)" d="M-12.4 3.3C-12.4 -6.6 -6.9 -11.1 0 -11.1C6.9 -11.1 12.4 -6.6 12.4 3.3C12.4 6.2 10.9 6.9 8.7 6.9L-8.7 6.9C-10.9 6.9 -12.4 6.2 -12.4 3.3Z" fill="url(#gHole)"/><path transform="translate(937.5 1423.9) rotate(-10.8)" d="M-10.1 2.8C-10.1 -5.6 -5.7 -9.4 0 -9.4C5.7 -9.4 10.1 -5.6 10.1 2.8C10.1 5.2 8.9 5.8 7.1 5.8L-7.1 5.8C-8.9 5.8 -10.1 5.2 -10.1 2.8Z" fill="url(#gHole)"/><path transform="translate(948.2 1268) rotate(-9.1)" d="M-9.9 2.3C-9.9 -4.5 -5.5 -7.6 0 -7.6C5.5 -7.6 9.9 -4.5 9.9 2.3C9.9 4.2 8.7 4.7 6.9 4.7L-6.9 4.7C-8.7 4.7 -9.9 4.2 -9.9 2.3Z" fill="url(#gHole)"/><path transform="translate(804.9 1176.2) rotate(-1.4)" d="M-8.1 2.1C-8.1 -4.2 -4.6 -7 0 -7C4.6 -7 8.1 -4.2 8.1 2.1C8.1 3.9 7.2 4.3 5.7 4.3L-5.7 4.3C-7.2 4.3 -8.1 3.9 -8.1 2.1Z" fill="url(#gHole)"/><path transform="translate(1262.9 1334) rotate(10.6)" d="M-11.6 3C-11.6 -6.1 -6.5 -10.1 0 -10.1C6.5 -10.1 11.6 -6.1 11.6 3C11.6 5.6 10.2 6.3 8.1 6.3L-8.1 6.3C-10.2 6.3 -11.6 5.6 -11.6 3Z" fill="url(#gHole)"/><path transform="translate(890.5 1759.7) rotate(3.9)" d="M-8.8 2.4C-8.8 -4.7 -4.9 -7.9 0 -7.9C4.9 -7.9 8.8 -4.7 8.8 2.4C8.8 4.4 7.7 4.9 6.1 4.9L-6.1 4.9C-7.7 4.9 -8.8 4.4 -8.8 2.4Z" fill="url(#gHole)"/><path transform="translate(1166.1 1725.4) rotate(-11.1)" d="M-8.1 2.3C-8.1 -4.7 -4.5 -7.8 0 -7.8C4.5 -7.8 8.1 -4.7 8.1 2.3C8.1 4.4 7.1 4.8 5.6 4.8L-5.6 4.8C-7.1 4.8 -8.1 4.4 -8.1 2.3Z" fill="url(#gHole)"/><path transform="translate(1186.7 1648.8) rotate(14)" d="M-8.6 2C-8.6 -4.1 -4.8 -6.8 0 -6.8C4.8 -6.8 8.6 -4.1 8.6 2C8.6 3.8 7.6 4.2 6 4.2L-6 4.2C-7.6 4.2 -8.6 3.8 -8.6 2Z" fill="url(#gHole)"/><path transform="translate(1066 1535.9) rotate(-8.7)" d="M-12.1 3.1C-12.1 -6.2 -6.8 -10.3 0 -10.3C6.8 -10.3 12.1 -6.2 12.1 3.1C12.1 5.8 10.7 6.4 8.5 6.4L-8.5 6.4C-10.7 6.4 -12.1 5.8 -12.1 3.1Z" fill="url(#gHole)"/><path transform="translate(1111.7 1259) rotate(9.3)" d="M-12.8 3.2C-12.8 -6.5 -7.2 -10.8 0 -10.8C7.2 -10.8 12.8 -6.5 12.8 3.2C12.8 6.1 11.3 6.7 9 6.7L-9 6.7C-11.3 6.7 -12.8 6.1 -12.8 3.2Z" fill="url(#gHole)"/><path transform="translate(838.6 1340.2) rotate(-3.7)" d="M-10.3 2.9C-10.3 -5.7 -5.8 -9.5 0 -9.5C5.8 -9.5 10.3 -5.7 10.3 2.9C10.3 5.3 9.1 5.9 7.2 5.9L-7.2 5.9C-9.1 5.9 -10.3 5.3 -10.3 2.9Z" fill="url(#gHole)"/><path transform="translate(893.2 1612.8) rotate(-3.1)" d="M-8 2.2C-8 -4.4 -4.5 -7.3 0 -7.3C4.5 -7.3 8 -4.4 8 2.2C8 4.1 7.1 4.5 5.6 4.5L-5.6 4.5C-7.1 4.5 -8 4.1 -8 2.2Z" fill="url(#gHole)"/><path transform="translate(884.5 1200.3) rotate(-14)" d="M-12 3C-12 -6 -6.7 -10 0 -10C6.7 -10 12 -6 12 3C12 5.6 10.5 6.2 8.4 6.2L-8.4 6.2C-10.5 6.2 -12 5.6 -12 3Z" fill="url(#gHole)"/><path transform="translate(1143.8 1235.4) rotate(0.3)" d="M-14.8 3.4C-14.8 -6.9 -8.3 -11.4 0 -11.4C8.3 -11.4 14.8 -6.9 14.8 3.4C14.8 6.4 13 7.1 10.3 7.1L-10.3 7.1C-13 7.1 -14.8 6.4 -14.8 3.4Z" fill="url(#gHole)"/><path transform="translate(1100.2 1646.5) rotate(3.1)" d="M-9.9 2.5C-9.9 -5 -5.6 -8.3 0 -8.3C5.6 -8.3 9.9 -5 9.9 2.5C9.9 4.6 8.8 5.1 7 5.1L-7 5.1C-8.8 5.1 -9.9 4.6 -9.9 2.5Z" fill="url(#gHole)"/><path transform="translate(1225.2 1515.1) rotate(17.2)" d="M-5.9 1.5C-5.9 -3 -3.3 -5.1 0 -5.1C3.3 -5.1 5.9 -3 5.9 1.5C5.9 2.8 5.2 3.1 4.1 3.1L-4.1 3.1C-5.2 3.1 -5.9 2.8 -5.9 1.5Z" fill="url(#gHole)"/><path transform="translate(1219 1187.4) rotate(-14.4)" d="M-12.2 3C-12.2 -6 -6.8 -10 0 -10C6.8 -10 12.2 -6 12.2 3C12.2 5.6 10.7 6.2 8.5 6.2L-8.5 6.2C-10.7 6.2 -12.2 5.6 -12.2 3Z" fill="url(#gHoleLt)"/><path transform="translate(956.2 1540.5) rotate(2.9)" d="M-10.3 2.4C-10.3 -4.9 -5.8 -8.1 0 -8.1C5.8 -8.1 10.3 -4.9 10.3 2.4C10.3 4.6 9.1 5 7.2 5L-7.2 5C-9.1 5 -10.3 4.6 -10.3 2.4Z" fill="url(#gHole)"/><path transform="translate(1057.6 1475.6) rotate(10.9)" d="M-8.7 2C-8.7 -4.1 -4.9 -6.8 0 -6.8C4.9 -6.8 8.7 -4.1 8.7 2C8.7 3.8 7.7 4.2 6.1 4.2L-6.1 4.2C-7.7 4.2 -8.7 3.8 -8.7 2Z" fill="url(#gHole)"/><path transform="translate(999.5 1487.1) rotate(14.4)" d="M-13 2.9C-13 -5.8 -7.3 -9.7 0 -9.7C7.3 -9.7 13 -5.8 13 2.9C13 5.5 11.5 6 9.1 6L-9.1 6C-11.5 6 -13 5.5 -13 2.9Z" fill="url(#gHole)"/><path transform="translate(811.9 1283.6) rotate(0.6)" d="M-10.3 2.9C-10.3 -5.8 -5.7 -9.6 0 -9.6C5.7 -9.6 10.3 -5.8 10.3 2.9C10.3 5.4 9 6 7.2 6L-7.2 6C-9 6 -10.3 5.4 -10.3 2.9Z" fill="url(#gHole)"/><path transform="translate(836.4 1401.1) rotate(-3.6)" d="M-7.2 1.8C-7.2 -3.7 -4 -6.1 0 -6.1C4 -6.1 7.2 -3.7 7.2 1.8C7.2 3.4 6.3 3.8 5 3.8L-5 3.8C-6.3 3.8 -7.2 3.4 -7.2 1.8Z" fill="url(#gHole)"/><path transform="translate(1183.5 1691.9) rotate(7.3)" d="M-9.1 2.1C-9.1 -4.3 -5.1 -7.2 0 -7.2C5.1 -7.2 9.1 -4.3 9.1 2.1C9.1 4 8 4.4 6.4 4.4L-6.4 4.4C-8 4.4 -9.1 4 -9.1 2.1Z" fill="url(#gHole)"/><path transform="translate(1113.5 1338.7) rotate(-13.3)" d="M-14.2 3.1C-14.2 -6.2 -7.9 -10.3 0 -10.3C7.9 -10.3 14.2 -6.2 14.2 3.1C14.2 5.8 12.5 6.4 9.9 6.4L-9.9 6.4C-12.5 6.4 -14.2 5.8 -14.2 3.1Z" fill="url(#gHole)"/><path transform="translate(871.5 1322.2) rotate(2.4)" d="M-13.2 3.4C-13.2 -6.8 -7.4 -11.3 0 -11.3C7.4 -11.3 13.2 -6.8 13.2 3.4C13.2 6.3 11.6 7 9.2 7L-9.2 7C-11.6 7 -13.2 6.3 -13.2 3.4Z" fill="url(#gHole)"/><path transform="translate(1150.4 1598.4) rotate(2.9)" d="M-6.5 1.6C-6.5 -3.1 -3.6 -5.2 0 -5.2C3.6 -5.2 6.5 -3.1 6.5 1.6C6.5 2.9 5.7 3.2 4.6 3.2L-4.6 3.2C-5.7 3.2 -6.5 2.9 -6.5 1.6Z" fill="url(#gHole)"/><path transform="translate(809 1216.3) rotate(11.3)" d="M-10.8 2.5C-10.8 -4.9 -6 -8.2 0 -8.2C6 -8.2 10.8 -4.9 10.8 2.5C10.8 4.6 9.5 5.1 7.5 5.1L-7.5 5.1C-9.5 5.1 -10.8 4.6 -10.8 2.5Z" fill="url(#gHole)"/><path transform="translate(1214.8 1487) rotate(11.6)" d="M-14.8 3.7C-14.8 -7.4 -8.3 -12.3 0 -12.3C8.3 -12.3 14.8 -7.4 14.8 3.7C14.8 6.9 13 7.6 10.3 7.6L-10.3 7.6C-13 7.6 -14.8 6.9 -14.8 3.7Z" fill="url(#gHole)"/><path transform="translate(1226.3 1290.5) rotate(11.7)" d="M-15.4 3.5C-15.4 -7.1 -8.6 -11.8 0 -11.8C8.6 -11.8 15.4 -7.1 15.4 3.5C15.4 6.6 13.5 7.3 10.8 7.3L-10.8 7.3C-13.5 7.3 -15.4 6.6 -15.4 3.5Z" fill="url(#gHoleLt)"/><path transform="translate(1114 1750.2) rotate(-8.6)" d="M-11.1 3.1C-11.1 -6.1 -6.2 -10.2 0 -10.2C6.2 -10.2 11.1 -6.1 11.1 3.1C11.1 5.7 9.8 6.3 7.8 6.3L-7.8 6.3C-9.8 6.3 -11.1 5.7 -11.1 3.1Z" fill="url(#gHole)"/><path transform="translate(833.9 1197.1) rotate(-9.3)" d="M-10.9 2.7C-10.9 -5.4 -6.1 -9 0 -9C6.1 -9 10.9 -5.4 10.9 2.7C10.9 5 9.6 5.6 7.6 5.6L-7.6 5.6C-9.6 5.6 -10.9 5 -10.9 2.7Z" fill="url(#gHole)"/><path transform="translate(1084.7 1579.6) rotate(16.5)" d="M-10.3 2.8C-10.3 -5.7 -5.8 -9.5 0 -9.5C5.8 -9.5 10.3 -5.7 10.3 2.8C10.3 5.3 9.1 5.9 7.2 5.9L-7.2 5.9C-9.1 5.9 -10.3 5.3 -10.3 2.8Z" fill="url(#gHole)"/><path transform="translate(762.6 1208.1) rotate(-0.7)" d="M-5.3 1.5C-5.3 -3 -2.9 -5 0 -5C2.9 -5 5.3 -3 5.3 1.5C5.3 2.8 4.6 3.1 3.7 3.1L-3.7 3.1C-4.6 3.1 -5.3 2.8 -5.3 1.5Z" fill="url(#gHole)"/><path transform="translate(1077.8 1497) rotate(10.8)" d="M-9.5 2.7C-9.5 -5.4 -5.3 -9 0 -9C5.3 -9 9.5 -5.4 9.5 2.7C9.5 5.1 8.4 5.6 6.7 5.6L-6.7 5.6C-8.4 5.6 -9.5 5.1 -9.5 2.7Z" fill="url(#gHole)"/><path transform="translate(848.1 1287.5) rotate(8.8)" d="M-8.8 2.1C-8.8 -4.1 -4.9 -6.9 0 -6.9C4.9 -6.9 8.8 -4.1 8.8 2.1C8.8 3.9 7.8 4.3 6.2 4.3L-6.2 4.3C-7.8 4.3 -8.8 3.9 -8.8 2.1Z" fill="url(#gHole)"/><path transform="translate(846.9 1480.9) rotate(-17.5)" d="M-9.9 2.6C-9.9 -5.1 -5.5 -8.6 0 -8.6C5.5 -8.6 9.9 -5.1 9.9 2.6C9.9 4.8 8.7 5.3 6.9 5.3L-6.9 5.3C-8.7 5.3 -9.9 4.8 -9.9 2.6Z" fill="url(#gHole)"/><path transform="translate(803.8 1325.5) rotate(-12.6)" d="M-5.7 1.4C-5.7 -2.8 -3.2 -4.7 0 -4.7C3.2 -4.7 5.7 -2.8 5.7 1.4C5.7 2.6 5 2.9 4 2.9L-4 2.9C-5 2.9 -5.7 2.6 -5.7 1.4Z" fill="url(#gHole)"/><path transform="translate(954.4 1499.1) rotate(12.8)" d="M-5.4 1.4C-5.4 -2.9 -3 -4.8 0 -4.8C3 -4.8 5.4 -2.9 5.4 1.4C5.4 2.7 4.7 3 3.8 3L-3.8 3C-4.7 3 -5.4 2.7 -5.4 1.4Z" fill="url(#gHole)"/><path transform="translate(1007.7 1540.3) rotate(-11.9)" d="M-8.9 2.4C-8.9 -4.8 -5 -8 0 -8C5 -8 8.9 -4.8 8.9 2.4C8.9 4.5 7.8 4.9 6.2 4.9L-6.2 4.9C-7.8 4.9 -8.9 4.5 -8.9 2.4Z" fill="url(#gHole)"/><path transform="translate(887.7 1480.3) rotate(3.7)" d="M-8 1.9C-8 -3.8 -4.5 -6.4 0 -6.4C4.5 -6.4 8 -3.8 8 1.9C8 3.6 7.1 4 5.6 4L-5.6 4C-7.1 4 -8 3.6 -8 1.9Z" fill="url(#gHole)"/><path transform="translate(1099 1516.4) rotate(-5.2)" d="M-10.1 2.2C-10.1 -4.5 -5.6 -7.5 0 -7.5C5.6 -7.5 10.1 -4.5 10.1 2.2C10.1 4.2 8.9 4.6 7 4.6L-7 4.6C-8.9 4.6 -10.1 4.2 -10.1 2.2Z" fill="url(#gHole)"/><path transform="translate(996.3 1365.6) rotate(-1.8)" d="M-11.3 2.9C-11.3 -5.7 -6.4 -9.6 0 -9.6C6.4 -9.6 11.3 -5.7 11.3 2.9C11.3 5.4 10 5.9 7.9 5.9L-7.9 5.9C-10 5.9 -11.3 5.4 -11.3 2.9Z" fill="url(#gHole)"/><path transform="translate(955.7 1216.2) rotate(15.4)" d="M-10.8 3.1C-10.8 -6.2 -6.1 -10.3 0 -10.3C6.1 -10.3 10.8 -6.2 10.8 3.1C10.8 5.7 9.5 6.4 7.6 6.4L-7.6 6.4C-9.5 6.4 -10.8 5.7 -10.8 3.1Z" fill="url(#gHole)"/><path transform="translate(948.9 1576.1) rotate(-15.2)" d="M-10.9 2.6C-10.9 -5.2 -6.1 -8.7 0 -8.7C6.1 -8.7 10.9 -5.2 10.9 2.6C10.9 4.9 9.6 5.4 7.6 5.4L-7.6 5.4C-9.6 5.4 -10.9 4.9 -10.9 2.6Z" fill="url(#gHole)"/><path transform="translate(863 1619.4) rotate(4.4)" d="M-12.3 3.3C-12.3 -6.6 -6.9 -11.1 0 -11.1C6.9 -11.1 12.3 -6.6 12.3 3.3C12.3 6.2 10.8 6.9 8.6 6.9L-8.6 6.9C-10.8 6.9 -12.3 6.2 -12.3 3.3Z" fill="url(#gHole)"/><path transform="translate(935.9 1699.9) rotate(-5.4)" d="M-9.7 2.3C-9.7 -4.7 -5.4 -7.8 0 -7.8C5.4 -7.8 9.7 -4.7 9.7 2.3C9.7 4.4 8.5 4.8 6.8 4.8L-6.8 4.8C-8.5 4.8 -9.7 4.4 -9.7 2.3Z" fill="url(#gHole)"/><path transform="translate(896.4 1406.9) rotate(-13.7)" d="M-5.7 1.4C-5.7 -2.8 -3.2 -4.7 0 -4.7C3.2 -4.7 5.7 -2.8 5.7 1.4C5.7 2.6 5 2.9 4 2.9L-4 2.9C-5 2.9 -5.7 2.6 -5.7 1.4Z" fill="url(#gHole)"/><path transform="translate(966.4 1348.7) rotate(-17.6)" d="M-10.1 2.6C-10.1 -5.2 -5.7 -8.7 0 -8.7C5.7 -8.7 10.1 -5.2 10.1 2.6C10.1 4.9 8.9 5.4 7.1 5.4L-7.1 5.4C-8.9 5.4 -10.1 4.9 -10.1 2.6Z" fill="url(#gHole)"/><path transform="translate(773.6 1180.5) rotate(-15.7)" d="M-9 2.3C-9 -4.6 -5.1 -7.7 0 -7.7C5.1 -7.7 9 -4.6 9 2.3C9 4.3 8 4.8 6.3 4.8L-6.3 4.8C-8 4.8 -9 4.3 -9 2.3Z" fill="url(#gHole)"/><path transform="translate(1061.3 1329.9) rotate(-7.5)" d="M-13.4 3.3C-13.4 -6.5 -7.5 -10.9 0 -10.9C7.5 -10.9 13.4 -6.5 13.4 3.3C13.4 6.1 11.8 6.8 9.3 6.8L-9.3 6.8C-11.8 6.8 -13.4 6.1 -13.4 3.3Z" fill="url(#gHole)"/><path transform="translate(928.6 1307.9) rotate(16.8)" d="M-13.2 3.5C-13.2 -7.1 -7.4 -11.8 0 -11.8C7.4 -11.8 13.2 -7.1 13.2 3.5C13.2 6.6 11.7 7.3 9.3 7.3L-9.3 7.3C-11.7 7.3 -13.2 6.6 -13.2 3.5Z" fill="url(#gHole)"/><path transform="translate(815.3 1382.5) rotate(8.3)" d="M-11.2 2.6C-11.2 -5.1 -6.3 -8.6 0 -8.6C6.3 -8.6 11.2 -5.1 11.2 2.6C11.2 4.8 9.9 5.3 7.8 5.3L-7.8 5.3C-9.9 5.3 -11.2 4.8 -11.2 2.6Z" fill="url(#gHole)"/><path transform="translate(1083.7 1751.7) rotate(-2)" d="M-8.8 2.5C-8.8 -5 -4.9 -8.3 0 -8.3C4.9 -8.3 8.8 -5 8.8 2.5C8.8 4.6 7.8 5.1 6.2 5.1L-6.2 5.1C-7.8 5.1 -8.8 4.6 -8.8 2.5Z" fill="url(#gHole)"/><path transform="translate(895.4 1438.7) rotate(11.4)" d="M-12 3.3C-12 -6.5 -6.7 -10.8 0 -10.8C6.7 -10.8 12 -6.5 12 3.3C12 6.1 10.6 6.7 8.4 6.7L-8.4 6.7C-10.6 6.7 -12 6.1 -12 3.3Z" fill="url(#gHole)"/><path transform="translate(937.2 1663.4) rotate(14.5)" d="M-13.1 3.3C-13.1 -6.7 -7.3 -11.1 0 -11.1C7.3 -11.1 13.1 -6.7 13.1 3.3C13.1 6.2 11.5 6.9 9.1 6.9L-9.1 6.9C-11.5 6.9 -13.1 6.2 -13.1 3.3Z" fill="url(#gHole)"/><path transform="translate(868.4 1654.5) rotate(0.4)" d="M-11.3 2.7C-11.3 -5.3 -6.3 -8.8 0 -8.8C6.3 -8.8 11.3 -5.3 11.3 2.7C11.3 5 9.9 5.5 7.9 5.5L-7.9 5.5C-9.9 5.5 -11.3 5 -11.3 2.7Z" fill="url(#gHole)"/><path transform="translate(925.8 1211.1) rotate(8.2)" d="M-5.6 1.3C-5.6 -2.7 -3.2 -4.5 0 -4.5C3.2 -4.5 5.6 -2.7 5.6 1.3C5.6 2.5 5 2.8 3.9 2.8L-3.9 2.8C-5 2.8 -5.6 2.5 -5.6 1.3Z" fill="url(#gHole)"/><path transform="translate(884.2 1728.1) rotate(15.6)" d="M-12 2.6C-12 -5.2 -6.7 -8.7 0 -8.7C6.7 -8.7 12 -5.2 12 2.6C12 4.9 10.6 5.4 8.4 5.4L-8.4 5.4C-10.6 5.4 -12 4.9 -12 2.6Z" fill="url(#gHole)"/><path transform="translate(791.8 1367.6) rotate(13.2)" d="M-9.6 2.5C-9.6 -5 -5.4 -8.4 0 -8.4C5.4 -8.4 9.6 -5 9.6 2.5C9.6 4.7 8.4 5.2 6.7 5.2L-6.7 5.2C-8.4 5.2 -9.6 4.7 -9.6 2.5Z" fill="url(#gHole)"/><path transform="translate(891.8 1513.8) rotate(-16)" d="M-9.8 2.6C-9.8 -5.3 -5.5 -8.8 0 -8.8C5.5 -8.8 9.8 -5.3 9.8 2.6C9.8 4.9 8.6 5.4 6.8 5.4L-6.8 5.4C-8.6 5.4 -9.8 4.9 -9.8 2.6Z" fill="url(#gHole)"/><path transform="translate(1123.2 1447.4) rotate(1)" d="M-6.7 2C-6.7 -3.9 -3.8 -6.5 0 -6.5C3.8 -6.5 6.7 -3.9 6.7 2C6.7 3.7 5.9 4.1 4.7 4.1L-4.7 4.1C-5.9 4.1 -6.7 3.7 -6.7 2Z" fill="url(#gHole)"/><path transform="translate(1113.3 1617.5) rotate(6.1)" d="M-10.1 2.5C-10.1 -4.9 -5.7 -8.2 0 -8.2C5.7 -8.2 10.1 -4.9 10.1 2.5C10.1 4.6 8.9 5.1 7.1 5.1L-7.1 5.1C-8.9 5.1 -10.1 4.6 -10.1 2.5Z" fill="url(#gHole)"/><path transform="translate(1100.7 1371.3) rotate(-13.8)" d="M-8 2.1C-8 -4.2 -4.5 -7 0 -7C4.5 -7 8 -4.2 8 2.1C8 3.9 7.1 4.3 5.6 4.3L-5.6 4.3C-7.1 4.3 -8 3.9 -8 2.1Z" fill="url(#gHole)"/><path transform="translate(1022.9 1437.7) rotate(16.2)" d="M-6.1 1.6C-6.1 -3.2 -3.4 -5.4 0 -5.4C3.4 -5.4 6.1 -3.2 6.1 1.6C6.1 3 5.3 3.3 4.2 3.3L-4.2 3.3C-5.3 3.3 -6.1 3 -6.1 1.6Z" fill="url(#gHole)"/><path transform="translate(1184.7 1531.2) rotate(-18)" d="M-13.8 3.6C-13.8 -7.2 -7.7 -11.9 0 -11.9C7.7 -11.9 13.8 -7.2 13.8 3.6C13.8 6.7 12.1 7.4 9.6 7.4L-9.6 7.4C-12.1 7.4 -13.8 6.7 -13.8 3.6Z" fill="url(#gHole)"/><path transform="translate(842.9 1538.4) rotate(2.4)" d="M-11 3C-11 -6.1 -6.2 -10.1 0 -10.1C6.2 -10.1 11 -6.1 11 3C11 5.7 9.7 6.3 7.7 6.3L-7.7 6.3C-9.7 6.3 -11 5.7 -11 3Z" fill="url(#gHole)"/><path transform="translate(812.8 1416.1) rotate(10.4)" d="M-11 2.6C-11 -5.2 -6.1 -8.7 0 -8.7C6.1 -8.7 11 -5.2 11 2.6C11 4.9 9.7 5.4 7.7 5.4L-7.7 5.4C-9.7 5.4 -11 4.9 -11 2.6Z" fill="url(#gHole)"/><path transform="translate(857 1221.7) rotate(-8.2)" d="M-8.6 2C-8.6 -4.1 -4.8 -6.8 0 -6.8C4.8 -6.8 8.6 -4.1 8.6 2C8.6 3.8 7.6 4.2 6 4.2L-6 4.2C-7.6 4.2 -8.6 3.8 -8.6 2Z" fill="url(#gHole)"/><path transform="translate(1158.8 1762.2) rotate(15)" d="M-10 2.2C-10 -4.4 -5.6 -7.3 0 -7.3C5.6 -7.3 10 -4.4 10 2.2C10 4.1 8.8 4.5 7 4.5L-7 4.5C-8.8 4.5 -10 4.1 -10 2.2Z" fill="url(#gHole)"/><path transform="translate(918.6 1254.5) rotate(-3)" d="M-6.4 1.4C-6.4 -2.9 -3.6 -4.8 0 -4.8C3.6 -4.8 6.4 -2.9 6.4 1.4C6.4 2.7 5.6 3 4.5 3L-4.5 3C-5.6 3 -6.4 2.7 -6.4 1.4Z" fill="url(#gHole)"/><path transform="translate(1189.6 1616.2) rotate(5.1)" d="M-9.7 2.3C-9.7 -4.5 -5.5 -7.5 0 -7.5C5.5 -7.5 9.7 -4.5 9.7 2.3C9.7 4.2 8.6 4.7 6.8 4.7L-6.8 4.7C-8.6 4.7 -9.7 4.2 -9.7 2.3Z" fill="url(#gHole)"/><path transform="translate(1162 1431.2) rotate(4.5)" d="M-5.5 1.4C-5.5 -2.8 -3.1 -4.6 0 -4.6C3.1 -4.6 5.5 -2.8 5.5 1.4C5.5 2.6 4.9 2.9 3.9 2.9L-3.9 2.9C-4.9 2.9 -5.5 2.6 -5.5 1.4Z" fill="url(#gHole)"/><path transform="translate(1033.9 1271.3) rotate(5.3)" d="M-9.9 2.3C-9.9 -4.7 -5.5 -7.8 0 -7.8C5.5 -7.8 9.9 -4.7 9.9 2.3C9.9 4.4 8.7 4.8 6.9 4.8L-6.9 4.8C-8.7 4.8 -9.9 4.4 -9.9 2.3Z" fill="url(#gHole)"/><path transform="translate(1194.6 1352.8) rotate(-9.3)" d="M-5.8 1.5C-5.8 -3.1 -3.2 -5.1 0 -5.1C3.2 -5.1 5.8 -3.1 5.8 1.5C5.8 2.9 5.1 3.2 4 3.2L-4 3.2C-5.1 3.2 -5.8 2.9 -5.8 1.5Z" fill="url(#gHole)"/><path transform="translate(1101.1 1307.5) rotate(-2.7)" d="M-8.4 2C-8.4 -3.9 -4.7 -6.5 0 -6.5C4.7 -6.5 8.4 -3.9 8.4 2C8.4 3.6 7.4 4 5.9 4L-5.9 4C-7.4 4 -8.4 3.6 -8.4 2Z" fill="url(#gHole)"/><path transform="translate(1031.8 1484.8) rotate(-4)" d="M-11.1 2.4C-11.1 -4.8 -6.2 -8 0 -8C6.2 -8 11.1 -4.8 11.1 2.4C11.1 4.5 9.8 5 7.8 5L-7.8 5C-9.8 5 -11.1 4.5 -11.1 2.4Z" fill="url(#gHole)"/><path transform="translate(1045.5 1243.6) rotate(16.7)" d="M-9.5 2.3C-9.5 -4.7 -5.3 -7.8 0 -7.8C5.3 -7.8 9.5 -4.7 9.5 2.3C9.5 4.4 8.4 4.8 6.7 4.8L-6.7 4.8C-8.4 4.8 -9.5 4.4 -9.5 2.3Z" fill="url(#gHole)"/><path transform="translate(1229.7 1220.5) rotate(2.9)" d="M-12.4 3C-12.4 -6 -6.9 -10 0 -10C6.9 -10 12.4 -6 12.4 3C12.4 5.6 10.9 6.2 8.7 6.2L-8.7 6.2C-10.9 6.2 -12.4 5.6 -12.4 3Z" fill="url(#gHoleLt)"/><path transform="translate(843.8 1565.6) rotate(16.8)" d="M-5.7 1.4C-5.7 -2.9 -3.2 -4.8 0 -4.8C3.2 -4.8 5.7 -2.9 5.7 1.4C5.7 2.7 5.1 3 4 3L-4 3C-5.1 3 -5.7 2.7 -5.7 1.4Z" fill="url(#gHole)"/><path transform="translate(916.8 1730.3) rotate(-15.6)" d="M-12.5 3.4C-12.5 -6.9 -7 -11.5 0 -11.5C7 -11.5 12.5 -6.9 12.5 3.4C12.5 6.4 11 7.1 8.8 7.1L-8.8 7.1C-11 7.1 -12.5 6.4 -12.5 3.4Z" fill="url(#gHole)"/><path transform="translate(1075 1251.2) rotate(-7.3)" d="M-10.8 2.6C-10.8 -5.2 -6 -8.6 0 -8.6C6 -8.6 10.8 -5.2 10.8 2.6C10.8 4.8 9.5 5.4 7.5 5.4L-7.5 5.4C-9.5 5.4 -10.8 4.8 -10.8 2.6Z" fill="url(#gHole)"/><path transform="translate(1176.8 1495.7) rotate(0.7)" d="M-9 2.1C-9 -4.1 -5 -6.9 0 -6.9C5 -6.9 9 -4.1 9 2.1C9 3.8 7.9 4.2 6.3 4.2L-6.3 4.2C-7.9 4.2 -9 3.8 -9 2.1Z" fill="url(#gHole)"/><path transform="translate(1256.9 1299.9) rotate(-8.1)" d="M-10.8 2.5C-10.8 -4.9 -6 -8.2 0 -8.2C6 -8.2 10.8 -4.9 10.8 2.5C10.8 4.6 9.5 5.1 7.6 5.1L-7.6 5.1C-9.5 5.1 -10.8 4.6 -10.8 2.5Z" fill="url(#gHoleLt)"/><path transform="translate(1138 1726.8) rotate(1.9)" d="M-10.2 2.5C-10.2 -5 -5.7 -8.3 0 -8.3C5.7 -8.3 10.2 -5 10.2 2.5C10.2 4.7 9 5.2 7.2 5.2L-7.2 5.2C-9 5.2 -10.2 4.7 -10.2 2.5Z" fill="url(#gHole)"/><path transform="translate(1130.3 1307.8) rotate(11.5)" d="M-11.5 2.8C-11.5 -5.6 -6.4 -9.3 0 -9.3C6.4 -9.3 11.5 -5.6 11.5 2.8C11.5 5.2 10.1 5.8 8 5.8L-8 5.8C-10.1 5.8 -11.5 5.2 -11.5 2.8Z" fill="url(#gHole)"/><path transform="translate(896 1286.7) rotate(-9.3)" d="M-12.3 3.6C-12.3 -7.1 -6.9 -11.9 0 -11.9C6.9 -11.9 12.3 -7.1 12.3 3.6C12.3 6.7 10.8 7.4 8.6 7.4L-8.6 7.4C-10.8 7.4 -12.3 6.7 -12.3 3.6Z" fill="url(#gHole)"/><path transform="translate(769.5 1237.6) rotate(4.5)" d="M-9.8 2.3C-9.8 -4.6 -5.5 -7.7 0 -7.7C5.5 -7.7 9.8 -4.6 9.8 2.3C9.8 4.3 8.6 4.8 6.8 4.8L-6.8 4.8C-8.6 4.8 -9.8 4.3 -9.8 2.3Z" fill="url(#gHole)"/><path transform="translate(1085.2 1344.4) rotate(-1.3)" d="M-5.6 1.5C-5.6 -3.1 -3.1 -5.1 0 -5.1C3.1 -5.1 5.6 -3.1 5.6 1.5C5.6 2.9 4.9 3.2 3.9 3.2L-3.9 3.2C-4.9 3.2 -5.6 2.9 -5.6 1.5Z" fill="url(#gHole)"/><path transform="translate(1129.1 1366.4) rotate(14.9)" d="M-9.2 2.6C-9.2 -5.3 -5.2 -8.8 0 -8.8C5.2 -8.8 9.2 -5.3 9.2 2.6C9.2 4.9 8.1 5.5 6.4 5.5L-6.4 5.5C-8.1 5.5 -9.2 4.9 -9.2 2.6Z" fill="url(#gHole)"/><path transform="translate(1110.9 1422.7) rotate(-13.3)" d="M-11.2 2.5C-11.2 -5 -6.3 -8.4 0 -8.4C6.3 -8.4 11.2 -5 11.2 2.5C11.2 4.7 9.9 5.2 7.9 5.2L-7.9 5.2C-9.9 5.2 -11.2 4.7 -11.2 2.5Z" fill="url(#gHole)"/><path transform="translate(925.7 1453.5) rotate(16.6)" d="M-12.3 2.7C-12.3 -5.4 -6.9 -9.1 0 -9.1C6.9 -9.1 12.3 -5.4 12.3 2.7C12.3 5.1 10.8 5.6 8.6 5.6L-8.6 5.6C-10.8 5.6 -12.3 5.1 -12.3 2.7Z" fill="url(#gHole)"/><path transform="translate(968.1 1246.4) rotate(-12.4)" d="M-13.4 3.3C-13.4 -6.5 -7.5 -10.9 0 -10.9C7.5 -10.9 13.4 -6.5 13.4 3.3C13.4 6.1 11.8 6.7 9.4 6.7L-9.4 6.7C-11.8 6.7 -13.4 6.1 -13.4 3.3Z" fill="url(#gHole)"/><path transform="translate(1269.8 1197.2) rotate(-7.5)" d="M-12.2 2.8C-12.2 -5.5 -6.8 -9.2 0 -9.2C6.8 -9.2 12.2 -5.5 12.2 2.8C12.2 5.1 10.7 5.7 8.5 5.7L-8.5 5.7C-10.7 5.7 -12.2 5.1 -12.2 2.8Z" fill="url(#gHoleLt)"/><path transform="translate(1189.1 1300.5) rotate(-4.2)" d="M-9 2.3C-9 -4.6 -5.1 -7.7 0 -7.7C5.1 -7.7 9 -4.6 9 2.3C9 4.3 7.9 4.8 6.3 4.8L-6.3 4.8C-7.9 4.8 -9 4.3 -9 2.3Z" fill="url(#gHoleLt)"/><path transform="translate(1248.4 1262.9) rotate(-12)" d="M-9.8 2.8C-9.8 -5.5 -5.5 -9.2 0 -9.2C5.5 -9.2 9.8 -5.5 9.8 2.8C9.8 5.2 8.6 5.7 6.9 5.7L-6.9 5.7C-8.6 5.7 -9.8 5.2 -9.8 2.8Z" fill="url(#gHoleLt)"/><path transform="translate(1241.2 1475.9) rotate(-4)" d="M-6 1.5C-6 -3.1 -3.3 -5.1 0 -5.1C3.3 -5.1 6 -3.1 6 1.5C6 2.9 5.2 3.2 4.2 3.2L-4.2 3.2C-5.2 3.2 -6 2.9 -6 1.5Z" fill="url(#gHole)"/><path transform="translate(785.4 1296.3) rotate(-6.8)" d="M-10.3 2.7C-10.3 -5.4 -5.7 -8.9 0 -8.9C5.7 -8.9 10.3 -5.4 10.3 2.7C10.3 5 9 5.5 7.2 5.5L-7.2 5.5C-9 5.5 -10.3 5 -10.3 2.7Z" fill="url(#gHole)"/><path transform="translate(1098.3 1683.1) rotate(12)" d="M-10.9 2.7C-10.9 -5.3 -6.1 -8.9 0 -8.9C6.1 -8.9 10.9 -5.3 10.9 2.7C10.9 5 9.6 5.5 7.6 5.5L-7.6 5.5C-9.6 5.5 -10.9 5 -10.9 2.7Z" fill="url(#gHole)"/><path transform="translate(824.4 1454.4) rotate(-14.1)" d="M-13.4 3.6C-13.4 -7.2 -7.5 -12 0 -12C7.5 -12 13.4 -7.2 13.4 3.6C13.4 6.7 11.8 7.4 9.4 7.4L-9.4 7.4C-11.8 7.4 -13.4 6.7 -13.4 3.6Z" fill="url(#gHole)"/><path transform="translate(1126.9 1642.4) rotate(1.3)" d="M-10.5 2.3C-10.5 -4.5 -5.9 -7.6 0 -7.6C5.9 -7.6 10.5 -4.5 10.5 2.3C10.5 4.2 9.2 4.7 7.3 4.7L-7.3 4.7C-9.2 4.7 -10.5 4.2 -10.5 2.3Z" fill="url(#gHole)"/><path transform="translate(936.2 1361.1) rotate(-12.5)" d="M-5.7 1.4C-5.7 -2.9 -3.2 -4.8 0 -4.8C3.2 -4.8 5.7 -2.9 5.7 1.4C5.7 2.7 5 3 4 3L-4 3C-5 3 -5.7 2.7 -5.7 1.4Z" fill="url(#gHole)"/><path transform="translate(1228.9 1343.1) rotate(-13.2)" d="M-5.6 1.4C-5.6 -2.7 -3.1 -4.6 0 -4.6C3.1 -4.6 5.6 -2.7 5.6 1.4C5.6 2.6 4.9 2.8 3.9 2.8L-3.9 2.8C-4.9 2.8 -5.6 2.6 -5.6 1.4Z" fill="url(#gHole)"/><path transform="translate(1252 1174.4) rotate(-8.1)" d="M-7.6 2.1C-7.6 -4.3 -4.2 -7.1 0 -7.1C4.2 -7.1 7.6 -4.3 7.6 2.1C7.6 4 6.7 4.4 5.3 4.4L-5.3 4.4C-6.7 4.4 -7.6 4 -7.6 2.1Z" fill="url(#gHoleLt)"/><path transform="translate(1018.1 1335) rotate(9)" d="M-7.7 1.9C-7.7 -3.8 -4.3 -6.4 0 -6.4C4.3 -6.4 7.7 -3.8 7.7 1.9C7.7 3.6 6.8 3.9 5.4 3.9L-5.4 3.9C-6.8 3.9 -7.7 3.6 -7.7 1.9Z" fill="url(#gHole)"/><path transform="translate(809.2 1243.7) rotate(3)" d="M-5.9 1.6C-5.9 -3.2 -3.3 -5.3 0 -5.3C3.3 -5.3 5.9 -3.2 5.9 1.6C5.9 3 5.2 3.3 4.1 3.3L-4.1 3.3C-5.2 3.3 -5.9 3 -5.9 1.6Z" fill="url(#gHole)"/><path transform="translate(1050.9 1508.8) rotate(-1.8)" d="M-6.8 1.8C-6.8 -3.7 -3.8 -6.1 0 -6.1C3.8 -6.1 6.8 -3.7 6.8 1.8C6.8 3.4 6 3.8 4.8 3.8L-4.8 3.8C-6 3.8 -6.8 3.4 -6.8 1.8Z" fill="url(#gHole)"/><path transform="translate(1154.9 1628.5) rotate(3.8)" d="M-8.3 2C-8.3 -4 -4.7 -6.6 0 -6.6C4.7 -6.6 8.3 -4 8.3 2C8.3 3.7 7.3 4.1 5.8 4.1L-5.8 4.1C-7.3 4.1 -8.3 3.7 -8.3 2Z" fill="url(#gHole)"/><path transform="translate(974.9 1560.1) rotate(4.2)" d="M-6.6 1.7C-6.6 -3.5 -3.7 -5.8 0 -5.8C3.7 -5.8 6.6 -3.5 6.6 1.7C6.6 3.2 5.8 3.6 4.6 3.6L-4.6 3.6C-5.8 3.6 -6.6 3.2 -6.6 1.7Z" fill="url(#gHole)"/><path transform="translate(862.8 1506.9) rotate(2.4)" d="M-12.5 3C-12.5 -6 -7 -10.1 0 -10.1C7 -10.1 12.5 -6 12.5 3C12.5 5.6 11 6.2 8.8 6.2L-8.8 6.2C-11 6.2 -12.5 5.6 -12.5 3Z" fill="url(#gHole)"/><path transform="translate(859.4 1183.7) rotate(-10.4)" d="M-8.8 2.1C-8.8 -4.1 -4.9 -6.8 0 -6.8C4.9 -6.8 8.8 -4.1 8.8 2.1C8.8 3.8 7.7 4.2 6.1 4.2L-6.1 4.2C-7.7 4.2 -8.8 3.8 -8.8 2.1Z" fill="url(#gHole)"/><path transform="translate(1161.9 1360) rotate(-4.8)" d="M-8.5 2.3C-8.5 -4.7 -4.8 -7.8 0 -7.8C4.8 -7.8 8.5 -4.7 8.5 2.3C8.5 4.4 7.5 4.8 5.9 4.8L-5.9 4.8C-7.5 4.8 -8.5 4.4 -8.5 2.3Z" fill="url(#gHole)"/><path transform="translate(1253.8 1426.6) rotate(-3.3)" d="M-6 1.4C-6 -2.8 -3.3 -4.7 0 -4.7C3.3 -4.7 6 -2.8 6 1.4C6 2.7 5.2 2.9 4.2 2.9L-4.2 2.9C-5.2 2.9 -6 2.7 -6 1.4Z" fill="url(#gHole)"/><path transform="translate(901.4 1322.1) rotate(-2.1)" d="M-8.7 2.5C-8.7 -4.9 -4.9 -8.2 0 -8.2C4.9 -8.2 8.7 -4.9 8.7 2.5C8.7 4.6 7.7 5.1 6.1 5.1L-6.1 5.1C-7.7 5.1 -8.7 4.6 -8.7 2.5Z" fill="url(#gHole)"/><path transform="translate(908.9 1673.6) rotate(4.3)" d="M-6.1 1.4C-6.1 -2.8 -3.4 -4.6 0 -4.6C3.4 -4.6 6.1 -2.8 6.1 1.4C6.1 2.6 5.3 2.9 4.2 2.9L-4.2 2.9C-5.3 2.9 -6.1 2.6 -6.1 1.4Z" fill="url(#gHole)"/><path transform="translate(943 1334.1) rotate(-12.6)" d="M-8.2 2.1C-8.2 -4.2 -4.6 -7.1 0 -7.1C4.6 -7.1 8.2 -4.2 8.2 2.1C8.2 4 7.2 4.4 5.7 4.4L-5.7 4.4C-7.2 4.4 -8.2 4 -8.2 2.1Z" fill="url(#gHole)"/><path transform="translate(896.2 1226.1) rotate(9.7)" d="M-5.2 1.5C-5.2 -3 -2.9 -5 0 -5C2.9 -5 5.2 -3 5.2 1.5C5.2 2.8 4.6 3.1 3.7 3.1L-3.7 3.1C-4.6 3.1 -5.2 2.8 -5.2 1.5Z" fill="url(#gHole)"/><path transform="translate(1101.9 1231) rotate(17.2)" d="M-10.6 2.5C-10.6 -5 -5.9 -8.4 0 -8.4C5.9 -8.4 10.6 -5 10.6 2.5C10.6 4.7 9.3 5.2 7.4 5.2L-7.4 5.2C-9.3 5.2 -10.6 4.7 -10.6 2.5Z" fill="url(#gHole)"/><path transform="translate(1138.7 1416.6) rotate(-12.9)" d="M-10.1 2.3C-10.1 -4.7 -5.7 -7.8 0 -7.8C5.7 -7.8 10.1 -4.7 10.1 2.3C10.1 4.4 8.9 4.8 7.1 4.8L-7.1 4.8C-8.9 4.8 -10.1 4.4 -10.1 2.3Z" fill="url(#gHole)"/><path transform="translate(1003.8 1457.5) rotate(-17.1)" d="M-7.1 1.8C-7.1 -3.7 -4 -6.1 0 -6.1C4 -6.1 7.1 -3.7 7.1 1.8C7.1 3.4 6.2 3.8 4.9 3.8L-4.9 3.8C-6.2 3.8 -7.1 3.4 -7.1 1.8Z" fill="url(#gHole)"/><path transform="translate(963.6 1439.3) rotate(17.1)" d="M-5.9 1.5C-5.9 -2.9 -3.3 -4.9 0 -4.9C3.3 -4.9 5.9 -2.9 5.9 1.5C5.9 2.7 5.2 3 4.1 3L-4.1 3C-5.2 3 -5.9 2.7 -5.9 1.5Z" fill="url(#gHole)"/><path transform="translate(1094.1 1543.3) rotate(10.5)" d="M-9 2.2C-9 -4.5 -5 -7.5 0 -7.5C5 -7.5 9 -4.5 9 2.2C9 4.2 7.9 4.6 6.3 4.6L-6.3 4.6C-7.9 4.6 -9 4.2 -9 2.2Z" fill="url(#gHole)"/><path transform="translate(864.8 1351.9) rotate(-8.4)" d="M-10.5 2.3C-10.5 -4.7 -5.9 -7.8 0 -7.8C5.9 -7.8 10.5 -4.7 10.5 2.3C10.5 4.4 9.3 4.8 7.4 4.8L-7.4 4.8C-9.3 4.8 -10.5 4.4 -10.5 2.3Z" fill="url(#gHole)"/></g>
<path d="M966 -20C966.2 -11 966 16.5 967 34C968 51.5 970.2 68 972 85C973.8 102 976.3 119 978 136C979.7 153 982 170 982 187C982 204 979.7 223.8 978 238C976.3 252.2 973.7 260.7 972 272C970.3 283.3 967.5 294.7 968 306C968.5 317.3 972.2 328.7 975 340C977.8 351.3 981 364.8 985 374C989 383.2 993.8 390.3 999 395C1004.2 399.7 1010.3 400 1016 402C1021.7 404 1027.8 408.8 1033 407C1038.2 405.2 1042.5 396.5 1047 391C1051.5 385.5 1057 379.7 1060 374C1063 368.3 1063.3 365.5 1065 357C1066.7 348.5 1069.7 334.3 1070 323C1070.3 311.7 1068.3 300.3 1067 289C1065.7 277.7 1064 266.3 1062 255C1060 243.7 1055.7 232.3 1055 221C1054.3 209.7 1057.7 198.3 1058 187C1058.3 175.7 1056.3 167.2 1057 153C1057.7 138.8 1060 116.2 1062 102C1064 87.8 1067.3 79.3 1069 68C1070.7 56.7 1071.5 48.7 1072 34C1072.5 19.3 1072 -11 1072 -20Z" fill="url(#gMarrow)" stroke="#b98a12" stroke-width="1.5"/>
<path d="M970 1790C970 1786 969.8 1774.8 970 1766C970.2 1757.2 971.2 1748.2 971 1737C970.8 1725.8 971.2 1710 969 1699C966.8 1688 960.3 1682 958 1671C955.7 1660 953.7 1644.2 955 1633C956.3 1621.8 961.7 1613.5 966 1604C970.3 1594.5 975.3 1583 981 1576C986.7 1569 993.5 1565 1000 1562C1006.5 1559 1013.3 1558.5 1020 1558C1026.7 1557.5 1035 1557.7 1040 1559C1045 1560.3 1045.7 1560.8 1050 1566C1054.3 1571.2 1061.3 1581.3 1066 1590C1070.7 1598.7 1074.8 1607.7 1078 1618C1081.2 1628.3 1085 1641.7 1085 1652C1085 1662.3 1080.7 1670.5 1078 1680C1075.3 1689.5 1070.7 1699 1069 1709C1067.3 1719 1068 1730.5 1068 1740C1068 1749.5 1068.8 1757.7 1069 1766C1069.2 1774.3 1069 1786 1069 1790Z" fill="url(#gMarrow)" stroke="#b98a12" stroke-width="1.5"/>
<line x1="368" y1="657" x2="496" y2="798" stroke="#0b0b0d" stroke-width="5.5" stroke-linecap="round"/>
<line x1="344" y1="1179" x2="569" y2="1000" stroke="#0b0b0d" stroke-width="5.5" stroke-linecap="round"/>
<line x1="1596" y1="408" x2="1046" y2="934" stroke="#0b0b0d" stroke-width="5.5" stroke-linecap="round"/>
<line x1="1730" y1="628" x2="1536" y2="730" stroke="#0b0b0d" stroke-width="5.5" stroke-linecap="round"/>
<line x1="1766" y1="963" x2="1412" y2="978" stroke="#0b0b0d" stroke-width="5.5" stroke-linecap="round"/>
<line x1="1142" y1="956" x2="1338" y2="1256" stroke="#0b0b0d" stroke-width="5.5" stroke-linecap="round"/>
<line x1="1049" y1="1074" x2="1338" y2="1256" stroke="#0b0b0d" stroke-width="5.5" stroke-linecap="round"/>
<line x1="1338" y1="1256" x2="1608" y2="1526" stroke="#0b0b0d" stroke-width="5.5" stroke-linecap="round"/>
<text x="224" y="644" font-size="90" font-weight="600" font-family="'Liberation Serif', 'Noto Serif CJK SC', serif" fill="#0b0b0d">纤维层</text>
<text x="177" y="1275" font-size="90" font-weight="600" font-family="'Liberation Serif', 'Noto Serif CJK SC', serif" fill="#0b0b0d">滑膜层</text>
<text x="1603" y="429" font-size="91" font-weight="600" font-family="'Liberation Serif', 'Noto Serif CJK SC', serif" fill="#0b0b0d">关节面</text>
<text x="1727" y="650" font-size="91" font-weight="600" font-family="'Liberation Serif', 'Noto Serif CJK SC', serif" fill="#0b0b0d">关节囊</text>
<text x="1767" y="995" font-size="91" font-weight="600" font-family="'Liberation Serif', 'Noto Serif CJK SC', serif" fill="#0b0b0d">关节腔</text>
<text x="1511" y="1613" font-size="91" font-weight="600" font-family="'Liberation Serif', 'Noto Serif CJK SC', serif" fill="#0b0b0d">关节软骨</text>
</svg>
</body></html>
